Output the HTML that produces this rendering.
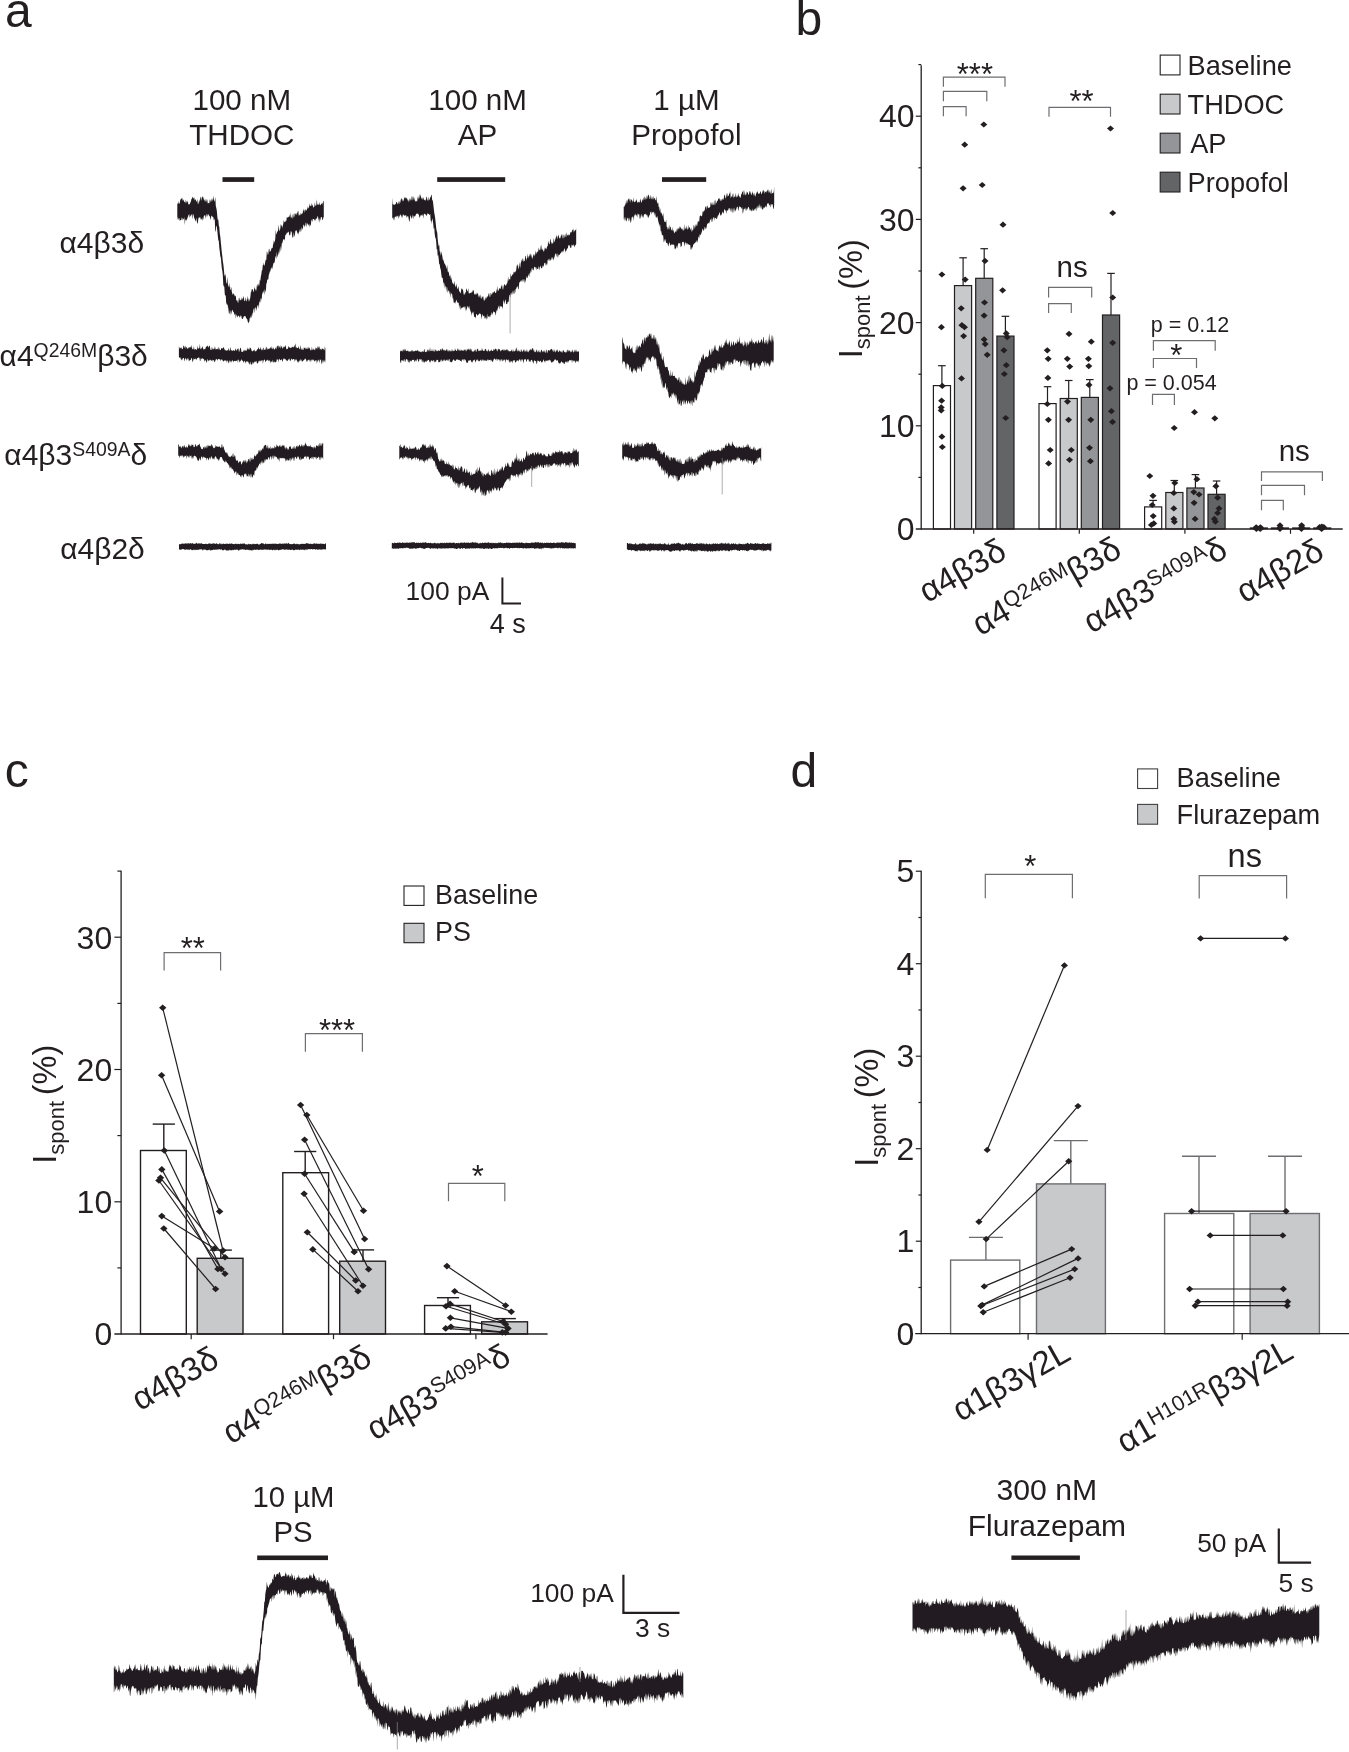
<!DOCTYPE html>
<html lang="en"><head><meta charset="utf-8"><title>Figure</title>
<style>html,body{margin:0;padding:0;background:#fff}svg{display:block;will-change:transform}text{font-family:"Liberation Sans",sans-serif;fill:#231f20}</style>
</head><body>
<svg width="1349" height="1752" viewBox="0 0 1349 1752">
<defs><filter id="soft" x="-2%" y="-10%" width="104%" height="120%"><feGaussianBlur stdDeviation="0.42"/></filter></defs>
<rect width="1349" height="1752" fill="#fff"/>
<g id="panel-a">
<text x="5" y="27.2" font-size="48.0" text-anchor="start">a</text>
<text x="241.8" y="109.6" font-size="29.6" text-anchor="middle">100 nM</text>
<text x="241.8" y="144.7" font-size="29.6" text-anchor="middle">THDOC</text>
<text x="477.6" y="109.6" font-size="29.6" text-anchor="middle">100 nM</text>
<text x="477.6" y="144.7" font-size="29.6" text-anchor="middle">AP</text>
<text x="686.4" y="109.6" font-size="29.6" text-anchor="middle">1 µM</text>
<text x="686.4" y="144.7" font-size="29.6" text-anchor="middle">Propofol</text>
<rect x="222.5" y="177.2" width="31.7" height="4.7" fill="#231f20"/>
<rect x="437.2" y="177.2" width="68" height="4.7" fill="#231f20"/>
<rect x="662" y="177.2" width="44.2" height="4.7" fill="#231f20"/>
<text x="144.2" y="252.9" font-size="30.0" text-anchor="end">α4β3δ</text>
<text x="147.8" y="365.5" font-size="30.0" text-anchor="end">α4<tspan font-size="19.4" dy="-9">Q246M</tspan><tspan dy="9">β3δ</tspan></text>
<text x="147.2" y="464.5" font-size="30.0" text-anchor="end">α4β3<tspan font-size="19.4" dy="-9">S409A</tspan><tspan dy="9">δ</tspan></text>
<text x="144.8" y="559" font-size="30.0" text-anchor="end">α4β2δ</text>
<path d="M177.3 204.1L177.8 203.4L178.3 201.1L178.8 204L179.3 203.8L179.8 202.8L180.3 199.8L180.8 199.3L181.3 198.2L181.8 198.6L182.3 201.1L182.8 197.4L183.3 200.1L183.8 200.6L184.3 202.3L184.8 201.5L185.3 203.4L185.8 199.2L186.3 203.6L186.8 200.5L187.3 202.4L187.8 200.4L188.3 204.3L188.8 204.5L189.3 204.1L189.8 204.6L190.3 200.9L190.8 203.6L191.3 198.5L191.8 199.6L192.3 197.6L192.8 196.7L193.3 198L193.8 198.3L194.3 200.8L194.8 197.1L195.3 200.5L195.8 198.9L196.3 201.4L196.8 201.8L197.3 198.7L197.8 203.7L198.3 204.1L198.8 202.1L199.3 199.2L199.8 202.6L200.3 197.8L200.8 196.4L201.3 201.1L201.8 197.2L202.3 197.2L202.8 196L203.3 200L203.8 196.4L204.3 200.2L204.8 200.5L205.3 202L205.8 198.4L206.3 202.4L206.8 199.1L207.3 200.1L207.8 203.4L208.3 203.2L208.8 202.8L209.3 203.6L209.8 199.3L210.3 200.1L210.8 202.6L211.3 198L211.8 201.9L212.3 198L212.8 201.7L213.3 195.5L213.8 199.3L214.3 201.8L214.8 200.2L215.3 196.9L215.8 206.1L216.3 208.1L216.8 210.6L217.3 216.5L217.8 220L218.3 219.4L218.8 225.6L219.3 226.9L219.8 233.4L220.3 236.4L220.8 242.1L221.3 246.9L221.8 252.3L222.3 256.1L222.8 261.1L223.3 264.1L223.8 268.6L224.3 274.2L224.8 276.5L225.3 273.4L225.8 276.9L226.3 282.9L226.8 283.4L227.3 276.6L227.8 283.6L228.3 285.5L228.8 286.9L229.3 287.3L229.8 282.7L230.3 289.6L230.8 290.1L231.3 286.8L231.8 291.8L232.3 293.6L232.8 294.9L233.3 293.1L233.8 294.3L234.3 294.6L234.8 296.2L235.3 296.3L235.8 295.3L236.3 301L236.8 299.9L237.3 300.2L237.8 302.4L238.3 302.7L238.8 298.3L239.3 297.4L239.8 300.5L240.3 299.5L240.8 300.7L241.3 297.3L241.8 300.5L242.3 297.3L242.8 300.1L243.3 297.7L243.8 295.8L244.3 300.8L244.8 301.2L245.3 300.3L245.8 296.8L246.3 301.1L246.8 301.5L247.3 295.4L247.8 299.7L248.3 298L248.8 301.6L249.3 300.8L249.8 299.2L250.3 297.5L250.8 292.4L251.3 291.8L251.8 289.1L252.3 289.5L252.8 289L253.3 292L253.8 291.8L254.3 286.8L254.8 288.5L255.3 291L255.8 288.5L256.3 291L256.8 285.8L257.3 283.8L257.8 287.2L258.3 283L258.8 286L259.3 285.3L259.8 279.4L260.3 281.1L260.8 276.8L261.3 274.2L261.8 270.6L262.3 270.2L262.8 265L263.3 265.2L263.8 262.6L264.3 266.3L264.8 264.6L265.3 261.6L265.8 259.4L266.3 260.2L266.8 251.5L267.3 252L267.8 255.1L268.3 253.9L268.8 249.6L269.3 248.6L269.8 252L270.3 251.2L270.8 251L271.3 249.1L271.8 247.8L272.3 248.2L272.8 247.2L273.3 239.7L273.8 244.9L274.3 241.6L274.8 241.5L275.3 238.2L275.8 229.2L276.3 234.6L276.8 233.4L277.3 231.2L277.8 231.4L278.3 228.7L278.8 224.7L279.3 231L279.8 230.5L280.3 228.5L280.8 223.7L281.3 226.6L281.8 224.6L282.3 228.2L282.8 225.5L283.3 223.7L283.8 219.7L284.3 222.1L284.8 222.3L285.3 222.1L285.8 220.6L286.3 221L286.8 217.3L287.3 217.6L287.8 217.5L288.3 216.5L288.8 217.5L289.3 214.5L289.8 217.1L290.3 217.6L290.8 212.2L291.3 217.5L291.8 217.5L292.3 219L292.8 213.5L293.3 218.2L293.8 214L294.3 213.1L294.8 217.4L295.3 213.8L295.8 213.6L296.3 215.3L296.8 213.1L297.3 213.3L297.8 211.2L298.3 210.7L298.8 216.1L299.3 214.3L299.8 215.7L300.3 212.4L300.8 215.6L301.3 214L301.8 213.4L302.3 213.8L302.8 212.6L303.3 208.5L303.8 211.3L304.3 209.5L304.8 212.7L305.3 210.3L305.8 208.9L306.3 210.2L306.8 210.7L307.3 205.9L307.8 209.2L308.3 208L308.8 207.8L309.3 203.3L309.8 206.6L310.3 205.8L310.8 206.1L311.3 202.7L311.8 206.5L312.3 204.2L312.8 205.9L313.3 207L313.8 207.8L314.3 206.7L314.8 202.2L315.3 205.5L315.8 205.8L316.3 205.3L316.8 199.3L317.3 204.3L317.8 204.8L318.3 204.4L318.8 204.7L319.3 202L319.8 205.1L320.3 205.2L320.8 204.8L321.3 203.5L321.8 203.7L322.3 202.2L322.8 204.9L323.3 200.6L323.8 201.7L323.8 217.1L323.3 217.4L322.8 220.2L322.3 219.8L321.8 217L321.3 216.9L320.8 217.4L320.3 220.8L319.8 218L319.3 223.3L318.8 216.8L318.3 221.8L317.8 216.3L317.3 216.3L316.8 219.4L316.3 218L315.8 218.8L315.3 221L314.8 218.9L314.3 220.9L313.8 219.1L313.3 218.9L312.8 218.7L312.3 222.3L311.8 219.6L311.3 220.7L310.8 225.1L310.3 226.1L309.8 223.4L309.3 227.4L308.8 224L308.3 225.7L307.8 223.7L307.3 223L306.8 227.5L306.3 223.5L305.8 222.3L305.3 225.8L304.8 225.2L304.3 227.5L303.8 224.5L303.3 224.9L302.8 229.8L302.3 228.8L301.8 226.7L301.3 230.6L300.8 232.4L300.3 228.3L299.8 232.5L299.3 228.8L298.8 235.3L298.3 232.6L297.8 232.3L297.3 234.2L296.8 230.6L296.3 230.4L295.8 230.6L295.3 231.3L294.8 235.6L294.3 237L293.8 232.1L293.3 236.9L292.8 237.7L292.3 236.9L291.8 232.6L291.3 231.4L290.8 231.1L290.3 235.1L289.8 234.7L289.3 236L288.8 231.4L288.3 232L287.8 233L287.3 232L286.8 234.7L286.3 232.5L285.8 234.9L285.3 234.9L284.8 241L284.3 239.1L283.8 239.8L283.3 238.8L282.8 241.1L282.3 243.2L281.8 243.3L281.3 248.5L280.8 251.7L280.3 246L279.8 249.2L279.3 252.4L278.8 255.2L278.3 251.1L277.8 256.4L277.3 256.8L276.8 251.6L276.3 259.4L275.8 255.9L275.3 257.1L274.8 261.2L274.3 262.9L273.8 262.8L273.3 263.8L272.8 266.2L272.3 268.7L271.8 268.9L271.3 266.9L270.8 269L270.3 271.5L269.8 271.4L269.3 273.7L268.8 275L268.3 279.4L267.8 279.8L267.3 279.3L266.8 282.8L266.3 284.1L265.8 292.6L265.3 290.7L264.8 288.8L264.3 295.2L263.8 290.3L263.3 292.2L262.8 294.2L262.3 291.6L261.8 298.4L261.3 298.8L260.8 303.3L260.3 297.6L259.8 301.7L259.3 302.1L258.8 309.1L258.3 304.5L257.8 304.9L257.3 306.3L256.8 307.9L256.3 310.9L255.8 307.2L255.3 307.4L254.8 313.4L254.3 307.8L253.8 308.8L253.3 310.1L252.8 316.5L252.3 312L251.8 315L251.3 318.2L250.8 316.1L250.3 318.2L249.8 317.8L249.3 321.8L248.8 322L248.3 323.5L247.8 321.7L247.3 319.7L246.8 317.8L246.3 319.2L245.8 317L245.3 316L244.8 316.1L244.3 316.3L243.8 316.6L243.3 317.6L242.8 319.1L242.3 318.9L241.8 318.6L241.3 316.1L240.8 315.3L240.3 316.4L239.8 317.7L239.3 316.6L238.8 316L238.3 315.6L237.8 316.2L237.3 317.8L236.8 314.5L236.3 315.4L235.8 318.8L235.3 313.3L234.8 314.8L234.3 314.7L233.8 311.6L233.3 312.6L232.8 310.6L232.3 309.8L231.8 310.9L231.3 313.7L230.8 314.8L230.3 309.8L229.8 314.1L229.3 313.2L228.8 306.3L228.3 314.3L227.8 305.5L227.3 304.8L226.8 303L226.3 305.1L225.8 296.3L225.3 295.3L224.8 294.6L224.3 286.7L223.8 286.2L223.3 285.1L222.8 275.3L222.3 270.7L221.8 268.2L221.3 262.8L220.8 257.5L220.3 256.3L219.8 251.4L219.3 247.7L218.8 241.1L218.3 240.2L217.8 236L217.3 231L216.8 226.2L216.3 225.7L215.8 230.7L215.3 232L214.8 220.5L214.3 218.5L213.8 220.5L213.3 217.1L212.8 217.1L212.3 216.6L211.8 216.1L211.3 215.5L210.8 220L210.3 218.3L209.8 216.2L209.3 216.2L208.8 214.7L208.3 213.9L207.8 217L207.3 214.4L206.8 213.7L206.3 216.3L205.8 218.8L205.3 215.4L204.8 215.1L204.3 215.8L203.8 216.3L203.3 219.8L202.8 217.4L202.3 221L201.8 218.4L201.3 220L200.8 216.7L200.3 220L199.8 217.3L199.3 217.6L198.8 217.5L198.3 219.1L197.8 223L197.3 223.8L196.8 221.2L196.3 217.7L195.8 220.8L195.3 221.2L194.8 218.7L194.3 218.6L193.8 216L193.3 214.2L192.8 214.1L192.3 219.4L191.8 215.1L191.3 214.1L190.8 216.8L190.3 215.8L189.8 213.7L189.3 218.2L188.8 215.2L188.3 214.6L187.8 219.4L187.3 216.3L186.8 221.3L186.3 219.5L185.8 219.7L185.3 219.8L184.8 225L184.3 216.9L183.8 219.8L183.3 218.2L182.8 220.5L182.3 217.9L181.8 217.5L181.3 219.9L180.8 220.3L180.3 220.1L179.8 221.2L179.3 217.8L178.8 220.3L178.3 217.4L177.8 220.1L177.3 216.2Z" fill="#231f20" filter="url(#soft)"/>
<path d="M392.2 197.8L392.7 204L393.2 204.8L393.7 204.2L394.2 204.7L394.7 204.7L395.2 204.3L395.7 204.3L396.2 202L396.7 201.9L397.2 203.2L397.7 204.4L398.2 201L398.7 203.6L399.2 204.3L399.7 200.7L400.2 203L400.7 200.1L401.2 198.2L401.7 198.6L402.2 201.7L402.7 198.7L403.2 201.3L403.7 200.3L404.2 196.5L404.7 198.8L405.2 197L405.7 198.5L406.2 198.3L406.7 197.5L407.2 200.9L407.7 198.5L408.2 199.9L408.7 202.6L409.2 197.5L409.7 201.8L410.2 198.4L410.7 200.9L411.2 195.6L411.7 199.9L412.2 200.4L412.7 196.6L413.2 196.6L413.7 198.9L414.2 200.7L414.7 197.1L415.2 202.3L415.7 200.6L416.2 201.7L416.7 200.5L417.2 201.4L417.7 196.3L418.2 199.4L418.7 197.2L419.2 194L419.7 198.4L420.2 196.4L420.7 193.9L421.2 197.7L421.7 199L422.2 197.3L422.7 199.6L423.2 199.6L423.7 196.9L424.2 199.8L424.7 200.3L425.2 200L425.7 201L426.2 196.6L426.7 196.9L427.2 201.1L427.7 199.4L428.2 196.6L428.7 200.8L429.2 199.7L429.7 199.2L430.2 196.2L430.7 197.9L431.2 194.7L431.7 194.9L432.2 201L432.7 199.5L433.2 203.6L433.7 208L434.2 212.6L434.7 215L435.2 218.6L435.7 223.1L436.2 227.9L436.7 231.1L437.2 232.3L437.7 239.3L438.2 243.2L438.7 246.6L439.2 244.4L439.7 251.4L440.2 251.4L440.7 255.9L441.2 251.2L441.7 253.7L442.2 255.6L442.7 258.8L443.2 261.4L443.7 259L444.2 264.2L444.7 262.4L445.2 266L445.7 263.9L446.2 269L446.7 267.5L447.2 265L447.7 271.3L448.2 272.8L448.7 271L449.2 275.3L449.7 276.5L450.2 274.4L450.7 278L451.2 280.6L451.7 276.4L452.2 282.6L452.7 283.1L453.2 284.4L453.7 284L454.2 280.9L454.7 283.7L455.2 285.9L455.7 287.6L456.2 283.4L456.7 286L457.2 288.3L457.7 289.6L458.2 286.2L458.7 288.3L459.2 292L459.7 291.1L460.2 292.9L460.7 293.2L461.2 289.4L461.7 287.9L462.2 290.1L462.7 288.6L463.2 291L463.7 294.6L464.2 294.9L464.7 293.7L465.2 291.9L465.7 293.7L466.2 288.6L466.7 289.1L467.2 291L467.7 291.5L468.2 288L468.7 293.2L469.2 293.6L469.7 293.3L470.2 293L470.7 293.1L471.2 291.7L471.7 293.6L472.2 289.7L472.7 292.5L473.2 290.8L473.7 289.4L474.2 294.2L474.7 294.6L475.2 293.4L475.7 295L476.2 292.4L476.7 295L477.2 294.1L477.7 292.4L478.2 294.6L478.7 297.4L479.2 294.9L479.7 296.7L480.2 298.5L480.7 294.2L481.2 297L481.7 299.3L482.2 297.2L482.7 296.4L483.2 295.9L483.7 299.9L484.2 300.9L484.7 299.7L485.2 296.7L485.7 300L486.2 296.3L486.7 299L487.2 296.7L487.7 296.5L488.2 295.6L488.7 293.3L489.2 293.4L489.7 297L490.2 296.8L490.7 292.7L491.2 293.6L491.7 295.5L492.2 291.6L492.7 294.4L493.2 291.4L493.7 293L494.2 291.5L494.7 290.9L495.2 293.3L495.7 292.8L496.2 292.6L496.7 288.7L497.2 291.6L497.7 285.7L498.2 290.4L498.7 290.7L499.2 288.4L499.7 288.2L500.2 288.5L500.7 289.1L501.2 284.2L501.7 286.9L502.2 285.3L502.7 289.4L503.2 289.3L503.7 286L504.2 284.3L504.7 284.2L505.2 286.3L505.7 285L506.2 285.2L506.7 283.7L507.2 283.3L507.7 280.7L508.2 276.2L508.7 281.3L509.2 279.2L509.7 278.9L510.2 279.5L510.7 273L511.2 276.4L511.7 276.3L512.2 274.7L512.7 274.6L513.2 274.3L513.7 271.8L514.2 271.8L514.7 272.7L515.2 272.2L515.7 271.3L516.2 270.3L516.7 265.6L517.2 265.8L517.7 263.5L518.2 269.5L518.7 267.8L519.2 262L519.7 266L520.2 268L520.7 263.2L521.2 261.7L521.7 259.4L522.2 261.3L522.7 258.1L523.2 259.2L523.7 261.9L524.2 260.9L524.7 261.1L525.2 255.8L525.7 256.1L526.2 260.4L526.7 258.6L527.2 258L527.7 253.2L528.2 258.7L528.7 255.9L529.2 256.6L529.7 254.5L530.2 253.5L530.7 254.9L531.2 258.1L531.7 253.8L532.2 258.8L532.7 258.2L533.2 253.4L533.7 255.4L534.2 256.6L534.7 254.2L535.2 254.7L535.7 250.2L536.2 254.2L536.7 252.6L537.2 251L537.7 252.6L538.2 251.3L538.7 247.6L539.2 249.5L539.7 250.2L540.2 250.2L540.7 246.4L541.2 244.6L541.7 249.3L542.2 250.2L542.7 248.4L543.2 251L543.7 251.9L544.2 247L544.7 251.6L545.2 247.6L545.7 248.5L546.2 249.4L546.7 248L547.2 246.3L547.7 246.3L548.2 240.5L548.7 243.1L549.2 244.3L549.7 244L550.2 238.8L550.7 239.6L551.2 244.6L551.7 241.4L552.2 244.3L552.7 242.7L553.2 243.1L553.7 237.8L554.2 242L554.7 241.4L555.2 237L555.7 240.3L556.2 236.4L556.7 235L557.2 239.4L557.7 236.5L558.2 235.9L558.7 234.5L559.2 239.1L559.7 237.5L560.2 238.6L560.7 236.7L561.2 233.8L561.7 236.2L562.2 234.1L562.7 238.3L563.2 238.4L563.7 234.7L564.2 234.5L564.7 238.6L565.2 233.2L565.7 237L566.2 236.7L566.7 232L567.2 235.9L567.7 234.6L568.2 236L568.7 234L569.2 235.2L569.7 235L570.2 233L570.7 231.9L571.2 231.8L571.7 232.8L572.2 229.8L572.7 229.4L573.2 232.7L573.7 228.2L574.2 231.8L574.7 230.4L575.2 230.3L575.7 230L576.2 228.6L576.2 243.7L575.7 245.5L575.2 244.5L574.7 247.5L574.2 245.9L573.7 244L573.2 246L572.7 244.8L572.2 245.9L571.7 244.3L571.2 248.1L570.7 247.4L570.2 247.9L569.7 245.5L569.2 245.2L568.7 244.9L568.2 246.1L567.7 249L567.2 248L566.7 249.7L566.2 251L565.7 250.4L565.2 252.7L564.7 248.5L564.2 248.4L563.7 252.8L563.2 249.4L562.7 252.7L562.2 250.8L561.7 251.8L561.2 252.6L560.7 253.2L560.2 253.5L559.7 254.9L559.2 254.8L558.7 254.5L558.2 256.7L557.7 257.4L557.2 253.3L556.7 253.9L556.2 256.9L555.7 253.2L555.2 253.8L554.7 256.2L554.2 257.7L553.7 260.8L553.2 258.4L552.7 256.8L552.2 259.2L551.7 259.8L551.2 256.8L550.7 261L550.2 260.1L549.7 258.6L549.2 261.6L548.7 258.5L548.2 261.1L547.7 259.5L547.2 264.9L546.7 263.3L546.2 265.6L545.7 265.2L545.2 262.4L544.7 263.1L544.2 263.2L543.7 265.9L543.2 266.7L542.7 265.4L542.2 268.1L541.7 268.1L541.2 268.6L540.7 266.4L540.2 265.5L539.7 270.8L539.2 267.1L538.7 266.2L538.2 269.3L537.7 269.1L537.2 268.9L536.7 266.9L536.2 270.4L535.7 267.8L535.2 267.1L534.7 266.8L534.2 266.9L533.7 269.6L533.2 270.5L532.7 269.9L532.2 267.9L531.7 268.6L531.2 272.5L530.7 270.6L530.2 273.4L529.7 272.7L529.2 276.9L528.7 275.5L528.2 274.1L527.7 277.7L527.2 278.1L526.7 276L526.2 278.4L525.7 280.3L525.2 282.2L524.7 283L524.2 279.1L523.7 279.4L523.2 282L522.7 278.7L522.2 281.9L521.7 281.4L521.2 279.8L520.7 281L520.2 281.8L519.7 281.9L519.2 282.9L518.7 288.4L518.2 289.8L517.7 286.2L517.2 286.4L516.7 287.3L516.2 288.7L515.7 288.9L515.2 292.4L514.7 294.2L514.2 289.5L513.7 291.7L513.2 294.6L512.7 290.3L512.2 295.1L511.7 291.9L511.2 295.3L510.7 292.9L510.2 298L509.7 295L509.2 295.2L508.7 301.4L508.2 302.1L507.7 301.7L507.2 304L506.7 303.7L506.2 304.4L505.7 299L505.2 300.8L504.7 302L504.2 304.6L503.7 299.6L503.2 302.1L502.7 309.6L502.2 307L501.7 306.4L501.2 306.5L500.7 305.7L500.2 306.8L499.7 309.7L499.2 305.4L498.7 306.1L498.2 307.6L497.7 308.4L497.2 310.9L496.7 309.9L496.2 312L495.7 316.1L495.2 313.1L494.7 311.8L494.2 312.4L493.7 311.2L493.2 311.7L492.7 315L492.2 313.1L491.7 312.3L491.2 314.9L490.7 315L490.2 317L489.7 317.4L489.2 315.4L488.7 316.7L488.2 316.2L487.7 319.3L487.2 313.6L486.7 317.7L486.2 319.7L485.7 318.2L485.2 316.9L484.7 319.2L484.2 315.4L483.7 316.1L483.2 316.4L482.7 314L482.2 315.3L481.7 319.4L481.2 316.3L480.7 313.5L480.2 313.9L479.7 313.5L479.2 313.4L478.7 314.5L478.2 314.8L477.7 316.1L477.2 314.9L476.7 313.9L476.2 313.9L475.7 318.8L475.2 317L474.7 316.7L474.2 317.2L473.7 313.7L473.2 311.3L472.7 313.7L472.2 311.3L471.7 315.9L471.2 312.8L470.7 311.8L470.2 310.1L469.7 308.8L469.2 305.9L468.7 306.8L468.2 308.8L467.7 306L467.2 306.6L466.7 311.1L466.2 308.7L465.7 305.9L465.2 311.7L464.7 306.1L464.2 307.4L463.7 307.4L463.2 306.4L462.7 307.9L462.2 307.2L461.7 308.1L461.2 308.4L460.7 310L460.2 305.7L459.7 304.9L459.2 309L458.7 303L458.2 302.7L457.7 301.8L457.2 303.4L456.7 299.8L456.2 300.3L455.7 304L455.2 301.2L454.7 302.5L454.2 303.2L453.7 302.5L453.2 298.3L452.7 298.6L452.2 294.4L451.7 293.6L451.2 293.2L450.7 297.9L450.2 292L449.7 294.6L449.2 291.1L448.7 291.4L448.2 289.7L447.7 293.4L447.2 287.5L446.7 286.7L446.2 291.9L445.7 286.4L445.2 286.3L444.7 282.6L444.2 288.7L443.7 282.8L443.2 282.5L442.7 277.5L442.2 278.3L441.7 277.2L441.2 273.2L440.7 269.2L440.2 268.3L439.7 263.9L439.2 264.4L438.7 259.1L438.2 255L437.7 256L437.2 248.9L436.7 249.7L436.2 241.9L435.7 238.3L435.2 237.5L434.7 233.9L434.2 227.6L433.7 229.1L433.2 223.5L432.7 220L432.2 218.3L431.7 224.1L431.2 220.4L430.7 221L430.2 213.7L429.7 214.9L429.2 214.7L428.7 213.8L428.2 213.9L427.7 213L427.2 214.6L426.7 216.3L426.2 214.9L425.7 213.7L425.2 215L424.7 213.8L424.2 213.7L423.7 214.8L423.2 218.8L422.7 213.7L422.2 216L421.7 215.6L421.2 214.8L420.7 215.3L420.2 216.4L419.7 217.9L419.2 216.4L418.7 213.6L418.2 214.9L417.7 213.5L417.2 213.5L416.7 214L416.2 213.6L415.7 215.1L415.2 216.3L414.7 216.7L414.2 215.9L413.7 215.6L413.2 219.3L412.7 217.3L412.2 214.5L411.7 219L411.2 217.9L410.7 215L410.2 216.5L409.7 220.5L409.2 222.1L408.7 219L408.2 216.2L407.7 216.1L407.2 216.7L406.7 217.9L406.2 215.2L405.7 215.3L405.2 215.6L404.7 215.2L404.2 216.2L403.7 214.4L403.2 214.4L402.7 218.4L402.2 214.2L401.7 217.8L401.2 215.7L400.7 214.3L400.2 215.2L399.7 215.5L399.2 217L398.7 219L398.2 215.4L397.7 216.7L397.2 215.7L396.7 215.7L396.2 217.4L395.7 216.7L395.2 216.6L394.7 217L394.2 220.8L393.7 217.1L393.2 220.4L392.7 217.5L392.2 218.3Z" fill="#231f20" filter="url(#soft)"/>
<line x1="510.1" y1="296" x2="510.1" y2="333.5" stroke="#8a8a8a" stroke-width="0.7"/>
<path d="M623.7 206.7L624.2 207L624.7 205.6L625.2 204.7L625.7 203.4L626.2 199.8L626.7 203.6L627.2 202.7L627.7 200.2L628.2 198.4L628.7 199.1L629.2 201.4L629.7 197.7L630.2 203.1L630.7 198.4L631.2 200.4L631.7 199.1L632.2 201.1L632.7 202.6L633.2 197.3L633.7 201.3L634.2 202L634.7 202.2L635.2 200.3L635.7 202.2L636.2 200.5L636.7 198.8L637.2 202.4L637.7 202.5L638.2 202.5L638.7 201.4L639.2 202.6L639.7 202.2L640.2 198.4L640.7 200.3L641.2 202.4L641.7 202.6L642.2 198.7L642.7 200.4L643.2 200.6L643.7 196.9L644.2 200.2L644.7 195.9L645.2 197.7L645.7 199.9L646.2 195L646.7 199.6L647.2 198.3L647.7 196.1L648.2 194.5L648.7 195.3L649.2 196.8L649.7 199.1L650.2 199L650.7 194.7L651.2 196.9L651.7 199.1L652.2 199.4L652.7 197.3L653.2 195.9L653.7 199.5L654.2 198.2L654.7 197.8L655.2 200L655.7 200.5L656.2 196.1L656.7 200.6L657.2 202.4L657.7 203.7L658.2 202.5L658.7 207.3L659.2 206.7L659.7 211.5L660.2 207.9L660.7 212.7L661.2 213.8L661.7 211.7L662.2 216.6L662.7 214.9L663.2 212.8L663.7 218.3L664.2 220.9L664.7 222.1L665.2 222.2L665.7 221.7L666.2 219.6L666.7 226.9L667.2 226.9L667.7 229.2L668.2 229.4L668.7 227.5L669.2 224.4L669.7 230L670.2 226.6L670.7 227.1L671.2 229.9L671.7 230.5L672.2 226.9L672.7 231L673.2 229.5L673.7 231.2L674.2 232.4L674.7 233.4L675.2 231.3L675.7 231.6L676.2 232L676.7 229.6L677.2 227.8L677.7 231.1L678.2 227.5L678.7 229.3L679.2 229.1L679.7 225.9L680.2 228.6L680.7 226.2L681.2 228.8L681.7 228.7L682.2 230.4L682.7 227.9L683.2 230.6L683.7 230.6L684.2 223.7L684.7 230.4L685.2 227.2L685.7 229L686.2 228.9L686.7 225.2L687.2 229.6L687.7 229.4L688.2 224.4L688.7 229.2L689.2 227.6L689.7 226.8L690.2 229L690.7 230.1L691.2 227.3L691.7 232L692.2 230.9L692.7 229.5L693.2 230.1L693.7 225.1L694.2 225.4L694.7 229.2L695.2 223.5L695.7 227.9L696.2 223.4L696.7 226.2L697.2 225.8L697.7 221.4L698.2 222.2L698.7 220.7L699.2 221.5L699.7 216.2L700.2 215.6L700.7 215.4L701.2 216.1L701.7 216.6L702.2 215.3L702.7 211L703.2 212.5L703.7 210.8L704.2 211L704.7 210.1L705.2 207.3L705.7 206.5L706.2 205.8L706.7 209.8L707.2 207.3L707.7 205.1L708.2 207.7L708.7 208.1L709.2 207.8L709.7 207.3L710.2 206.7L710.7 201.5L711.2 205.4L711.7 202.8L712.2 202.3L712.7 205.2L713.2 204.9L713.7 204L714.2 199.6L714.7 204.9L715.2 204.8L715.7 199.6L716.2 202.2L716.7 203.5L717.2 200.6L717.7 201L718.2 198.8L718.7 198.7L719.2 197.7L719.7 199.2L720.2 201.4L720.7 199.4L721.2 199L721.7 201.4L722.2 198L722.7 199.8L723.2 200L723.7 198.5L724.2 195.1L724.7 194.5L725.2 197.9L725.7 198.6L726.2 192.5L726.7 197.4L727.2 192.5L727.7 196.8L728.2 195.4L728.7 195.9L729.2 193.6L729.7 193.6L730.2 191.1L730.7 198.4L731.2 196.4L731.7 196.6L732.2 197.1L732.7 193.7L733.2 193.6L733.7 198.4L734.2 196.7L734.7 196.4L735.2 197.1L735.7 192.9L736.2 196.3L736.7 197.7L737.2 194.8L737.7 197.2L738.2 195.7L738.7 192.6L739.2 197.8L739.7 195.7L740.2 197.8L740.7 197.4L741.2 193.2L741.7 194.7L742.2 191.8L742.7 191.7L743.2 190L743.7 195.3L744.2 195.1L744.7 190.2L745.2 195L745.7 195.3L746.2 191L746.7 195.1L747.2 192.2L747.7 192L748.2 194.3L748.7 195L749.2 192.8L749.7 190.8L750.2 191.4L750.7 193.2L751.2 195.3L751.7 194.3L752.2 191L752.7 193.2L753.2 193.3L753.7 194.9L754.2 196.3L754.7 192.2L755.2 197.1L755.7 195L756.2 193.6L756.7 192.3L757.2 192.4L757.7 190.7L758.2 194.3L758.7 193.6L759.2 193.7L759.7 193.3L760.2 192.1L760.7 191L761.2 193.8L761.7 194.2L762.2 192.6L762.7 190.9L763.2 189.4L763.7 191.5L764.2 190.8L764.7 194L765.2 191.5L765.7 192.3L766.2 190.7L766.7 192.9L767.2 189L767.7 191.5L768.2 189.1L768.7 192.4L769.2 192.8L769.7 190.2L770.2 194L770.7 191.9L771.2 188.6L771.7 194.2L772.2 193.3L772.7 192.9L773.2 193L773.7 192.1L774.2 186.4L774.2 204.5L773.7 209.3L773.2 208.6L772.7 204.7L772.2 204.1L771.7 204L771.2 205.3L770.7 207.7L770.2 203.8L769.7 205.6L769.2 205.2L768.7 203.6L768.2 203.2L767.7 203.5L767.2 203.5L766.7 206.6L766.2 207.4L765.7 205.3L765.2 207.3L764.7 207.2L764.2 208L763.7 207.3L763.2 209.1L762.7 209.3L762.2 209.9L761.7 205.4L761.2 209.6L760.7 205.1L760.2 209.1L759.7 203.6L759.2 207.4L758.7 208.1L758.2 204.9L757.7 206.2L757.2 209L756.7 206.8L756.2 211.6L755.7 209.2L755.2 207.7L754.7 210.8L754.2 208.5L753.7 210.2L753.2 211.1L752.7 211L752.2 208.6L751.7 210.7L751.2 211.5L750.7 208.9L750.2 210.7L749.7 210.2L749.2 208.2L748.7 207L748.2 206.8L747.7 208.2L747.2 209.8L746.7 208.3L746.2 211.1L745.7 210.3L745.2 207.2L744.7 208.8L744.2 209.2L743.7 209L743.2 212.6L742.7 213.7L742.2 207.1L741.7 207.9L741.2 208.9L740.7 206.7L740.2 207L739.7 207.3L739.2 205.8L738.7 209.3L738.2 211.3L737.7 206.5L737.2 207.1L736.7 207.5L736.2 209.4L735.7 209.9L735.2 211.8L734.7 207.6L734.2 212.6L733.7 207.6L733.2 212.5L732.7 212.9L732.2 208.6L731.7 208.5L731.2 212.6L730.7 207.7L730.2 212.3L729.7 207.9L729.2 208.5L728.7 208.3L728.2 210.3L727.7 210.5L727.2 210.4L726.7 210.8L726.2 213.9L725.7 210.6L725.2 210.2L724.7 209.4L724.2 209.3L723.7 214L723.2 212.8L722.7 212.7L722.2 211.2L721.7 215.4L721.2 213.9L720.7 215.9L720.2 214.7L719.7 212.6L719.2 212.5L718.7 215.8L718.2 214.6L717.7 218.8L717.2 215.3L716.7 219.3L716.2 218.9L715.7 217.7L715.2 218.3L714.7 217.2L714.2 220.7L713.7 217L713.2 217.7L712.7 219L712.2 222L711.7 222L711.2 217.7L710.7 220.6L710.2 219L709.7 221.9L709.2 223.3L708.7 223.4L708.2 222.4L707.7 224.3L707.2 223.2L706.7 226.7L706.2 228.5L705.7 229.3L705.2 227.5L704.7 226.7L704.2 229.8L703.7 231L703.2 229.7L702.7 228.5L702.2 230L701.7 234.5L701.2 231.3L700.7 235.2L700.2 235.1L699.7 234.3L699.2 238.6L698.7 236.2L698.2 237.7L697.7 243.2L697.2 240.2L696.7 240.5L696.2 242.2L695.7 241.8L695.2 242.9L694.7 243.1L694.2 243.8L693.7 244.6L693.2 244.3L692.7 248.7L692.2 246.2L691.7 247.9L691.2 249.7L690.7 249.7L690.2 245.1L689.7 244.7L689.2 245L688.7 244.3L688.2 244.4L687.7 244.6L687.2 242.9L686.7 242.8L686.2 245L685.7 242.7L685.2 242.1L684.7 246.7L684.2 243.8L683.7 242.2L683.2 241.5L682.7 242L682.2 241.9L681.7 246.8L681.2 245.9L680.7 247.4L680.2 242.4L679.7 243.6L679.2 243.2L678.7 243.1L678.2 243.8L677.7 245.8L677.2 248.6L676.7 245.3L676.2 247.9L675.7 249.5L675.2 247.7L674.7 249.5L674.2 244.8L673.7 244.9L673.2 244.3L672.7 244.7L672.2 244.4L671.7 244.9L671.2 244.1L670.7 244.9L670.2 246.1L669.7 242.8L669.2 242.4L668.7 245L668.2 246.4L667.7 244.2L667.2 242.8L666.7 243.1L666.2 243L665.7 241L665.2 238.9L664.7 239.6L664.2 241.7L663.7 242.2L663.2 235.5L662.7 235.1L662.2 235.5L661.7 234L661.2 230.8L660.7 231.4L660.2 224.9L659.7 223.8L659.2 227.1L658.7 222.5L658.2 221.3L657.7 217.9L657.2 216L656.7 217.1L656.2 218.1L655.7 216.8L655.2 213.5L654.7 212.5L654.2 215.9L653.7 211.6L653.2 212.2L652.7 212.2L652.2 212.2L651.7 214.8L651.2 211.3L650.7 212.1L650.2 212.6L649.7 215.8L649.2 215.1L648.7 218.2L648.2 217.1L647.7 214.6L647.2 217.8L646.7 214.5L646.2 214.8L645.7 214.5L645.2 213.5L644.7 214.5L644.2 214.1L643.7 215.7L643.2 218.2L642.7 215.1L642.2 217.7L641.7 215.9L641.2 213.6L640.7 216.8L640.2 218.8L639.7 218.7L639.2 214.2L638.7 213.7L638.2 215.1L637.7 213.3L637.2 217.6L636.7 215.7L636.2 214.8L635.7 215.4L635.2 213.4L634.7 214.9L634.2 216L633.7 221L633.2 216.4L632.7 216.5L632.2 217.5L631.7 217.3L631.2 221.6L630.7 223.2L630.2 220.4L629.7 217.5L629.2 220.7L628.7 221.3L628.2 217.6L627.7 219.1L627.2 217.2L626.7 221L626.2 221.5L625.7 216.7L625.2 221.4L624.7 216.8L624.2 221.1L623.7 218.3Z" fill="#231f20" filter="url(#soft)"/>
<path d="M178.9 345.5L179.4 349L179.9 347.1L180.4 347.9L180.9 348.4L181.4 346.9L181.9 349.2L182.4 349.1L182.9 348.8L183.4 345.8L183.9 345.5L184.4 346.9L184.9 348L185.4 345.3L185.9 349.3L186.4 346.8L186.9 347.4L187.4 348.5L187.9 348.9L188.4 348.1L188.9 347.2L189.4 347.7L189.9 347L190.4 346.6L190.9 348.1L191.4 344.8L191.9 348.3L192.4 348.8L192.9 349.4L193.4 349.1L193.9 346L194.4 349.8L194.9 349.6L195.4 349.1L195.9 349.2L196.4 349.8L196.9 349.7L197.4 345.2L197.9 349.3L198.4 348.6L198.9 347.9L199.4 347.7L199.9 343.4L200.4 349.2L200.9 349.1L201.4 347.6L201.9 349L202.4 346.1L202.9 347.5L203.4 349.6L203.9 349.4L204.4 348.7L204.9 349.4L205.4 348.7L205.9 347L206.4 346.4L206.9 346.5L207.4 345.3L207.9 346.5L208.4 347.7L208.9 345.9L209.4 345.5L209.9 346.5L210.4 349.8L210.9 349.9L211.4 350L211.9 346.4L212.4 350.1L212.9 347.6L213.4 349.4L213.9 349L214.4 348.7L214.9 346.2L215.4 348.3L215.9 350L216.4 349L216.9 348.9L217.4 348.4L217.9 349.4L218.4 346.5L218.9 350.3L219.4 347.4L219.9 350.2L220.4 350.1L220.9 349.5L221.4 347.9L221.9 347.9L222.4 348.8L222.9 347.9L223.4 347.3L223.9 347.5L224.4 349.1L224.9 350.3L225.4 350.1L225.9 350.6L226.4 350.7L226.9 350.3L227.4 349.7L227.9 351L228.4 347.6L228.9 350.4L229.4 350.9L229.9 349.2L230.4 346.8L230.9 350.6L231.4 350L231.9 350.8L232.4 350.9L232.9 350.2L233.4 350.4L233.9 350L234.4 351L234.9 350.7L235.4 348.3L235.9 349.7L236.4 350.9L236.9 349.5L237.4 348.6L237.9 349.7L238.4 347.7L238.9 351.7L239.4 351.5L239.9 349.1L240.4 347.8L240.9 347.9L241.4 351.5L241.9 352L242.4 352L242.9 351.6L243.4 351.3L243.9 349.8L244.4 350.1L244.9 351.6L245.4 349.6L245.9 351.2L246.4 350.8L246.9 349.4L247.4 349.2L247.9 347.2L248.4 350.1L248.9 348.6L249.4 350.1L249.9 347.1L250.4 348.4L250.9 347.8L251.4 350.1L251.9 351.3L252.4 351L252.9 351.6L253.4 350.1L253.9 350.8L254.4 349.1L254.9 351.5L255.4 350.9L255.9 351.4L256.4 350.7L256.9 350.1L257.4 349.3L257.9 349.1L258.4 346.9L258.9 348.6L259.4 349.5L259.9 348.9L260.4 346.8L260.9 349.5L261.4 350.4L261.9 348.6L262.4 350.6L262.9 348.5L263.4 347.3L263.9 350.4L264.4 349.4L264.9 349.8L265.4 349.7L265.9 347.5L266.4 346.6L266.9 349.5L267.4 349.6L267.9 347.7L268.4 348.9L268.9 349.3L269.4 348.7L269.9 348.3L270.4 346.8L270.9 348.6L271.4 348.5L271.9 346L272.4 349.5L272.9 348.6L273.4 347.2L273.9 349.5L274.4 349.5L274.9 349.3L275.4 348.2L275.9 347.3L276.4 349.5L276.9 346L277.4 345.5L277.9 346.7L278.4 345L278.9 348.6L279.4 346.4L279.9 346.3L280.4 348.7L280.9 345.1L281.4 347.6L281.9 345.6L282.4 348.7L282.9 348.3L283.4 347.3L283.9 346.5L284.4 347.4L284.9 346.1L285.4 345.3L285.9 346.7L286.4 349.2L286.9 349.3L287.4 348.5L287.9 349.3L288.4 345.7L288.9 347.2L289.4 347L289.9 348.1L290.4 347.6L290.9 348.2L291.4 347.8L291.9 347.1L292.4 346.7L292.9 347L293.4 346.8L293.9 347.7L294.4 345.8L294.9 345.3L295.4 343.2L295.9 348L296.4 346.8L296.9 348.3L297.4 348L297.9 348.2L298.4 346.1L298.9 348.1L299.4 349.5L299.9 348.3L300.4 344.7L300.9 349.8L301.4 349.7L301.9 347.8L302.4 349.3L302.9 350.1L303.4 350L303.9 347.3L304.4 347.9L304.9 347.8L305.4 349.4L305.9 346.9L306.4 348.6L306.9 349L307.4 349.1L307.9 347L308.4 349L308.9 346.6L309.4 348.5L309.9 348.2L310.4 350.3L310.9 350.3L311.4 350.3L311.9 346.4L312.4 349.8L312.9 349.9L313.4 349.5L313.9 348.2L314.4 350.5L314.9 349.6L315.4 346.9L315.9 350.2L316.4 347.8L316.9 348.3L317.4 345.9L317.9 349.8L318.4 346L318.9 348L319.4 345.9L319.9 349.7L320.4 348.5L320.9 349.7L321.4 349.7L321.9 348.4L322.4 348.5L322.9 349L323.4 348.8L323.9 350L324.4 350.3L324.9 346.3L325.4 349.1L325.4 363.3L324.9 359.6L324.4 362.4L323.9 359.7L323.4 362.9L322.9 359.6L322.4 362L321.9 364.2L321.4 362.9L320.9 359.3L320.4 360.3L319.9 359.3L319.4 363.2L318.9 360.3L318.4 359.4L317.9 362.3L317.4 360L316.9 363.9L316.4 360.1L315.9 360.7L315.4 360.1L314.9 361.7L314.4 361.1L313.9 360.4L313.4 359.3L312.9 360.8L312.4 359.4L311.9 359.6L311.4 359.9L310.9 362.5L310.4 359.5L309.9 361.7L309.4 359.8L308.9 359.5L308.4 360L307.9 360.2L307.4 360.8L306.9 362.3L306.4 360.7L305.9 359L305.4 358.6L304.9 360.1L304.4 358.6L303.9 360.9L303.4 359.8L302.9 361L302.4 361.5L301.9 361.4L301.4 360.2L300.9 358.7L300.4 360.2L299.9 361.5L299.4 359.7L298.9 363.1L298.4 361.8L297.9 360.5L297.4 362.7L296.9 360.7L296.4 359L295.9 360.4L295.4 358.7L294.9 362.3L294.4 359.5L293.9 359.1L293.4 358.9L292.9 359.2L292.4 360L291.9 359L291.4 358.5L290.9 360L290.4 361.1L289.9 360.7L289.4 358L288.9 360.2L288.4 358.7L287.9 360.2L287.4 361L286.9 361.2L286.4 360.3L285.9 359.6L285.4 359.2L284.9 359.4L284.4 358.6L283.9 358.8L283.4 358.6L282.9 360.4L282.4 362.1L281.9 360.1L281.4 359L280.9 360.5L280.4 360L279.9 360.1L279.4 358.7L278.9 359.1L278.4 362.7L277.9 358.9L277.4 360.1L276.9 359L276.4 361.4L275.9 362.6L275.4 362.1L274.9 362.5L274.4 361.3L273.9 362.5L273.4 362.5L272.9 359.5L272.4 362.1L271.9 362.3L271.4 361.6L270.9 360.9L270.4 363.7L269.9 359.7L269.4 361.6L268.9 359.6L268.4 361.6L267.9 360.4L267.4 359.6L266.9 360.3L266.4 360.6L265.9 361.6L265.4 362.2L264.9 359.7L264.4 359.6L263.9 360.2L263.4 360.7L262.9 363.8L262.4 360.1L261.9 360.1L261.4 360.8L260.9 361.4L260.4 360.3L259.9 362L259.4 360.6L258.9 360.7L258.4 361.7L257.9 364.1L257.4 362.9L256.9 363.2L256.4 361.1L255.9 360.8L255.4 362.3L254.9 361.8L254.4 361.4L253.9 363.7L253.4 361.9L252.9 365.1L252.4 361.4L251.9 364.1L251.4 364.7L250.9 364.7L250.4 361.3L249.9 364.6L249.4 364.3L248.9 361.3L248.4 363.8L247.9 361.5L247.4 361.2L246.9 362.5L246.4 361.1L245.9 361.6L245.4 363.7L244.9 361.1L244.4 360.7L243.9 362.9L243.4 362L242.9 360.5L242.4 361.3L241.9 359.4L241.4 359.4L240.9 361.2L240.4 360.3L239.9 362.4L239.4 361.8L238.9 359.8L238.4 359.6L237.9 363.2L237.4 359.6L236.9 360.9L236.4 360.5L235.9 361.3L235.4 361L234.9 360.7L234.4 361L233.9 361.1L233.4 362.4L232.9 360.5L232.4 360.6L231.9 360.5L231.4 362.7L230.9 360.4L230.4 362.5L229.9 360.1L229.4 361.3L228.9 363.8L228.4 362.4L227.9 360.7L227.4 360.6L226.9 363.1L226.4 360.5L225.9 360.4L225.4 360.5L224.9 360.9L224.4 359.7L223.9 361.9L223.4 360.9L222.9 360.8L222.4 360.2L221.9 359L221.4 359.9L220.9 359.3L220.4 361.2L219.9 359.3L219.4 359.3L218.9 359.3L218.4 358.9L217.9 359L217.4 360.8L216.9 359.8L216.4 358.8L215.9 359.2L215.4 360.6L214.9 361.9L214.4 361.9L213.9 360.1L213.4 359.9L212.9 361.7L212.4 359.5L211.9 360.5L211.4 361.2L210.9 359.2L210.4 360.5L209.9 359.8L209.4 360.6L208.9 360.5L208.4 361.6L207.9 359.1L207.4 359.8L206.9 362.6L206.4 362.6L205.9 360.1L205.4 360.2L204.9 361.7L204.4 360.7L203.9 358.4L203.4 359.4L202.9 358.4L202.4 358.2L201.9 358.7L201.4 358.9L200.9 357.7L200.4 361L199.9 360.8L199.4 357.7L198.9 357.4L198.4 357.6L197.9 358L197.4 357.9L196.9 358.8L196.4 360.5L195.9 358.1L195.4 359.5L194.9 358.4L194.4 359.8L193.9 358.3L193.4 359.7L192.9 361.8L192.4 361.7L191.9 358.1L191.4 358L190.9 359.8L190.4 360.1L189.9 360.5L189.4 360.2L188.9 361.8L188.4 358.1L187.9 360.1L187.4 358.1L186.9 358.8L186.4 361L185.9 357.9L185.4 358.5L184.9 359.3L184.4 361.7L183.9 357.8L183.4 358.2L182.9 357.7L182.4 359.9L181.9 358.6L181.4 360.7L180.9 359.6L180.4 357.4L179.9 357.2L179.4 358L178.9 357.1Z" fill="#231f20" filter="url(#soft)"/>
<path d="M400 351.9L400.5 350.3L401 351.4L401.5 350.3L402 351.3L402.5 351.6L403 348.7L403.5 349.7L404 351.5L404.5 348.4L405 351L405.5 348.5L406 351.2L406.5 351.1L407 350.7L407.5 350.8L408 350.4L408.5 351.5L409 351.5L409.5 351.7L410 350.9L410.5 351.5L411 351.2L411.5 349.8L412 352.3L412.5 349.9L413 350.6L413.5 351.6L414 351.4L414.5 351L415 351.2L415.5 350.3L416 351.1L416.5 350.8L417 350.7L417.5 350.2L418 350.1L418.5 351.5L419 351.4L419.5 351.4L420 351.6L420.5 352.2L421 351.2L421.5 352.5L422 351.3L422.5 351.6L423 351.6L423.5 352.2L424 349.4L424.5 349.1L425 352.3L425.5 351.9L426 351.8L426.5 351.6L427 351.9L427.5 349.4L428 349.7L428.5 351.5L429 348.7L429.5 351.7L430 347L430.5 351.2L431 351.1L431.5 350.9L432 348.6L432.5 351L433 351.2L433.5 351.2L434 348.5L434.5 351.4L435 351.8L435.5 349.3L436 350.1L436.5 350.8L437 351.4L437.5 350.6L438 351.5L438.5 349.7L439 351.1L439.5 350.7L440 350.4L440.5 349.2L441 348.8L441.5 351L442 348.2L442.5 348.4L443 349.7L443.5 349.6L444 351.3L444.5 349.6L445 350.8L445.5 350.6L446 350.4L446.5 349.6L447 348.4L447.5 351.7L448 349.5L448.5 351L449 351.7L449.5 350.6L450 349.7L450.5 351.7L451 350.8L451.5 351.4L452 348.5L452.5 350.8L453 351.5L453.5 350.5L454 350.9L454.5 351.1L455 348.2L455.5 350.1L456 350.3L456.5 351L457 351.1L457.5 349.1L458 348.3L458.5 349.9L459 350.8L459.5 350.6L460 348.9L460.5 350.7L461 351.1L461.5 349.4L462 350.4L462.5 350.6L463 350.4L463.5 351.1L464 349.2L464.5 350.6L465 348.9L465.5 350.1L466 351.5L466.5 350.8L467 348.8L467.5 350.3L468 348.4L468.5 349L469 350.3L469.5 348.6L470 351.1L470.5 348.8L471 348.6L471.5 349.9L472 351.6L472.5 351.7L473 350.8L473.5 351.8L474 351.4L474.5 350.5L475 349.4L475.5 349.6L476 351.9L476.5 351.6L477 349L477.5 349.2L478 348.5L478.5 351.2L479 351L479.5 350.9L480 350L480.5 350.7L481 350.6L481.5 350.8L482 347.8L482.5 350L483 350.5L483.5 350.9L484 350.7L484.5 350.9L485 348.6L485.5 349.2L486 349.3L486.5 350.9L487 351.2L487.5 351.5L488 350.1L488.5 349.1L489 351.6L489.5 351.6L490 350.5L490.5 350.5L491 351.2L491.5 348.9L492 351.1L492.5 350.7L493 351.2L493.5 349.8L494 348.4L494.5 350.6L495 348.9L495.5 348.4L496 349.3L496.5 349L497 351.5L497.5 351L498 348.5L498.5 349L499 349.7L499.5 349L500 349.6L500.5 351.4L501 350.9L501.5 350.2L502 350L502.5 350L503 348.7L503.5 350.2L504 351.1L504.5 348.9L505 350.9L505.5 349.7L506 350L506.5 348.7L507 350.9L507.5 349L508 350.6L508.5 350.4L509 351.8L509.5 350.9L510 351.3L510.5 351.3L511 351.1L511.5 349.2L512 351.5L512.5 351.7L513 349.1L513.5 351L514 351.6L514.5 351.2L515 351.3L515.5 350.2L516 348.2L516.5 347.6L517 351.4L517.5 351.3L518 348.9L518.5 351.6L519 350.3L519.5 350.9L520 351.9L520.5 351.9L521 349L521.5 350L522 351.8L522.5 351.8L523 350.7L523.5 350.2L524 348.9L524.5 351.1L525 352L525.5 350.3L526 352.2L526.5 350.8L527 349.2L527.5 352.1L528 351.4L528.5 352.6L529 350.2L529.5 351.1L530 349.2L530.5 349.9L531 348.5L531.5 350.6L532 349.3L532.5 347.9L533 347.9L533.5 351.3L534 348.9L534.5 352.1L535 352.2L535.5 352L536 351.1L536.5 349.1L537 351.8L537.5 352.4L538 349.4L538.5 352.4L539 349.8L539.5 352.3L540 351.9L540.5 352.8L541 350L541.5 349.6L542 350.7L542.5 351.5L543 352.6L543.5 351.2L544 349.9L544.5 351.2L545 352.4L545.5 353L546 350.1L546.5 349.4L547 352.9L547.5 352.6L548 350.3L548.5 350.2L549 350L549.5 351.1L550 350.3L550.5 349.7L551 348.8L551.5 348.9L552 349.3L552.5 351.4L553 348.8L553.5 351.4L554 351.9L554.5 349.1L555 352.4L555.5 351.9L556 350.6L556.5 349.7L557 352L557.5 349.1L558 351L558.5 352.3L559 351.8L559.5 350.1L560 351.1L560.5 351.4L561 351.7L561.5 351.3L562 353L562.5 352.1L563 350L563.5 350.2L564 351.4L564.5 352.1L565 352.3L565.5 352.8L566 351.4L566.5 352.7L567 350L567.5 349.6L568 352.4L568.5 349.5L569 351.6L569.5 349.9L570 351.5L570.5 352.5L571 350.4L571.5 351.8L572 352.5L572.5 349.3L573 351L573.5 352.5L574 352.2L574.5 350.7L575 349.6L575.5 352.3L576 348.9L576.5 351.2L577 352.1L577.5 351.8L578 350.7L578.5 351.8L579 351.4L579 363.2L578.5 359.9L578 361.8L577.5 360.7L577 361.9L576.5 360.2L576 362.2L575.5 363.3L575 360.4L574.5 361.6L574 360L573.5 361.9L573 360L572.5 360.4L572 363L571.5 360L571 359.8L570.5 360.4L570 360.2L569.5 359.9L569 360.9L568.5 361.3L568 363.1L567.5 360.6L567 363.6L566.5 361.2L566 362.6L565.5 361.3L565 362.4L564.5 363.9L564 364.1L563.5 363.2L563 362L562.5 363.1L562 362.2L561.5 361L561 362.2L560.5 362.8L560 364L559.5 363.2L559 363.2L558.5 363L558 361.3L557.5 360.1L557 360.2L556.5 361L556 360L555.5 359.3L555 359.8L554.5 359.4L554 361L553.5 361.1L553 362.7L552.5 361.6L552 362.4L551.5 362.5L551 361.9L550.5 360L550 360.8L549.5 359.8L549 359.8L548.5 360.4L548 360.7L547.5 360.2L547 361.4L546.5 360.6L546 360.6L545.5 360.7L545 362.7L544.5 361.2L544 360.9L543.5 359.3L543 360.7L542.5 361.9L542 362.6L541.5 362.4L541 361.6L540.5 360.5L540 361.3L539.5 362.2L539 360.8L538.5 361.2L538 360.6L537.5 360.6L537 363.9L536.5 363.7L536 360.8L535.5 361.2L535 361L534.5 360.3L534 360.6L533.5 363.8L533 362.6L532.5 361.4L532 359.7L531.5 360.2L531 359.8L530.5 362.6L530 360.4L529.5 361.8L529 361.7L528.5 359L528 359.7L527.5 358.8L527 360.6L526.5 362.3L526 360.2L525.5 359L525 359.1L524.5 359.2L524 360.2L523.5 363.5L523 360.7L522.5 359.5L522 359.2L521.5 359.5L521 362.2L520.5 360.4L520 359.2L519.5 359.5L519 359.7L518.5 361.2L518 361.3L517.5 360.6L517 359.7L516.5 361.5L516 361.7L515.5 362.7L515 361.8L514.5 359.9L514 359.9L513.5 361.1L513 360.1L512.5 363.6L512 361.3L511.5 361.3L511 361.5L510.5 362.8L510 360L509.5 362.7L509 361.9L508.5 359.4L508 359.4L507.5 360.4L507 359.7L506.5 359.2L506 360.1L505.5 363.2L505 358.7L504.5 359.9L504 360.3L503.5 360.7L503 359L502.5 361.1L502 361.6L501.5 359.3L501 359.2L500.5 360.2L500 362L499.5 359.5L499 359.4L498.5 359.7L498 358.8L497.5 359.4L497 361.4L496.5 358.5L496 359.1L495.5 360.5L495 358.4L494.5 358.8L494 358.8L493.5 360.1L493 361.5L492.5 361.9L492 361.3L491.5 359.4L491 361.8L490.5 359.6L490 360.1L489.5 360.1L489 359.9L488.5 360.7L488 358.7L487.5 359.9L487 360.7L486.5 360.4L486 361.2L485.5 359.9L485 361L484.5 359.4L484 361.6L483.5 359.6L483 361.1L482.5 360L482 359.1L481.5 361.7L481 359.8L480.5 359.7L480 360.9L479.5 360.8L479 361.8L478.5 360.6L478 360.8L477.5 358.7L477 361.2L476.5 359.2L476 360.8L475.5 362.7L475 360.9L474.5 359.3L474 359.9L473.5 360.8L473 359.9L472.5 362.8L472 361.7L471.5 362.6L471 360.8L470.5 359.8L470 360.5L469.5 360.3L469 361L468.5 359.9L468 362.2L467.5 362.9L467 362.5L466.5 363.1L466 361.2L465.5 359.8L465 359.8L464.5 358.7L464 361.5L463.5 359.4L463 358.9L462.5 360.3L462 359L461.5 362.2L461 361L460.5 361L460 360.5L459.5 360.2L459 359.5L458.5 360.1L458 359.9L457.5 359.1L457 360.1L456.5 358.9L456 360.5L455.5 361L455 360.7L454.5 360.8L454 359.5L453.5 359.8L453 359.4L452.5 361.3L452 361.8L451.5 362.6L451 361.9L450.5 361.4L450 362.4L449.5 358.9L449 359L448.5 361.6L448 358.9L447.5 360.6L447 360.8L446.5 359.5L446 360.4L445.5 360.8L445 360.8L444.5 359L444 361.5L443.5 359.3L443 361.3L442.5 361.6L442 359.7L441.5 359.5L441 362.2L440.5 359.5L440 362.3L439.5 362.1L439 362L438.5 362.5L438 359.8L437.5 360L437 359.8L436.5 359.9L436 362.1L435.5 362L435 360.7L434.5 363.1L434 360L433.5 360L433 362.1L432.5 360.4L432 361.2L431.5 360.3L431 360.3L430.5 362.9L430 360.9L429.5 362.8L429 360.1L428.5 359.8L428 360.2L427.5 361.2L427 359.8L426.5 362.3L426 361.4L425.5 361.3L425 361.4L424.5 362.9L424 361.6L423.5 362.7L423 359.6L422.5 361.5L422 362.4L421.5 359.2L421 359.3L420.5 359.7L420 359L419.5 358.9L419 361.2L418.5 362.1L418 360.5L417.5 358.9L417 358.6L416.5 361.9L416 359.7L415.5 360.4L415 361.5L414.5 362.1L414 359.9L413.5 359.8L413 359.7L412.5 360.1L412 359.9L411.5 361.6L411 361.3L410.5 360.3L410 361.9L409.5 362.9L409 359.5L408.5 362.4L408 362L407.5 359.7L407 359.6L406.5 359.1L406 359.2L405.5 361.3L405 362.2L404.5 359.5L404 358.9L403.5 361.3L403 361.3L402.5 360.6L402 359.9L401.5 360.1L401 363L400.5 362.8L400 360.5Z" fill="#231f20" filter="url(#soft)"/>
<path d="M622.2 336.4L622.7 339L623.2 342.5L623.7 343.6L624.2 343.9L624.7 347.4L625.2 349L625.7 348.4L626.2 349.9L626.7 345.6L627.2 345.2L627.7 346.7L628.2 346.7L628.7 349.5L629.2 345.6L629.7 345.2L630.2 348.9L630.7 349.8L631.2 348.5L631.7 348.1L632.2 346.3L632.7 351.6L633.2 352L633.7 353.3L634.2 352.4L634.7 353.3L635.2 353L635.7 350L636.2 345.1L636.7 350.2L637.2 349.4L637.7 344.6L638.2 348.2L638.7 346.2L639.2 346.4L639.7 345.1L640.2 347.6L640.7 347L641.2 343L641.7 344.4L642.2 339.9L642.7 339L643.2 345.1L643.7 341.3L644.2 336.6L644.7 338.9L645.2 342L645.7 338L646.2 337L646.7 337.8L647.2 337.9L647.7 335L648.2 337.2L648.7 335.2L649.2 333L649.7 334.8L650.2 333.2L650.7 336.6L651.2 333.3L651.7 338.8L652.2 339L652.7 337.3L653.2 339.1L653.7 335.1L654.2 335L654.7 339.2L655.2 339.7L655.7 337L656.2 338.6L656.7 343.9L657.2 345.5L657.7 340.3L658.2 348.6L658.7 343.5L659.2 345.1L659.7 351.7L660.2 353.5L660.7 354.7L661.2 351.7L661.7 358L662.2 359.3L662.7 360.5L663.2 355.6L663.7 359.7L664.2 362.5L664.7 365.6L665.2 367.3L665.7 367.3L666.2 366.7L666.7 367.1L667.2 366.8L667.7 367.4L668.2 370.7L668.7 370.1L669.2 374.7L669.7 376L670.2 369.7L670.7 376.5L671.2 375.6L671.7 375.7L672.2 371.1L672.7 375.8L673.2 376L673.7 376L674.2 376.2L674.7 375.2L675.2 377.4L675.7 378.1L676.2 378.6L676.7 377.7L677.2 380.9L677.7 379.3L678.2 380.3L678.7 377.4L679.2 376.7L679.7 382.6L680.2 382.1L680.7 378.4L681.2 383.9L681.7 380L682.2 381.9L682.7 384.3L683.2 382.9L683.7 384.5L684.2 384.5L684.7 384.4L685.2 384.7L685.7 377L686.2 384.7L686.7 383.7L687.2 381.8L687.7 379.1L688.2 383.7L688.7 376.3L689.2 374.9L689.7 382.3L690.2 378.7L690.7 377.3L691.2 379.5L691.7 381.5L692.2 379.9L692.7 382.3L693.2 382.9L693.7 381L694.2 381.5L694.7 370.5L695.2 377.4L695.7 375.3L696.2 370.3L696.7 373.2L697.2 369.6L697.7 370.2L698.2 365.5L698.7 364.7L699.2 359.5L699.7 366.2L700.2 361.3L700.7 362.9L701.2 356.5L701.7 357.7L702.2 359L702.7 354.5L703.2 355.7L703.7 353L704.2 359.4L704.7 359.1L705.2 357.5L705.7 356.2L706.2 357.4L706.7 355.7L707.2 357L707.7 357.6L708.2 356.3L708.7 355.5L709.2 348.8L709.7 350.5L710.2 352.3L710.7 354.9L711.2 354.6L711.7 348.9L712.2 348.6L712.7 352.4L713.2 350.6L713.7 350.6L714.2 344.6L714.7 348L715.2 350.1L715.7 344.2L716.2 350.4L716.7 349.9L717.2 350.8L717.7 350.6L718.2 351.9L718.7 348.6L719.2 346.6L719.7 345L720.2 346.3L720.7 348.2L721.2 343.2L721.7 347.7L722.2 347.2L722.7 348L723.2 346.4L723.7 344.7L724.2 345.8L724.7 342.3L725.2 343.6L725.7 339.9L726.2 343.6L726.7 338L727.2 344.9L727.7 343.7L728.2 342.3L728.7 345.4L729.2 341.9L729.7 340L730.2 345.5L730.7 346.9L731.2 344L731.7 340.5L732.2 345.5L732.7 345.5L733.2 341.7L733.7 341.3L734.2 345.1L734.7 345.4L735.2 342.1L735.7 343.3L736.2 344.1L736.7 343.6L737.2 338.4L737.7 342.9L738.2 341.1L738.7 342.4L739.2 342L739.7 336L740.2 343.9L740.7 342.9L741.2 344.3L741.7 341.7L742.2 345.7L742.7 341.4L743.2 346L743.7 346.3L744.2 339.8L744.7 345.4L745.2 344.3L745.7 341.5L746.2 342.9L746.7 347.1L747.2 344.7L747.7 341.3L748.2 344.6L748.7 345L749.2 340L749.7 343.7L750.2 340.6L750.7 342.6L751.2 342.1L751.7 337.4L752.2 344.6L752.7 339.6L753.2 342.5L753.7 341.9L754.2 344.5L754.7 343L755.2 342.3L755.7 340.9L756.2 343.5L756.7 340.3L757.2 343.5L757.7 343.4L758.2 341.1L758.7 339.6L759.2 343.2L759.7 342.5L760.2 342.6L760.7 341.5L761.2 339.1L761.7 339.5L762.2 341.3L762.7 343.5L763.2 336.7L763.7 337.5L764.2 344.4L764.7 341.3L765.2 344.1L765.7 340.2L766.2 339.2L766.7 343.6L767.2 340L767.7 344.7L768.2 342.7L768.7 339L769.2 333.1L769.7 339.5L770.2 342L770.7 339L771.2 343.1L771.7 335.6L772.2 335.3L772.7 339.7L773.2 342L773.7 335.8L773.7 359.3L773.2 362.7L772.7 362.4L772.2 360.9L771.7 359.8L771.2 362.3L770.7 365.7L770.2 361.1L769.7 366.7L769.2 366.3L768.7 362.4L768.2 365.3L767.7 363.3L767.2 362.7L766.7 362.6L766.2 366.3L765.7 360.7L765.2 363.6L764.7 367.5L764.2 360.6L763.7 364L763.2 362L762.7 360.8L762.2 361.8L761.7 363.6L761.2 362.3L760.7 365.9L760.2 365.6L759.7 363.7L759.2 369.4L758.7 364.8L758.2 366.5L757.7 364.9L757.2 363L756.7 362.4L756.2 364.2L755.7 363.2L755.2 368L754.7 367.8L754.2 366.3L753.7 362.1L753.2 363.2L752.7 363.4L752.2 363.1L751.7 365.8L751.2 371.1L750.7 370.5L750.2 370L749.7 365.1L749.2 364.1L748.7 367.1L748.2 361.3L747.7 360.6L747.2 365.6L746.7 365.7L746.2 361.3L745.7 359.7L745.2 364.7L744.7 364.5L744.2 359.7L743.7 360.4L743.2 364.1L742.7 360.7L742.2 361.3L741.7 362.7L741.2 363.8L740.7 367.3L740.2 363.2L739.7 360.5L739.2 361.5L738.7 362.2L738.2 362.3L737.7 360.8L737.2 360.5L736.7 361.2L736.2 360.3L735.7 359L735.2 363.6L734.7 358.3L734.2 360.4L733.7 359.3L733.2 363.7L732.7 364.2L732.2 363.8L731.7 361.4L731.2 363.3L730.7 361.7L730.2 365.3L729.7 364.4L729.2 361.7L728.7 366.5L728.2 360.8L727.7 362L727.2 360.7L726.7 361.9L726.2 364L725.7 366.2L725.2 361.1L724.7 366L724.2 369.1L723.7 365.6L723.2 371.4L722.7 365.3L722.2 371L721.7 368.9L721.2 370.6L720.7 368.9L720.2 364.5L719.7 363.8L719.2 363.6L718.7 367L718.2 363.4L717.7 363.1L717.2 367.8L716.7 369.6L716.2 370.2L715.7 370.2L715.2 368.3L714.7 367.7L714.2 374.1L713.7 369.9L713.2 367.6L712.7 368.3L712.2 367.6L711.7 369.5L711.2 373.4L710.7 371.8L710.2 372.6L709.7 371L709.2 368.2L708.7 369.1L708.2 370.2L707.7 368.7L707.2 372.4L706.7 372.6L706.2 372L705.7 372.6L705.2 372.2L704.7 377.8L704.2 377.7L703.7 380.3L703.2 381.4L702.7 384.2L702.2 387.1L701.7 383.4L701.2 385.3L700.7 385L700.2 388.6L699.7 391.5L699.2 392.7L698.7 392.7L698.2 394.9L697.7 392.9L697.2 398.3L696.7 400.3L696.2 400.6L695.7 400.2L695.2 397.3L694.7 398L694.2 403.2L693.7 401.6L693.2 403.1L692.7 399.8L692.2 406.4L691.7 403.6L691.2 400L690.7 405.1L690.2 400.3L689.7 402.9L689.2 403.9L688.7 400.6L688.2 401.2L687.7 404.6L687.2 403L686.7 400.2L686.2 400.8L685.7 402.6L685.2 405.2L684.7 399.6L684.2 403.6L683.7 404.7L683.2 399.5L682.7 402.6L682.2 400.1L681.7 406.1L681.2 405.4L680.7 399.4L680.2 406.2L679.7 403.6L679.2 403.9L678.7 405L678.2 398.5L677.7 404.3L677.2 400.4L676.7 397.9L676.2 395.1L675.7 394.1L675.2 398.9L674.7 393.4L674.2 396.8L673.7 394.1L673.2 392.2L672.7 395.6L672.2 393.3L671.7 393.5L671.2 398.6L670.7 396.1L670.2 396.3L669.7 398.4L669.2 397.4L668.7 396.3L668.2 392L667.7 391.4L667.2 386.8L666.7 390.2L666.2 388.1L665.7 383.4L665.2 383.1L664.7 387.4L664.2 387.7L663.7 386.1L663.2 388.6L662.7 387.4L662.2 380.3L661.7 385.6L661.2 377.1L660.7 380.5L660.2 373L659.7 374.9L659.2 369.5L658.7 369.6L658.2 365.8L657.7 370.3L657.2 365.9L656.7 365.6L656.2 359.3L655.7 359.4L655.2 357.2L654.7 360.4L654.2 357.5L653.7 355.9L653.2 358.5L652.7 356.1L652.2 356.6L651.7 358.4L651.2 356.8L650.7 361.8L650.2 361.7L649.7 359.2L649.2 359.9L648.7 357L648.2 361.7L647.7 356.5L647.2 358.5L646.7 356.7L646.2 359.4L645.7 364.2L645.2 358.6L644.7 363.4L644.2 363.8L643.7 363.9L643.2 367.7L642.7 364L642.2 368.1L641.7 371.1L641.2 372.2L640.7 367.7L640.2 366.8L639.7 370L639.2 365.9L638.7 368.1L638.2 368.7L637.7 369.8L637.2 366L636.7 371.4L636.2 373.2L635.7 369.4L635.2 371.6L634.7 367.5L634.2 371.6L633.7 367.9L633.2 370.5L632.7 371.2L632.2 373.7L631.7 371L631.2 372.2L630.7 368.1L630.2 366.5L629.7 371.1L629.2 367.4L628.7 364.9L628.2 364.6L627.7 364.5L627.2 363.2L626.7 363.5L626.2 369.6L625.7 367.8L625.2 363.7L624.7 362.1L624.2 361.5L623.7 361.9L623.2 360.7L622.7 362.5L622.2 364.9Z" fill="#231f20" filter="url(#soft)"/>
<path d="M178.2 445.3L178.7 443.8L179.2 446.6L179.7 446.5L180.2 447.5L180.7 445.5L181.2 447.4L181.7 448.5L182.2 445.7L182.7 446.3L183.2 447.9L183.7 445.5L184.2 446.9L184.7 444.5L185.2 447.6L185.7 447.7L186.2 445.7L186.7 447.4L187.2 447.4L187.7 447.4L188.2 445.8L188.7 444L189.2 444.5L189.7 445.8L190.2 446.4L190.7 445.8L191.2 443.8L191.7 446.2L192.2 444.9L192.7 444.8L193.2 444.4L193.7 447.3L194.2 447.1L194.7 446.9L195.2 443.9L195.7 444.4L196.2 446.9L196.7 445.6L197.2 446.5L197.7 445L198.2 444.7L198.7 444.9L199.2 444.2L199.7 443.4L200.2 447.8L200.7 445.7L201.2 448.9L201.7 448.8L202.2 449.1L202.7 449.5L203.2 447.2L203.7 446.8L204.2 448.9L204.7 446.1L205.2 448.2L205.7 446L206.2 448.7L206.7 444.9L207.2 448.1L207.7 444.9L208.2 445L208.7 446.6L209.2 445.7L209.7 445.7L210.2 446.5L210.7 445.6L211.2 445.4L211.7 443.8L212.2 445.2L212.7 446.6L213.2 447.4L213.7 448.2L214.2 448.1L214.7 448.3L215.2 444.4L215.7 447.6L216.2 445.9L216.7 446.4L217.2 446.2L217.7 447L218.2 446.4L218.7 447.1L219.2 446.2L219.7 446.6L220.2 447.4L220.7 447.8L221.2 447.7L221.7 444.3L222.2 444.6L222.7 448.1L223.2 446.8L223.7 446.3L224.2 451.3L224.7 448.6L225.2 452.9L225.7 451.7L226.2 453.6L226.7 451.8L227.2 455.3L227.7 452.2L228.2 455.6L228.7 456.6L229.2 456.2L229.7 457.3L230.2 456.2L230.7 457.5L231.2 455.2L231.7 456.1L232.2 457.3L232.7 454L233.2 452.9L233.7 457.2L234.2 456.5L234.7 455.1L235.2 455.7L235.7 459.3L236.2 459.9L236.7 461.1L237.2 460.9L237.7 459.6L238.2 462.5L238.7 462.9L239.2 461.7L239.7 461.2L240.2 461.7L240.7 460.8L241.2 464.2L241.7 464.4L242.2 463.3L242.7 461.5L243.2 461.8L243.7 460.2L244.2 459.9L244.7 462.8L245.2 459.3L245.7 462.1L246.2 460.4L246.7 463.6L247.2 462.1L247.7 461.2L248.2 459.1L248.7 458.9L249.2 462.1L249.7 457.8L250.2 462.2L250.7 457.6L251.2 457.8L251.7 460.2L252.2 457.3L252.7 460L253.2 458.9L253.7 459.3L254.2 454.2L254.7 456.2L255.2 456L255.7 456.8L256.2 453.4L256.7 455.8L257.2 454.2L257.7 453.6L258.2 452.8L258.7 449.7L259.2 452.1L259.7 449.6L260.2 452.2L260.7 449.8L261.2 449.6L261.7 450.9L262.2 449.1L262.7 448.1L263.2 449.5L263.7 446.4L264.2 445.6L264.7 445.8L265.2 444.9L265.7 444.7L266.2 445.4L266.7 448L267.2 448.6L267.7 444.7L268.2 447L268.7 449.1L269.2 447.6L269.7 448.7L270.2 445.8L270.7 449.2L271.2 448.8L271.7 448L272.2 447.3L272.7 448.7L273.2 447.6L273.7 448.6L274.2 448.5L274.7 445.2L275.2 448L275.7 446.8L276.2 447.3L276.7 444L277.2 446.3L277.7 445.2L278.2 447.3L278.7 446.5L279.2 444.7L279.7 446.4L280.2 444.8L280.7 447.2L281.2 446.6L281.7 446.4L282.2 444.6L282.7 446.2L283.2 445L283.7 445.9L284.2 445L284.7 447.2L285.2 449.4L285.7 447.4L286.2 446.4L286.7 448.6L287.2 447.8L287.7 449.7L288.2 449.7L288.7 448.9L289.2 446.5L289.7 447.1L290.2 445.8L290.7 446.7L291.2 448.4L291.7 449.1L292.2 449.2L292.7 447L293.2 448.9L293.7 446.4L294.2 445.9L294.7 448.5L295.2 449L295.7 447.5L296.2 445.6L296.7 446.4L297.2 447.4L297.7 445.3L298.2 446.2L298.7 446.8L299.2 444.6L299.7 444.9L300.2 446.1L300.7 446.8L301.2 446L301.7 444.1L302.2 444.9L302.7 446.4L303.2 446.7L303.7 444.9L304.2 444.7L304.7 446.2L305.2 442.1L305.7 444L306.2 444.2L306.7 445.8L307.2 446.2L307.7 445.9L308.2 446.7L308.7 445.6L309.2 446.5L309.7 446L310.2 447L310.7 444.6L311.2 447.3L311.7 446.7L312.2 447.3L312.7 446.9L313.2 448.9L313.7 446.4L314.2 448L314.7 446.3L315.2 446.9L315.7 448.8L316.2 445.1L316.7 445.7L317.2 445.7L317.7 445.9L318.2 446.8L318.7 444L319.2 446.6L319.7 443L320.2 443.1L320.7 446.1L321.2 445.9L321.7 444L322.2 442.4L322.7 444.5L323.2 442.9L323.2 459.9L322.7 456.9L322.2 458.2L321.7 456.4L321.2 459.2L320.7 456.5L320.2 460.2L319.7 460L319.2 457.2L318.7 457.3L318.2 456.5L317.7 458L317.2 457.9L316.7 459.8L316.2 456.9L315.7 456.7L315.2 458.4L314.7 457.2L314.2 456.9L313.7 456.5L313.2 459.4L312.7 458.4L312.2 456.8L311.7 456.9L311.2 459.3L310.7 458.1L310.2 457.9L309.7 459.2L309.2 460.3L308.7 457L308.2 456.5L307.7 457.1L307.2 456.3L306.7 456.4L306.2 459.2L305.7 455.6L305.2 457.1L304.7 456.7L304.2 456.6L303.7 459.3L303.2 458.2L302.7 458.6L302.2 459L301.7 459.7L301.2 458.7L300.7 461L300.2 456.5L299.7 460.1L299.2 459.6L298.7 456.2L298.2 457.1L297.7 458.1L297.2 455.8L296.7 459.1L296.2 458.7L295.7 456.7L295.2 457L294.7 457.6L294.2 461.1L293.7 460.5L293.2 457.4L292.7 457.5L292.2 458.8L291.7 460.6L291.2 458.5L290.7 457.8L290.2 461.9L289.7 457.8L289.2 460.8L288.7 460.5L288.2 460.4L287.7 459L287.2 460.7L286.7 461.1L286.2 458.9L285.7 462.1L285.2 458.7L284.7 458.4L284.2 458.2L283.7 458.2L283.2 458L282.7 458.4L282.2 457.8L281.7 457.9L281.2 458.4L280.7 458.2L280.2 457.8L279.7 457.7L279.2 462.2L278.7 457.9L278.2 460.6L277.7 457.7L277.2 459.5L276.7 456.8L276.2 457L275.7 456.9L275.2 456.2L274.7 455.4L274.2 457.6L273.7 459.6L273.2 455.6L272.7 455.8L272.2 458.2L271.7 460L271.2 456.6L270.7 456.6L270.2 456.5L269.7 460.5L269.2 457.7L268.7 457.2L268.2 457.6L267.7 459.8L267.2 459.5L266.7 459.5L266.2 459L265.7 461.4L265.2 458.8L264.7 459.7L264.2 462.5L263.7 463.6L263.2 461.6L262.7 464.1L262.2 460.8L261.7 461.2L261.2 463.6L260.7 462.1L260.2 465.2L259.7 463.4L259.2 463.8L258.7 465.7L258.2 465.9L257.7 469.3L257.2 466.8L256.7 467.6L256.2 470.2L255.7 470L255.2 471.2L254.7 470.8L254.2 476L253.7 474.4L253.2 474.9L252.7 477.2L252.2 477.6L251.7 476.9L251.2 473.8L250.7 474L250.2 477.7L249.7 476.3L249.2 474.7L248.7 473.6L248.2 477.1L247.7 475.9L247.2 476.5L246.7 473.2L246.2 477L245.7 473.6L245.2 473.7L244.7 473.8L244.2 474.5L243.7 477.4L243.2 477.1L242.7 475.6L242.2 475.1L241.7 474.9L241.2 477.4L240.7 476.8L240.2 475.8L239.7 475.1L239.2 475.1L238.7 475.1L238.2 473.5L237.7 472.5L237.2 474.4L236.7 475.4L236.2 471.3L235.7 472.6L235.2 470.9L234.7 473.7L234.2 472.5L233.7 469.6L233.2 471.6L232.7 469L232.2 468.8L231.7 469.2L231.2 467L230.7 466.8L230.2 468.2L229.7 468.3L229.2 465.4L228.7 464.9L228.2 464.3L227.7 463.1L227.2 463.2L226.7 462.2L226.2 461.3L225.7 462.4L225.2 460.3L224.7 461.7L224.2 462.8L223.7 460.3L223.2 461L222.7 459.6L222.2 458.5L221.7 456.9L221.2 456.9L220.7 456.9L220.2 457.1L219.7 460.5L219.2 457.9L218.7 459.8L218.2 461.2L217.7 458.4L217.2 459.6L216.7 458.6L216.2 456.9L215.7 456.4L215.2 456.2L214.7 457.6L214.2 459.8L213.7 458L213.2 459.4L212.7 457.6L212.2 459.8L211.7 456.1L211.2 456.8L210.7 460L210.2 456.9L209.7 457.5L209.2 458.4L208.7 460.4L208.2 459.3L207.7 458L207.2 457.9L206.7 460.8L206.2 457.8L205.7 457.7L205.2 457.9L204.7 457.8L204.2 456.9L203.7 456.4L203.2 457.6L202.7 458.9L202.2 456.8L201.7 456.5L201.2 457L200.7 459.5L200.2 460.7L199.7 457.6L199.2 459.3L198.7 460.5L198.2 461.1L197.7 460.5L197.2 459.3L196.7 457.8L196.2 456.7L195.7 456.5L195.2 455.9L194.7 455.7L194.2 455.8L193.7 456.1L193.2 458.7L192.7 456.5L192.2 458.9L191.7 458.2L191.2 455.2L190.7 455.9L190.2 456.4L189.7 455L189.2 458.3L188.7 455.8L188.2 457.9L187.7 455.5L187.2 456.2L186.7 459.1L186.2 455.1L185.7 455.9L185.2 455.9L184.7 457.2L184.2 455.4L183.7 456.6L183.2 457.9L182.7 455.7L182.2 455.3L181.7 455.3L181.2 456.5L180.7 455.4L180.2 456L179.7 458.3L179.2 455.8L178.7 455.6L178.2 455.9Z" fill="#231f20" filter="url(#soft)"/>
<path d="M399.3 445.7L399.8 446L400.3 443.8L400.8 447.6L401.3 447L401.8 446.4L402.3 447.7L402.8 448.3L403.3 445.1L403.8 447.7L404.3 445.7L404.8 444.5L405.3 448.4L405.8 448.7L406.3 446.1L406.8 448.9L407.3 447.8L407.8 447.4L408.3 449.4L408.8 449.4L409.3 449.2L409.8 445.6L410.3 448.9L410.8 448.6L411.3 448.5L411.8 448.9L412.3 448.2L412.8 449.1L413.3 447.4L413.8 449.3L414.3 448.6L414.8 447.7L415.3 446.2L415.8 447.4L416.3 447.7L416.8 449.9L417.3 449.7L417.8 449.8L418.3 447.8L418.8 449.5L419.3 449.6L419.8 449.8L420.3 447.3L420.8 448.1L421.3 446.3L421.8 448L422.3 443.7L422.8 444.7L423.3 445.6L423.8 443.5L424.3 444.9L424.8 446.1L425.3 446.5L425.8 443.7L426.3 448.2L426.8 447.9L427.3 447.7L427.8 447.2L428.3 445.7L428.8 448L429.3 447.9L429.8 444.4L430.3 444.3L430.8 447.1L431.3 445.9L431.8 447.4L432.3 444.1L432.8 447.3L433.3 445.5L433.8 447.4L434.3 448.9L434.8 450.8L435.3 447.9L435.8 448.2L436.3 452.1L436.8 453.4L437.3 452.1L437.8 456L438.3 459L438.8 459.5L439.3 460.9L439.8 461.6L440.3 461.3L440.8 458.5L441.3 461.6L441.8 458.1L442.3 460L442.8 461.2L443.3 459.9L443.8 460.7L444.3 461.2L444.8 463.8L445.3 463.7L445.8 464.2L446.3 463.9L446.8 461.3L447.3 464.4L447.8 463.7L448.3 465L448.8 461.2L449.3 465.6L449.8 463.5L450.3 466.2L450.8 464.7L451.3 465.8L451.8 465.9L452.3 464.2L452.8 468L453.3 464.3L453.8 469.1L454.3 469.6L454.8 469.3L455.3 465.5L455.8 468.2L456.3 467.7L456.8 468.2L457.3 468.7L457.8 470L458.3 465.5L458.8 470.4L459.3 470.4L459.8 467.9L460.3 468.7L460.8 466.6L461.3 466.3L461.8 466.7L462.3 467.5L462.8 472.3L463.3 472.1L463.8 470.2L464.3 468.4L464.8 468.5L465.3 472.5L465.8 473L466.3 471.6L466.8 468.5L467.3 470.4L467.8 473.1L468.3 473.2L468.8 472L469.3 472.6L469.8 470.8L470.3 475L470.8 475.4L471.3 475.3L471.8 471.4L472.3 475.2L472.8 474.5L473.3 473.4L473.8 474.3L474.3 473.8L474.8 473.7L475.3 473.2L475.8 470.2L476.3 468.7L476.8 472L477.3 472.8L477.8 466.8L478.3 470.7L478.8 471L479.3 466.2L479.8 468.3L480.3 472.5L480.8 470.5L481.3 471.7L481.8 474.8L482.3 472L482.8 476.3L483.3 476.6L483.8 473.1L484.3 474.8L484.8 473.6L485.3 475.3L485.8 475.2L486.3 474.4L486.8 473.3L487.3 472.4L487.8 474.5L488.3 471.1L488.8 474.7L489.3 474.3L489.8 475.2L490.3 475.8L490.8 475.7L491.3 470.4L491.8 469.7L492.3 472.2L492.8 473.9L493.3 475.2L493.8 470L494.3 475.1L494.8 467.6L495.3 472.2L495.8 475.1L496.3 470.4L496.8 473.4L497.3 468L497.8 472.3L498.3 471.6L498.8 471.8L499.3 470.4L499.8 469.2L500.3 468.3L500.8 471.3L501.3 466.2L501.8 470.5L502.3 466.1L502.8 467.2L503.3 469.9L503.8 470.9L504.3 466.7L504.8 468.3L505.3 463L505.8 466.2L506.3 466.6L506.8 466.3L507.3 463.3L507.8 462.3L508.3 466.2L508.8 462.4L509.3 466.2L509.8 467.1L510.3 466.8L510.8 467.3L511.3 466.7L511.8 462.2L512.3 461.5L512.8 459.9L513.3 463.2L513.8 462.1L514.3 461.1L514.8 458.2L515.3 460.1L515.8 457.2L516.3 459.4L516.8 452.8L517.3 459.7L517.8 460.9L518.3 460.5L518.8 458.3L519.3 458.7L519.8 462L520.3 460.7L520.8 461.2L521.3 458.1L521.8 460.6L522.3 461.9L522.8 461.5L523.3 457.4L523.8 458.1L524.3 459.5L524.8 460.3L525.3 455.5L525.8 458.4L526.3 451.7L526.8 450.6L527.3 454.3L527.8 456.7L528.3 452.7L528.8 456.5L529.3 454.4L529.8 456L530.3 453.8L530.8 453.5L531.3 454.4L531.8 454.5L532.3 452.6L532.8 453.2L533.3 452.4L533.8 454.1L534.3 455.9L534.8 453.9L535.3 451.9L535.8 452.5L536.3 454.5L536.8 454.3L537.3 453.2L537.8 451.6L538.3 455L538.8 451.2L539.3 454.8L539.8 454.3L540.3 452.4L540.8 453.7L541.3 453L541.8 454.6L542.3 455.6L542.8 455.5L543.3 453.3L543.8 455.7L544.3 454.1L544.8 454.5L545.3 455.4L545.8 456.3L546.3 456.6L546.8 456.3L547.3 455.9L547.8 456.9L548.3 453.3L548.8 454L549.3 454.2L549.8 456.3L550.3 455.5L550.8 455.9L551.3 456L551.8 453.5L552.3 451.9L552.8 455L553.3 451.7L553.8 453L554.3 453.7L554.8 453.2L555.3 450.4L555.8 452.6L556.3 451.8L556.8 452.2L557.3 453L557.8 451.6L558.3 452.1L558.8 452.4L559.3 449.6L559.8 452.5L560.3 452.3L560.8 451.3L561.3 451.5L561.8 451.1L562.3 451.2L562.8 453.3L563.3 452.9L563.8 454.9L564.3 453.3L564.8 451.8L565.3 452.5L565.8 451.9L566.3 453L566.8 452.6L567.3 453.8L567.8 451.2L568.3 451.2L568.8 452.3L569.3 452.1L569.8 450.8L570.3 453.7L570.8 452.8L571.3 453.1L571.8 453.2L572.3 452.8L572.8 450.3L573.3 452.2L573.8 447.6L574.3 449.8L574.8 451.4L575.3 448.9L575.8 451.5L576.3 450.4L576.8 448.5L577.3 452.8L577.8 452.1L578.3 451.6L578.8 450.7L578.8 465.9L578.3 466.6L577.8 464.6L577.3 463.8L576.8 465.3L576.3 466.7L575.8 465.2L575.3 463.9L574.8 466.7L574.3 467.9L573.8 466.1L573.3 464.7L572.8 463.7L572.3 462.3L571.8 462.1L571.3 465L570.8 466L570.3 463.1L569.8 462.7L569.3 468.5L568.8 465.6L568.3 464.9L567.8 464.5L567.3 464.9L566.8 466L566.3 464.4L565.8 467.2L565.3 463.5L564.8 463.2L564.3 462.8L563.8 463.7L563.3 465.6L562.8 462.8L562.3 463.7L561.8 463.3L561.3 465L560.8 464.5L560.3 467.5L559.8 466L559.3 463.5L558.8 465.8L558.3 464.6L557.8 467.6L557.3 463.6L556.8 465.2L556.3 464.1L555.8 466.1L555.3 464.1L554.8 463.2L554.3 463.5L553.8 463.2L553.3 464.1L552.8 464.6L552.3 465.4L551.8 466.2L551.3 465.5L550.8 465.2L550.3 465.7L549.8 467.6L549.3 463.7L548.8 464.4L548.3 467.3L547.8 467.6L547.3 464.4L546.8 463.7L546.3 465.3L545.8 467.6L545.3 464.7L544.8 464.8L544.3 464.9L543.8 468L543.3 467.9L542.8 467.8L542.3 464.6L541.8 466L541.3 467.8L540.8 464.8L540.3 464.5L539.8 468.2L539.3 466.3L538.8 466.4L538.3 464.8L537.8 465.4L537.3 467.8L536.8 469.3L536.3 466.5L535.8 466.8L535.3 469.3L534.8 467.7L534.3 469.8L533.8 467.3L533.3 469.3L532.8 469.4L532.3 471.4L531.8 468.1L531.3 469.5L530.8 468.2L530.3 468.2L529.8 470.5L529.3 468.4L528.8 471.7L528.3 468.6L527.8 470.7L527.3 470.8L526.8 473.2L526.3 469.3L525.8 469.2L525.3 469.7L524.8 470.3L524.3 474.4L523.8 469.9L523.3 472.5L522.8 473.6L522.3 475.4L521.8 475.5L521.3 473.1L520.8 472.6L520.3 475L519.8 474.8L519.3 473.7L518.8 478.7L518.3 474L517.8 477.2L517.3 474.5L516.8 474.1L516.3 474.3L515.8 475.1L515.3 477.7L514.8 475L514.3 475.9L513.8 474.9L513.3 476.7L512.8 476L512.3 474.9L511.8 474.6L511.3 475L510.8 475.6L510.3 480.2L509.8 481.4L509.3 477.6L508.8 480.1L508.3 478.4L507.8 478.6L507.3 479.4L506.8 479.5L506.3 480.6L505.8 481.6L505.3 481.8L504.8 482.7L504.3 483.5L503.8 485.9L503.3 485.1L502.8 489.3L502.3 486.9L501.8 487.9L501.3 487.1L500.8 488.1L500.3 488L499.8 491.4L499.3 490.4L498.8 488.9L498.3 487.2L497.8 487.8L497.3 490.5L496.8 489.5L496.3 491.3L495.8 487.7L495.3 488.2L494.8 489.8L494.3 486.5L493.8 489.7L493.3 491.1L492.8 488.4L492.3 488.3L491.8 493.5L491.3 489.8L490.8 491.8L490.3 490.7L489.8 489.6L489.3 494.2L488.8 493.1L488.3 491L487.8 490.2L487.3 490.3L486.8 490.9L486.3 495.3L485.8 494.2L485.3 496.2L484.8 495.9L484.3 490.9L483.8 496.3L483.3 493.9L482.8 491L482.3 494.9L481.8 495.6L481.3 489.6L480.8 492.7L480.3 492L479.8 486.5L479.3 486.2L478.8 489.8L478.3 487.4L477.8 488.3L477.3 489.5L476.8 490.5L476.3 489.1L475.8 491.6L475.3 493.2L474.8 492.7L474.3 487.5L473.8 489.2L473.3 489.2L472.8 491.6L472.3 489.4L471.8 490.1L471.3 490L470.8 490.6L470.3 487.2L469.8 488.3L469.3 488.2L468.8 485.5L468.3 484.7L467.8 485.2L467.3 486.1L466.8 487.7L466.3 486.2L465.8 489.5L465.3 486.7L464.8 485.6L464.3 485.6L463.8 486.1L463.3 482.1L462.8 482.4L462.3 487L461.8 482.5L461.3 482.9L460.8 483.6L460.3 484.2L459.8 488.2L459.3 484.5L458.8 483.6L458.3 488.4L457.8 486.4L457.3 482.9L456.8 482.7L456.3 483.5L455.8 485.5L455.3 482.1L454.8 484.2L454.3 480.8L453.8 481.4L453.3 483L452.8 481L452.3 479.4L451.8 477.7L451.3 476.7L450.8 479.6L450.3 477.6L449.8 476.3L449.3 475.8L448.8 477.6L448.3 475.9L447.8 476.7L447.3 475L446.8 475.1L446.3 476.3L445.8 476.5L445.3 475.1L444.8 475.5L444.3 476.1L443.8 476.9L443.3 476.1L442.8 475.3L442.3 477L441.8 477.3L441.3 475.7L440.8 475L440.3 474.4L439.8 473.3L439.3 472.3L438.8 472.1L438.3 470.9L437.8 469L437.3 469.4L436.8 468.7L436.3 464.9L435.8 467.2L435.3 463.8L434.8 461.8L434.3 460.7L433.8 460.5L433.3 460.9L432.8 459.3L432.3 458.2L431.8 459.7L431.3 456.4L430.8 456.4L430.3 459.8L429.8 459.3L429.3 457.6L428.8 458.2L428.3 458.9L427.8 461.9L427.3 459.3L426.8 459.6L426.3 459.5L425.8 461.4L425.3 459.9L424.8 460.2L424.3 463.5L423.8 461.1L423.3 461.8L422.8 458.7L422.3 461.3L421.8 458.7L421.3 460.9L420.8 459.4L420.3 459.5L419.8 461.7L419.3 460.3L418.8 458.5L418.3 458.3L417.8 460L417.3 458.4L416.8 457.7L416.3 457.5L415.8 457.5L415.3 460.6L414.8 457.9L414.3 457.1L413.8 458.1L413.3 458.5L412.8 459.2L412.3 458.3L411.8 460.7L411.3 459.1L410.8 458.3L410.3 458L409.8 457.5L409.3 458.7L408.8 457.3L408.3 460L407.8 456.4L407.3 459.2L406.8 456.4L406.3 457.7L405.8 457.6L405.3 455.7L404.8 457.4L404.3 458.3L403.8 456.2L403.3 459.3L402.8 459.6L402.3 457.7L401.8 458L401.3 456.8L400.8 457.9L400.3 457.5L399.8 459.7L399.3 458.3Z" fill="#231f20" filter="url(#soft)"/>
<line x1="531.7" y1="466" x2="531.7" y2="487" stroke="#8a8a8a" stroke-width="0.7"/>
<path d="M622.2 443.1L622.7 445.3L623.2 441.5L623.7 445.7L624.2 445.3L624.7 444L625.2 444.8L625.7 441.7L626.2 444.5L626.7 444.2L627.2 445.2L627.7 443L628.2 441.6L628.7 444.4L629.2 446.9L629.7 444L630.2 445.1L630.7 446.2L631.2 443.3L631.7 443.2L632.2 447.6L632.7 447.9L633.2 447.8L633.7 448L634.2 446.4L634.7 444.1L635.2 444.7L635.7 446.9L636.2 446L636.7 446.3L637.2 442.5L637.7 445.5L638.2 442.9L638.7 446.7L639.2 443.4L639.7 446.2L640.2 446.8L640.7 444.4L641.2 443.1L641.7 446.7L642.2 445.4L642.7 442.3L643.2 446.4L643.7 446.1L644.2 445.3L644.7 443.5L645.2 444.3L645.7 443.7L646.2 444.2L646.7 441.5L647.2 444L647.7 442.2L648.2 443.3L648.7 442L649.2 444.4L649.7 444L650.2 444.2L650.7 443.5L651.2 444.2L651.7 442.3L652.2 441.6L652.7 443.5L653.2 444.8L653.7 443.5L654.2 443.5L654.7 443.2L655.2 444L655.7 443.8L656.2 447.3L656.7 445.5L657.2 450.4L657.7 451.6L658.2 447.8L658.7 451.6L659.2 450.2L659.7 451.1L660.2 450.1L660.7 454.3L661.2 454.3L661.7 451.4L662.2 455.1L662.7 453.7L663.2 451.9L663.7 452.6L664.2 453.5L664.7 450.4L665.2 456.7L665.7 458.3L666.2 455.3L666.7 454.7L667.2 457.4L667.7 454.3L668.2 459.5L668.7 455.1L669.2 457.4L669.7 459.9L670.2 460.9L670.7 457L671.2 457.6L671.7 456.7L672.2 459.9L672.7 457.7L673.2 457.8L673.7 457.6L674.2 457.5L674.7 458.1L675.2 460.9L675.7 457L676.2 460.6L676.7 461.5L677.2 461.7L677.7 459.1L678.2 459.8L678.7 462.2L679.2 462.7L679.7 459.6L680.2 458.3L680.7 463.1L681.2 463.7L681.7 460.2L682.2 464L682.7 463.9L683.2 464.3L683.7 463.7L684.2 463.7L684.7 462.9L685.2 459.1L685.7 460.5L686.2 462.5L686.7 458.9L687.2 458L687.7 462L688.2 461.8L688.7 457.6L689.2 456L689.7 458.3L690.2 461L690.7 457.7L691.2 456.3L691.7 460L692.2 458.3L692.7 459L693.2 459.1L693.7 462.1L694.2 462.4L694.7 459.3L695.2 458L695.7 461.8L696.2 460L696.7 459.7L697.2 461L697.7 455.8L698.2 458.1L698.7 456.4L699.2 454.7L699.7 457.9L700.2 453.4L700.7 456.9L701.2 455L701.7 454L702.2 455L702.7 455.3L703.2 452.7L703.7 451.7L704.2 454.4L704.7 452.7L705.2 454.1L705.7 452L706.2 453.3L706.7 451.5L707.2 452.7L707.7 449.5L708.2 451.1L708.7 452.6L709.2 449.1L709.7 450.3L710.2 452L710.7 450.7L711.2 450.9L711.7 448.8L712.2 450.9L712.7 450.4L713.2 451.1L713.7 449.5L714.2 450.9L714.7 451.2L715.2 451L715.7 450.6L716.2 450.9L716.7 450.6L717.2 450.2L717.7 449.8L718.2 450.3L718.7 449.1L719.2 450.4L719.7 450.6L720.2 450.7L720.7 450.7L721.2 450.6L721.7 447L722.2 450.6L722.7 447.8L723.2 447.6L723.7 448.1L724.2 448.4L724.7 447.7L725.2 444L725.7 446.6L726.2 443.1L726.7 446.6L727.2 445.7L727.7 446.3L728.2 443.7L728.7 441.9L729.2 446L729.7 442.9L730.2 444.8L730.7 446L731.2 446.2L731.7 445.6L732.2 440.8L732.7 443.5L733.2 444.5L733.7 445.1L734.2 446L734.7 445.9L735.2 447.5L735.7 447.7L736.2 445.6L736.7 448.2L737.2 446.7L737.7 448.5L738.2 447.9L738.7 446.4L739.2 446.5L739.7 446.6L740.2 447.8L740.7 447.8L741.2 446.7L741.7 447.7L742.2 448.2L742.7 447.8L743.2 444.7L743.7 447.7L744.2 447.8L744.7 447.1L745.2 446.9L745.7 447.1L746.2 444.5L746.7 447.1L747.2 447L747.7 443.3L748.2 446.4L748.7 443.8L749.2 448.3L749.7 447.3L750.2 445.9L750.7 449.6L751.2 449L751.7 448.8L752.2 448.6L752.7 449.9L753.2 448.5L753.7 446.9L754.2 446.6L754.7 450.4L755.2 447.8L755.7 449.9L756.2 450.5L756.7 450.4L757.2 449.7L757.7 449.5L758.2 450L758.7 448.7L759.2 447.8L759.7 448.9L760.2 448.6L760.7 448.4L761.2 446.9L761.2 461.3L760.7 460.7L760.2 457.4L759.7 457.5L759.2 457.4L758.7 459.6L758.2 457.7L757.7 457.7L757.2 462.7L756.7 459.3L756.2 463.3L755.7 460.3L755.2 463L754.7 462.9L754.2 463.7L753.7 465.2L753.2 464.3L752.7 461L752.2 460.8L751.7 464.6L751.2 460.7L750.7 460.5L750.2 461.5L749.7 460.4L749.2 460.4L748.7 460L748.2 464L747.7 461.8L747.2 459L746.7 460.9L746.2 462L745.7 459.4L745.2 459.1L744.7 458.9L744.2 461.5L743.7 460.4L743.2 459.7L742.7 462.5L742.2 460.3L741.7 459.4L741.2 460.1L740.7 461.3L740.2 459.8L739.7 457.7L739.2 458.3L738.7 459L738.2 456.4L737.7 460.1L737.2 456.5L736.7 461L736.2 457.5L735.7 461L735.2 460.3L734.7 459.2L734.2 460.6L733.7 458.7L733.2 460.7L732.7 459L732.2 460.3L731.7 462.3L731.2 459.5L730.7 463.8L730.2 460.4L729.7 461.7L729.2 459.6L728.7 461.7L728.2 463.3L727.7 460L727.2 458.9L726.7 462.6L726.2 460L725.7 462.2L725.2 459.5L724.7 463.5L724.2 460L723.7 465.2L723.2 460.7L722.7 462.6L722.2 464.9L721.7 463.5L721.2 462.8L720.7 462.7L720.2 462.3L719.7 463.8L719.2 462.9L718.7 464.7L718.2 462.9L717.7 462.9L717.2 463.2L716.7 466.4L716.2 463L715.7 461.8L715.2 461.3L714.7 460.6L714.2 462.8L713.7 461.4L713.2 460.7L712.7 461.4L712.2 464.2L711.7 465.1L711.2 466.4L710.7 472L710.2 466.6L709.7 469.3L709.2 467.2L708.7 467.9L708.2 464.7L707.7 465.6L707.2 468L706.7 465.7L706.2 467.6L705.7 465.6L705.2 464.6L704.7 465.1L704.2 467.8L703.7 469.2L703.2 471L702.7 467.7L702.2 468.8L701.7 466.7L701.2 469.4L700.7 470.1L700.2 471.3L699.7 469.1L699.2 471.7L698.7 471.3L698.2 475.1L697.7 474.2L697.2 474.8L696.7 471.9L696.2 475.5L695.7 476.4L695.2 472.1L694.7 476.2L694.2 475.7L693.7 473.2L693.2 473.1L692.7 477.3L692.2 472.2L691.7 472.3L691.2 475.9L690.7 474.4L690.2 475.1L689.7 476.7L689.2 473.1L688.7 473.1L688.2 473.8L687.7 476.8L687.2 472.5L686.7 473.9L686.2 472.6L685.7 474.6L685.2 476L684.7 477.4L684.2 479.1L683.7 474.1L683.2 474.6L682.7 475.5L682.2 475.1L681.7 474.9L681.2 478.1L680.7 476.2L680.2 476.7L679.7 479.6L679.2 480.1L678.7 480L678.2 481.1L677.7 482.1L677.2 476.2L676.7 476.1L676.2 481.1L675.7 476.6L675.2 475.4L674.7 475.1L674.2 475.9L673.7 479.4L673.2 474.7L672.7 475.5L672.2 478.1L671.7 474.8L671.2 476.2L670.7 474.3L670.2 475.3L669.7 477.2L669.2 474.9L668.7 479.2L668.2 476.8L667.7 471.1L667.2 475.5L666.7 472.7L666.2 474.5L665.7 469.5L665.2 473.3L664.7 475.4L664.2 469.2L663.7 471.5L663.2 469.4L662.7 470.7L662.2 466.9L661.7 470.9L661.2 468.1L660.7 465.8L660.2 465.4L659.7 467.6L659.2 466.2L658.7 462.7L658.2 466.8L657.7 462.9L657.2 460.7L656.7 460.6L656.2 460.8L655.7 461.2L655.2 460L654.7 458.9L654.2 458.2L653.7 460.3L653.2 457.8L652.7 460.7L652.2 457.4L651.7 457.9L651.2 458.5L650.7 460.8L650.2 457.8L649.7 461.1L649.2 459L648.7 459.7L648.2 456.8L647.7 457.4L647.2 459.3L646.7 456.6L646.2 458.2L645.7 457L645.2 460.5L644.7 456.7L644.2 457.2L643.7 459.7L643.2 460.7L642.7 456.2L642.2 458.9L641.7 459L641.2 457.6L640.7 456.8L640.2 460.2L639.7 459.6L639.2 459.9L638.7 458.4L638.2 462L637.7 461.1L637.2 461.4L636.7 461.3L636.2 461.8L635.7 459.5L635.2 462.7L634.7 459.6L634.2 458.2L633.7 459.6L633.2 459.1L632.7 458.2L632.2 460.8L631.7 460.8L631.2 459.6L630.7 460.7L630.2 457.6L629.7 458.2L629.2 457.6L628.7 461.5L628.2 457.7L627.7 457.1L627.2 457.7L626.7 456.9L626.2 456.4L625.7 457.9L625.2 456.3L624.7 456.3L624.2 456.5L623.7 459.3L623.2 460.7L622.7 458.6L622.2 458.5Z" fill="#231f20" filter="url(#soft)"/>
<line x1="722.2" y1="458" x2="722.2" y2="494.5" stroke="#8a8a8a" stroke-width="0.7"/>
<path d="M179 543.9L179.5 544.3L180 544.2L180.5 544.2L181 543.9L181.5 543.9L182 542.9L182.5 543.8L183 543.7L183.5 543.4L184 543.9L184.5 543.3L185 544.1L185.5 543.1L186 543.5L186.5 543.4L187 543.5L187.5 543.5L188 543.3L188.5 543.1L189 543.8L189.5 543.6L190 543.3L190.5 542.9L191 543.4L191.5 543.7L192 543L192.5 543L193 543.8L193.5 543.7L194 543.8L194.5 544L195 543.5L195.5 543.7L196 543.2L196.5 542.4L197 543.6L197.5 543.9L198 543L198.5 543.7L199 543L199.5 543.4L200 543.8L200.5 543.6L201 543.3L201.5 543L202 543.9L202.5 543.7L203 544.1L203.5 544.1L204 544.1L204.5 544.1L205 544.1L205.5 543.6L206 544.2L206.5 543.5L207 544.3L207.5 544.1L208 543.9L208.5 543.2L209 544.1L209.5 543.1L210 543.8L210.5 543.4L211 543.7L211.5 543.9L212 543.8L212.5 543.7L213 543L213.5 543.3L214 543.9L214.5 543.2L215 543.7L215.5 543.7L216 544L216.5 542.9L217 543.5L217.5 544L218 544.3L218.5 544.3L219 543.7L219.5 542.8L220 544.4L220.5 543.5L221 543.4L221.5 544.4L222 543.3L222.5 544.3L223 543.7L223.5 543.5L224 544L224.5 544L225 543.7L225.5 544.1L226 543.7L226.5 543.7L227 543.5L227.5 543.8L228 543.8L228.5 544.1L229 544L229.5 543.5L230 543.5L230.5 544L231 543.3L231.5 543.5L232 543.7L232.5 543.7L233 544.1L233.5 543.9L234 544.3L234.5 544.1L235 544.3L235.5 543.4L236 543.8L236.5 544.3L237 543.4L237.5 544.3L238 543.7L238.5 544.1L239 543.8L239.5 544.3L240 544L240.5 543.4L241 543.6L241.5 543.9L242 544L242.5 543.7L243 543.1L243.5 543.9L244 543.3L244.5 543.6L245 544.1L245.5 544.3L246 544.4L246.5 544.3L247 544.2L247.5 544.5L248 544.5L248.5 543.8L249 543.8L249.5 544.5L250 543.9L250.5 544L251 544.3L251.5 544.2L252 544.4L252.5 543.9L253 543.6L253.5 543.9L254 544.3L254.5 544.1L255 543.8L255.5 544.2L256 544.1L256.5 544L257 543.4L257.5 543.8L258 544.3L258.5 544.4L259 544.4L259.5 544.4L260 544.1L260.5 544.1L261 543.2L261.5 543.1L262 543.3L262.5 543.2L263 543.8L263.5 543.2L264 543.9L264.5 544.2L265 544.2L265.5 543.3L266 543.6L266.5 543.9L267 544.3L267.5 543.4L268 544.3L268.5 543.8L269 543.9L269.5 543.8L270 544L270.5 543.7L271 543.7L271.5 543.7L272 543.9L272.5 543.4L273 543.7L273.5 543.9L274 543.2L274.5 543.8L275 544.1L275.5 543.3L276 544.2L276.5 543.4L277 544.1L277.5 544L278 544L278.5 543.7L279 543.5L279.5 543.4L280 543.7L280.5 543.2L281 544L281.5 544L282 543.6L282.5 543.6L283 543.9L283.5 543.4L284 543.5L284.5 543.3L285 543.9L285.5 543.6L286 543.3L286.5 543.2L287 543.7L287.5 544L288 542.7L288.5 543.1L289 543.6L289.5 544.1L290 544.2L290.5 544.1L291 544L291.5 544.2L292 544.3L292.5 544.1L293 544L293.5 543.5L294 543.8L294.5 543.4L295 543.7L295.5 544.3L296 544.3L296.5 543.9L297 543.5L297.5 544.3L298 544.1L298.5 544.3L299 544.3L299.5 544.4L300 543.9L300.5 543.9L301 544.2L301.5 543.4L302 544.1L302.5 543.7L303 543.9L303.5 544.1L304 543.4L304.5 543.9L305 543.9L305.5 544L306 542.9L306.5 543L307 543.8L307.5 542.8L308 543.9L308.5 543.2L309 543.9L309.5 543.7L310 543.7L310.5 543.5L311 544.2L311.5 543.8L312 544.2L312.5 544.1L313 543.7L313.5 543.6L314 543.7L314.5 543.3L315 543.2L315.5 543.9L316 543.6L316.5 543.6L317 543.8L317.5 543.8L318 543.8L318.5 543.8L319 543.7L319.5 543.9L320 543.6L320.5 543.4L321 543.7L321.5 543.6L322 544.1L322.5 543.6L323 544.2L323.5 543.7L324 544.1L324.5 544.2L325 543.7L325.5 543.1L326 544L326 549.8L325.5 549.2L325 549.4L324.5 549.2L324 549.3L323.5 549.2L323 549.2L322.5 549.2L322 550.1L321.5 549.3L321 550.1L320.5 549.6L320 549.3L319.5 549.5L319 549.4L318.5 549.8L318 549.2L317.5 549.9L317 549.4L316.5 549L316 549.7L315.5 549.5L315 549.4L314.5 549.1L314 549.3L313.5 549.1L313 549.5L312.5 549.6L312 549.1L311.5 549.1L311 549.2L310.5 549.2L310 549.2L309.5 549.2L309 549.1L308.5 549.3L308 549.3L307.5 549.8L307 549.2L306.5 549.6L306 550.4L305.5 549.3L305 549.4L304.5 550.4L304 549.5L303.5 549.8L303 550L302.5 549.4L302 549.4L301.5 550L301 549.5L300.5 549.5L300 550L299.5 550.3L299 549.4L298.5 549.7L298 549.5L297.5 549.9L297 549.5L296.5 550L296 549.6L295.5 549.5L295 550.2L294.5 550.3L294 550.1L293.5 550.4L293 549.7L292.5 549.5L292 549.8L291.5 549.8L291 550L290.5 550L290 550.1L289.5 549.4L289 549.4L288.5 550.2L288 549.3L287.5 549.7L287 550L286.5 549.3L286 549.3L285.5 549.9L285 549.4L284.5 549.9L284 549.3L283.5 549.6L283 549.6L282.5 549.2L282 549.3L281.5 549.5L281 550.3L280.5 549.4L280 550.3L279.5 549.9L279 549.7L278.5 550.6L278 550.2L277.5 549.6L277 549.7L276.5 550.1L276 549.8L275.5 549.8L275 551L274.5 549.7L274 549.6L273.5 550L273 549.7L272.5 550.5L272 549.9L271.5 549.8L271 549.6L270.5 549.8L270 550L269.5 549.7L269 550.2L268.5 549.4L268 549.3L267.5 549.9L267 549.8L266.5 549.5L266 549.7L265.5 549.4L265 549.4L264.5 549.5L264 549.5L263.5 549.7L263 549.7L262.5 550.1L262 549.5L261.5 550.1L261 549.6L260.5 549.5L260 549.9L259.5 549.7L259 549.8L258.5 550.3L258 549.6L257.5 549.5L257 550.3L256.5 549.5L256 549.5L255.5 549.9L255 550L254.5 549.3L254 550.2L253.5 550.1L253 549.5L252.5 550.6L252 550.4L251.5 550.6L251 550.1L250.5 550.4L250 549.7L249.5 550L249 550.5L248.5 549.7L248 549.8L247.5 549.7L247 549.8L246.5 549.6L246 549.9L245.5 550L245 549.7L244.5 549.3L244 550L243.5 549.3L243 549.4L242.5 549.3L242 549.3L241.5 549.4L241 549.6L240.5 549.5L240 549.9L239.5 549.5L239 551.1L238.5 550.5L238 549.9L237.5 549.5L237 549.8L236.5 549.5L236 549.7L235.5 549.9L235 549.4L234.5 549.8L234 549.8L233.5 550L233 550.4L232.5 549.5L232 550.4L231.5 550.2L231 550.2L230.5 550.2L230 549.7L229.5 549.7L229 550.7L228.5 550.2L228 550.5L227.5 550.2L227 550.7L226.5 550.4L226 550.3L225.5 550L225 549.6L224.5 549.5L224 550L223.5 550.4L223 550L222.5 550.4L222 549.7L221.5 549.3L221 549.5L220.5 549.4L220 550.1L219.5 549.1L219 549.1L218.5 549.6L218 549.6L217.5 549.5L217 549.7L216.5 549.6L216 549.7L215.5 549.6L215 549.8L214.5 550.1L214 549.6L213.5 549.6L213 550.1L212.5 549.9L212 550.3L211.5 550.1L211 550.3L210.5 550.4L210 550.4L209.5 549.6L209 549.8L208.5 550.1L208 550.3L207.5 550.6L207 549.8L206.5 550.6L206 549.9L205.5 549.6L205 549.8L204.5 549.4L204 549.6L203.5 549.5L203 550.4L202.5 550.3L202 549.3L201.5 549.3L201 549.4L200.5 549.3L200 549.3L199.5 549.3L199 550.1L198.5 549.5L198 550.2L197.5 549.7L197 549.6L196.5 550L196 549.9L195.5 549.4L195 550.4L194.5 549.7L194 549.5L193.5 549.8L193 550.3L192.5 549.9L192 550.3L191.5 550.1L191 549.3L190.5 549.3L190 549.6L189.5 550.1L189 549.4L188.5 549.5L188 550L187.5 549.5L187 549.6L186.5 549.5L186 549.4L185.5 549.8L185 549.4L184.5 549.9L184 549L183.5 549.2L183 548.9L182.5 548.9L182 549.3L181.5 549.8L181 549.2L180.5 549.8L180 550L179.5 549.6L179 549.3Z" fill="#231f20" filter="url(#soft)"/>
<path d="M391.8 543.2L392.3 542.7L392.8 543.1L393.3 543.2L393.8 543.2L394.3 542.9L394.8 542.3L395.3 543L395.8 543.1L396.3 543L396.8 542.9L397.3 542.2L397.8 543.1L398.3 543L398.8 542.6L399.3 542.2L399.8 542.8L400.3 542.9L400.8 542.5L401.3 543L401.8 543.1L402.3 542.3L402.8 542.4L403.3 542.7L403.8 542.7L404.3 543.2L404.8 542.6L405.3 542.9L405.8 542.4L406.3 542.6L406.8 542.8L407.3 542.2L407.8 543L408.3 542.4L408.8 543L409.3 542.8L409.8 542.2L410.3 542.9L410.8 542.2L411.3 542.2L411.8 542.8L412.3 541.7L412.8 542.8L413.3 542.5L413.8 542.1L414.3 542.1L414.8 542.6L415.3 543L415.8 543.2L416.3 542.6L416.8 542.7L417.3 542.7L417.8 543.1L418.3 542.4L418.8 542.7L419.3 543.1L419.8 543.1L420.3 542.6L420.8 542.8L421.3 542.7L421.8 543L422.3 542.8L422.8 542.6L423.3 542.3L423.8 542.8L424.3 542.8L424.8 542.5L425.3 542.2L425.8 542.3L426.3 542.9L426.8 542.6L427.3 543.2L427.8 542.9L428.3 542.7L428.8 543L429.3 542.9L429.8 543.2L430.3 542.6L430.8 543.1L431.3 543.2L431.8 543.3L432.3 543L432.8 543.5L433.3 543.5L433.8 542.9L434.3 542.9L434.8 542.5L435.3 543L435.8 543.5L436.3 543.2L436.8 543.5L437.3 542.8L437.8 543.4L438.3 542.9L438.8 543.5L439.3 543.5L439.8 543.3L440.3 542.7L440.8 543L441.3 542.8L441.8 543L442.3 543.2L442.8 542.4L443.3 543L443.8 543.2L444.3 542.2L444.8 543.2L445.3 542.7L445.8 543.2L446.3 542.8L446.8 542.5L447.3 543L447.8 542.8L448.3 542.8L448.8 543L449.3 543.1L449.8 542.2L450.3 542.4L450.8 543L451.3 542.4L451.8 543.3L452.3 542.9L452.8 542.6L453.3 543L453.8 542.3L454.3 542.8L454.8 542.9L455.3 543.4L455.8 543.3L456.3 542.9L456.8 542.9L457.3 542.9L457.8 543.3L458.3 543.2L458.8 542.4L459.3 543.3L459.8 543.3L460.3 542.3L460.8 543.2L461.3 542.3L461.8 542.8L462.3 542.5L462.8 542.9L463.3 542.7L463.8 542.7L464.3 542.6L464.8 542.3L465.3 542.7L465.8 543L466.3 543.1L466.8 542.2L467.3 542.5L467.8 543.1L468.3 542.8L468.8 542.3L469.3 542.9L469.8 542.9L470.3 542.7L470.8 542.6L471.3 542.9L471.8 542.3L472.3 542.2L472.8 541.9L473.3 542.5L473.8 542.6L474.3 542.5L474.8 542.8L475.3 542.2L475.8 542.4L476.3 543L476.8 542.5L477.3 542.4L477.8 543.3L478.3 543.4L478.8 543.4L479.3 543.5L479.8 543L480.3 542.7L480.8 543.3L481.3 543.3L481.8 543.1L482.3 542.2L482.8 543.1L483.3 543.1L483.8 543L484.3 542.7L484.8 542.6L485.3 542.7L485.8 542.5L486.3 543.1L486.8 542.8L487.3 542.4L487.8 543L488.3 542.2L488.8 542.2L489.3 543.2L489.8 542.7L490.3 542.7L490.8 542.9L491.3 542.5L491.8 543.2L492.3 543.2L492.8 542.7L493.3 542.7L493.8 543L494.3 543.1L494.8 543.3L495.3 543.2L495.8 542.6L496.3 543L496.8 543.3L497.3 543.2L497.8 542.7L498.3 543.2L498.8 542.1L499.3 543L499.8 542.5L500.3 542.5L500.8 542.2L501.3 542.9L501.8 543L502.3 542.5L502.8 543.4L503.3 543.3L503.8 543L504.3 542.9L504.8 543.1L505.3 543.1L505.8 543.1L506.3 542.5L506.8 542.5L507.3 543.1L507.8 542.6L508.3 542.8L508.8 542.7L509.3 543L509.8 542.5L510.3 542.8L510.8 543.1L511.3 543.1L511.8 543L512.3 542.6L512.8 543L513.3 543.1L513.8 542.5L514.3 542.8L514.8 542.7L515.3 542.4L515.8 542.9L516.3 542.3L516.8 542.9L517.3 542.2L517.8 542.9L518.3 542.6L518.8 542.9L519.3 542.5L519.8 542.2L520.3 542.8L520.8 543L521.3 542.3L521.8 542.5L522.3 542.8L522.8 542.7L523.3 543.1L523.8 542.9L524.3 543.3L524.8 543.3L525.3 543.3L525.8 542.5L526.3 542.9L526.8 542.5L527.3 543.1L527.8 543L528.3 543.1L528.8 543.1L529.3 543.1L529.8 543.2L530.3 542.7L530.8 543.2L531.3 542.4L531.8 542.4L532.3 542.6L532.8 542.7L533.3 543L533.8 542.2L534.3 543L534.8 542.2L535.3 542.2L535.8 542.1L536.3 542.6L536.8 542.6L537.3 542.5L537.8 542.1L538.3 542.6L538.8 541.9L539.3 542.8L539.8 542.9L540.3 542.3L540.8 542.7L541.3 542.8L541.8 543L542.3 542.2L542.8 543.1L543.3 543.2L543.8 543.2L544.3 542.6L544.8 543.1L545.3 542.9L545.8 543.1L546.3 542.8L546.8 542.5L547.3 542.7L547.8 542.8L548.3 542.9L548.8 542.4L549.3 542.9L549.8 543L550.3 542.6L550.8 542.8L551.3 543L551.8 542.7L552.3 542.9L552.8 543.1L553.3 542.3L553.8 542.9L554.3 542.6L554.8 542.9L555.3 543.2L555.8 543.1L556.3 542.2L556.8 543.2L557.3 542.6L557.8 542.4L558.3 542.8L558.8 542.4L559.3 542.5L559.8 542.8L560.3 542.7L560.8 542.6L561.3 542.6L561.8 542.1L562.3 542.2L562.8 542.6L563.3 542.1L563.8 542.9L564.3 543L564.8 542.6L565.3 541.9L565.8 542.2L566.3 542.6L566.8 542.2L567.3 542.6L567.8 542.8L568.3 542.7L568.8 542.8L569.3 542.8L569.8 542.1L570.3 542.6L570.8 543L571.3 542.6L571.8 542.8L572.3 542.8L572.8 543.1L573.3 543.1L573.8 542.6L574.3 543.1L574.8 543.2L575.3 543.2L575.8 543.3L575.8 548.2L575.3 548.4L574.8 548.1L574.3 548.3L573.8 548.7L573.3 548.3L572.8 547.9L572.3 548.5L571.8 548.3L571.3 548.5L570.8 547.9L570.3 548.6L569.8 547.9L569.3 548.2L568.8 548.3L568.3 548.8L567.8 547.9L567.3 548.7L566.8 548.3L566.3 548.4L565.8 547.9L565.3 548.5L564.8 548.4L564.3 548.4L563.8 548.1L563.3 548.5L562.8 548.8L562.3 548L561.8 548.1L561.3 547.8L560.8 548.7L560.3 548L559.8 547.6L559.3 548L558.8 548.6L558.3 547.8L557.8 547.7L557.3 548.6L556.8 548.1L556.3 547.8L555.8 547.7L555.3 548.1L554.8 547.9L554.3 547.8L553.8 548.7L553.3 548.1L552.8 548.1L552.3 548.6L551.8 548.1L551.3 548.9L550.8 548.1L550.3 548.6L549.8 548.5L549.3 547.8L548.8 548.2L548.3 547.7L547.8 548L547.3 548L546.8 547.7L546.3 548.1L545.8 548L545.3 547.7L544.8 547.6L544.3 548L543.8 547.7L543.3 548.7L542.8 547.8L542.3 548.5L541.8 549.4L541.3 548L540.8 549L540.3 548.2L539.8 548.9L539.3 548.6L538.8 548.8L538.3 548.2L537.8 548.3L537.3 548.3L536.8 548.3L536.3 548.4L535.8 548.8L535.3 548.2L534.8 548.9L534.3 548.8L533.8 548.2L533.3 548L532.8 548.1L532.3 548.3L531.8 547.9L531.3 548.3L530.8 548.2L530.3 548.3L529.8 547.9L529.3 548.4L528.8 548.2L528.3 548.3L527.8 548.6L527.3 548L526.8 548.5L526.3 548.6L525.8 548.3L525.3 548.6L524.8 548.1L524.3 548L523.8 548.5L523.3 548.6L522.8 548L522.3 548.4L521.8 547.9L521.3 548L520.8 548.1L520.3 548L519.8 547.9L519.3 548.6L518.8 547.8L518.3 548.2L517.8 547.8L517.3 548.5L516.8 548L516.3 548L515.8 547.9L515.3 547.8L514.8 547.9L514.3 548L513.8 548L513.3 548L512.8 548.6L512.3 548.1L511.8 548.1L511.3 548L510.8 548.1L510.3 548L509.8 548.9L509.3 548.5L508.8 548L508.3 548L507.8 548.6L507.3 547.9L506.8 548.2L506.3 547.8L505.8 547.9L505.3 547.8L504.8 547.9L504.3 548.4L503.8 547.8L503.3 548.8L502.8 547.9L502.3 547.8L501.8 548L501.3 548L500.8 547.8L500.3 548.1L499.8 548.1L499.3 547.9L498.8 547.8L498.3 547.9L497.8 548.7L497.3 548L496.8 548.4L496.3 548L495.8 548.3L495.3 548.2L494.8 548.5L494.3 548.3L493.8 548.2L493.3 548L492.8 548.6L492.3 548.8L491.8 548.9L491.3 548.9L490.8 548.9L490.3 548.1L489.8 548.5L489.3 548.4L488.8 548.8L488.3 548.9L487.8 548.2L487.3 548.4L486.8 549L486.3 548.2L485.8 548.3L485.3 548.4L484.8 549.1L484.3 548.8L483.8 549L483.3 548.7L482.8 548.6L482.3 548.3L481.8 548.2L481.3 548.8L480.8 548.4L480.3 548.5L479.8 548L479.3 548.8L478.8 547.9L478.3 548.2L477.8 548.6L477.3 548.1L476.8 548.1L476.3 548.3L475.8 548.5L475.3 548.6L474.8 548.4L474.3 548L473.8 548.2L473.3 548.8L472.8 548.4L472.3 548.3L471.8 548.1L471.3 548.7L470.8 548.5L470.3 548.1L469.8 548.2L469.3 549L468.8 548.8L468.3 548.2L467.8 548.8L467.3 548.3L466.8 548.9L466.3 548.3L465.8 548.9L465.3 548.8L464.8 548.3L464.3 548.1L463.8 548.2L463.3 548L462.8 548.8L462.3 548.7L461.8 547.9L461.3 548L460.8 548.6L460.3 549L459.8 548.9L459.3 548.2L458.8 548.3L458.3 548L457.8 548.2L457.3 549L456.8 549.1L456.3 549.1L455.8 548.7L455.3 548.4L454.8 548.2L454.3 549L453.8 548.1L453.3 548.2L452.8 548.3L452.3 548L451.8 548.3L451.3 548.2L450.8 548.2L450.3 548.2L449.8 548.3L449.3 548L448.8 548.1L448.3 548.7L447.8 548.7L447.3 548.1L446.8 548.2L446.3 548.4L445.8 548.2L445.3 548.6L444.8 548.7L444.3 548.2L443.8 548.8L443.3 548.1L442.8 548.1L442.3 548.8L441.8 548.2L441.3 548.9L440.8 548.6L440.3 548.6L439.8 548L439.3 548.8L438.8 548.5L438.3 548L437.8 548.5L437.3 549.6L436.8 548.6L436.3 548.3L435.8 548.2L435.3 548.8L434.8 548.3L434.3 548.2L433.8 548.4L433.3 548.4L432.8 548.6L432.3 548.2L431.8 548.2L431.3 548.2L430.8 548.5L430.3 549L429.8 548L429.3 548.4L428.8 547.9L428.3 547.8L427.8 547.8L427.3 547.9L426.8 548.1L426.3 547.9L425.8 548.2L425.3 548.4L424.8 549L424.3 548.7L423.8 548.9L423.3 548.6L422.8 548.5L422.3 548.3L421.8 548.1L421.3 548.4L420.8 547.9L420.3 547.7L419.8 547.8L419.3 548.1L418.8 548.1L418.3 548.4L417.8 548.1L417.3 548.2L416.8 548.3L416.3 548.7L415.8 549.1L415.3 548.6L414.8 548.3L414.3 548.3L413.8 548.2L413.3 548.4L412.8 548.9L412.3 548.2L411.8 548.9L411.3 548.2L410.8 548.9L410.3 548.6L409.8 548.9L409.3 548.3L408.8 547.8L408.3 548.4L407.8 547.7L407.3 548L406.8 547.6L406.3 547.7L405.8 547.8L405.3 548.5L404.8 547.8L404.3 548.1L403.8 548.6L403.3 547.7L402.8 548.3L402.3 548.6L401.8 547.9L401.3 548.2L400.8 548.1L400.3 548.6L399.8 548.4L399.3 548.1L398.8 548.6L398.3 549L397.8 548.5L397.3 548.5L396.8 548.7L396.3 548.4L395.8 549.1L395.3 548.2L394.8 549.1L394.3 548.2L393.8 549.1L393.3 548.4L392.8 548.3L392.3 548.7L391.8 548.4Z" fill="#231f20" filter="url(#soft)"/>
<path d="M626.9 543.1L627.4 543.1L627.9 543.1L628.4 543.7L628.9 544L629.4 543.3L629.9 543.5L630.4 543L630.9 544.5L631.4 543.2L631.9 543.9L632.4 544.1L632.9 544.2L633.4 544.3L633.9 544.2L634.4 544.2L634.9 544L635.4 543.3L635.9 543.1L636.4 544.5L636.9 544.5L637.4 544.6L637.9 544.5L638.4 544.4L638.9 543.9L639.4 543.5L639.9 543.7L640.4 542.9L640.9 544.4L641.4 543.5L641.9 544.1L642.4 542.6L642.9 544.1L643.4 542.8L643.9 544L644.4 543.5L644.9 543.6L645.4 543.7L645.9 544L646.4 544.5L646.9 544.2L647.4 544.4L647.9 543.5L648.4 543.5L648.9 544.3L649.4 544.1L649.9 542.9L650.4 543.8L650.9 543.1L651.4 543.7L651.9 543.8L652.4 544L652.9 543.2L653.4 543.8L653.9 543L654.4 544.5L654.9 543.9L655.4 543.5L655.9 544L656.4 543.4L656.9 544.5L657.4 544.1L657.9 543.8L658.4 543.6L658.9 544.3L659.4 543.4L659.9 543.4L660.4 543.3L660.9 544L661.4 543.9L661.9 544.2L662.4 544.3L662.9 543.5L663.4 544.4L663.9 543.7L664.4 543.1L664.9 543.8L665.4 543.4L665.9 544.5L666.4 544.4L666.9 544.6L667.4 544.4L667.9 544.4L668.4 542.4L668.9 544.9L669.4 544.5L669.9 544.9L670.4 544.7L670.9 543.8L671.4 543.6L671.9 544L672.4 543.2L672.9 544.3L673.4 543.2L673.9 544.1L674.4 543.2L674.9 543L675.4 544.1L675.9 544L676.4 542.9L676.9 543.5L677.4 542.7L677.9 543.5L678.4 542.8L678.9 542.5L679.4 543.6L679.9 543.5L680.4 543.6L680.9 544.1L681.4 544.5L681.9 544.6L682.4 543.6L682.9 544.4L683.4 544.8L683.9 543.9L684.4 544.5L684.9 544.6L685.4 542.9L685.9 543.4L686.4 542.7L686.9 543.4L687.4 544.2L687.9 544L688.4 543.1L688.9 543.2L689.4 544.1L689.9 542.3L690.4 543.2L690.9 543.2L691.4 543.9L691.9 543.4L692.4 543.1L692.9 543.9L693.4 543.9L693.9 544L694.4 543.9L694.9 544.1L695.4 543.7L695.9 544L696.4 543.1L696.9 543.6L697.4 543.1L697.9 544.1L698.4 543.5L698.9 543.9L699.4 544.1L699.9 542.6L700.4 543.2L700.9 544.1L701.4 543.3L701.9 543.1L702.4 543.4L702.9 544.5L703.4 543.2L703.9 543.5L704.4 544.6L704.9 543.3L705.4 544.3L705.9 544.4L706.4 543L706.9 543.8L707.4 544.2L707.9 543.7L708.4 544.4L708.9 544.3L709.4 543.2L709.9 543.9L710.4 544.3L710.9 544.3L711.4 544.4L711.9 543.4L712.4 544.3L712.9 543.4L713.4 542.9L713.9 544L714.4 543.7L714.9 544.1L715.4 543.1L715.9 543.7L716.4 543.9L716.9 543.8L717.4 543.2L717.9 543.8L718.4 544.3L718.9 544.1L719.4 543.3L719.9 544.2L720.4 543.1L720.9 543.7L721.4 542.9L721.9 542.6L722.4 543.8L722.9 543.2L723.4 543.9L723.9 543L724.4 543.5L724.9 544.1L725.4 542.6L725.9 543.4L726.4 544.2L726.9 543.2L727.4 544.1L727.9 542.7L728.4 542.7L728.9 544.2L729.4 543.1L729.9 544.5L730.4 544.1L730.9 544.5L731.4 543.6L731.9 543L732.4 544L732.9 543.9L733.4 543.2L733.9 543.3L734.4 544.2L734.9 544.1L735.4 543.2L735.9 543.7L736.4 544.3L736.9 544.2L737.4 544.1L737.9 544.7L738.4 544.2L738.9 543.3L739.4 543.7L739.9 543.4L740.4 544.1L740.9 543.9L741.4 544.1L741.9 544L742.4 544.6L742.9 543.8L743.4 543.8L743.9 544.5L744.4 544.2L744.9 543.7L745.4 543.6L745.9 544L746.4 543.7L746.9 543.3L747.4 542.9L747.9 542.6L748.4 543.8L748.9 543.4L749.4 544.3L749.9 544.1L750.4 542.8L750.9 543.3L751.4 544L751.9 542.8L752.4 544.1L752.9 543.4L753.4 543.9L753.9 544.1L754.4 543.4L754.9 543.7L755.4 543.1L755.9 543L756.4 543.7L756.9 543.9L757.4 543.5L757.9 542.8L758.4 543.8L758.9 543.9L759.4 543.4L759.9 543.9L760.4 544.1L760.9 544.1L761.4 543.7L761.9 544L762.4 543.3L762.9 543.5L763.4 542.9L763.9 543.8L764.4 544L764.9 543.6L765.4 544.1L765.9 544L766.4 543.9L766.9 544L767.4 543.6L767.9 543L768.4 543.7L768.9 543.7L769.4 543.2L769.9 544L770.4 543.7L770.9 542.5L771.4 542.8L771.4 550.4L770.9 550.1L770.4 551.4L769.9 551.3L769.4 550L768.9 550.3L768.4 549.8L767.9 549.9L767.4 549.9L766.9 549.8L766.4 550.9L765.9 550.2L765.4 551L764.9 550.3L764.4 550.8L763.9 550.5L763.4 550.9L762.9 551.4L762.4 549.8L761.9 549.8L761.4 550.7L760.9 550.4L760.4 549.8L759.9 550.6L759.4 549.4L758.9 550.1L758.4 549.6L757.9 549.9L757.4 550.1L756.9 550.2L756.4 550.1L755.9 551.3L755.4 550.1L754.9 550.6L754.4 550.6L753.9 550.7L753.4 550.1L752.9 549.9L752.4 549.7L751.9 549.7L751.4 549.9L750.9 549.8L750.4 549.8L749.9 549.8L749.4 549.9L748.9 551.3L748.4 550.5L747.9 550.5L747.4 551.5L746.9 551.1L746.4 551L745.9 550.4L745.4 550L744.9 550.4L744.4 550.4L743.9 549.9L743.4 549.9L742.9 550.6L742.4 550.4L741.9 550L741.4 550.1L740.9 550.1L740.4 550L739.9 550.9L739.4 550.9L738.9 550.7L738.4 550.5L737.9 550.1L737.4 551.2L736.9 550L736.4 550L735.9 549.8L735.4 549.7L734.9 549.6L734.4 550.6L733.9 549.6L733.4 549.9L732.9 550L732.4 550.1L731.9 551.4L731.4 549.9L730.9 550.2L730.4 550L729.9 550.8L729.4 551.6L728.9 551L728.4 551.5L727.9 550.4L727.4 550.6L726.9 550.5L726.4 550.4L725.9 551.3L725.4 550.8L724.9 550.1L724.4 550.7L723.9 549.9L723.4 550.3L722.9 550.6L722.4 551.1L721.9 550L721.4 551.2L720.9 550.5L720.4 550.1L719.9 551L719.4 550.7L718.9 551.7L718.4 550.7L717.9 550L717.4 551.3L716.9 550.2L716.4 551L715.9 551.4L715.4 551L714.9 551.4L714.4 550.7L713.9 551.3L713.4 550.4L712.9 551.7L712.4 551.6L711.9 551.6L711.4 550.6L710.9 552.2L710.4 551.5L709.9 550.8L709.4 551.1L708.9 550.8L708.4 551.7L707.9 551.4L707.4 552.1L706.9 550.8L706.4 551.1L705.9 551.7L705.4 550.6L704.9 550.5L704.4 551.8L703.9 550.9L703.4 550.8L702.9 550.8L702.4 551.1L701.9 551.2L701.4 551.1L700.9 550.8L700.4 550.2L699.9 551L699.4 550.2L698.9 550.1L698.4 550.2L697.9 550.3L697.4 550.7L696.9 552.2L696.4 550.4L695.9 550.5L695.4 551.7L694.9 550.3L694.4 551.9L693.9 550.7L693.4 551.7L692.9 550.9L692.4 550.2L691.9 551.8L691.4 551.3L690.9 550.4L690.4 551.3L689.9 550.2L689.4 550.2L688.9 551L688.4 550.6L687.9 549.9L687.4 549.8L686.9 550.1L686.4 549.8L685.9 550.2L685.4 549.8L684.9 551.1L684.4 550.1L683.9 549.9L683.4 550.9L682.9 550.2L682.4 550L681.9 549.9L681.4 550.5L680.9 550L680.4 551.4L679.9 551.6L679.4 551.2L678.9 550.3L678.4 550.3L677.9 550.7L677.4 550.1L676.9 550.7L676.4 550.3L675.9 550.5L675.4 550.1L674.9 550.9L674.4 550.9L673.9 550.4L673.4 550.8L672.9 550.6L672.4 550.8L671.9 551.8L671.4 551.6L670.9 551L670.4 552.2L669.9 551.3L669.4 551.6L668.9 550.9L668.4 550.2L667.9 550.3L667.4 550L666.9 550.2L666.4 550.1L665.9 550.7L665.4 550.2L664.9 549.9L664.4 551.5L663.9 551.5L663.4 550.2L662.9 549.9L662.4 549.9L661.9 551.5L661.4 550.7L660.9 549.8L660.4 549.9L659.9 550.7L659.4 549.7L658.9 551.3L658.4 550.3L657.9 551.1L657.4 550.4L656.9 550.7L656.4 550L655.9 550.1L655.4 550.4L654.9 549.7L654.4 550.5L653.9 551.1L653.4 550L652.9 550.1L652.4 550.3L651.9 550.4L651.4 550.4L650.9 550.3L650.4 551.3L649.9 551.9L649.4 551L648.9 550.2L648.4 550.1L647.9 551.1L647.4 550.9L646.9 550.4L646.4 550.6L645.9 550L645.4 550.2L644.9 551.4L644.4 550.4L643.9 550.4L643.4 551.1L642.9 550.3L642.4 551L641.9 551L641.4 550.3L640.9 551.5L640.4 550.4L639.9 551L639.4 550.3L638.9 550.1L638.4 550.5L637.9 550.2L637.4 551.4L636.9 551.5L636.4 550.7L635.9 550.9L635.4 551.3L634.9 550.7L634.4 550.5L633.9 550.3L633.4 550.3L632.9 550L632.4 550.1L631.9 550.6L631.4 550.9L630.9 549.5L630.4 550.2L629.9 550L629.4 550L628.9 549.9L628.4 550.2L627.9 549.4L627.4 549.5L626.9 549.5Z" fill="#231f20" filter="url(#soft)"/>
<text x="405.6" y="600.4" font-size="26.4" text-anchor="start">100 pA</text>
<path d="M502.4 577.6V603.6H521" fill="none" stroke="#231f20" stroke-width="2"/>
<text x="489.8" y="632.8" font-size="27.0" text-anchor="start">4 s</text>
</g>
<g id="panel-b">
<text x="795.6" y="35.2" font-size="48.0" text-anchor="start">b</text>
<line x1="941.9" y1="365.7" x2="941.9" y2="385.6" stroke="#231f20" stroke-width="1.2"/>
<line x1="938.1" y1="365.7" x2="945.7" y2="365.7" stroke="#231f20" stroke-width="1.2"/>
<rect x="933.4" y="385.6" width="17.1" height="143.4" fill="#fff" stroke="#231f20" stroke-width="1.2"/>
<line x1="963.1" y1="257.8" x2="963.1" y2="285.6" stroke="#231f20" stroke-width="1.2"/>
<line x1="959.3" y1="257.8" x2="966.9" y2="257.8" stroke="#231f20" stroke-width="1.2"/>
<rect x="954.5" y="285.6" width="17.1" height="243.4" fill="#c8c9cb" stroke="#231f20" stroke-width="1.2"/>
<line x1="984.2" y1="248.7" x2="984.2" y2="278.3" stroke="#231f20" stroke-width="1.2"/>
<line x1="980.4" y1="248.7" x2="988" y2="248.7" stroke="#231f20" stroke-width="1.2"/>
<rect x="975.7" y="278.3" width="17.1" height="250.7" fill="#939598" stroke="#231f20" stroke-width="1.2"/>
<line x1="1005.4" y1="316.3" x2="1005.4" y2="336.1" stroke="#231f20" stroke-width="1.2"/>
<line x1="1001.6" y1="316.3" x2="1009.2" y2="316.3" stroke="#231f20" stroke-width="1.2"/>
<rect x="996.9" y="336.1" width="17.1" height="192.9" fill="#636466" stroke="#231f20" stroke-width="1.2"/>
<line x1="1047.5" y1="386.7" x2="1047.5" y2="403.6" stroke="#231f20" stroke-width="1.2"/>
<line x1="1043.8" y1="386.7" x2="1051.3" y2="386.7" stroke="#231f20" stroke-width="1.2"/>
<rect x="1039" y="403.6" width="17.1" height="125.4" fill="#fff" stroke="#231f20" stroke-width="1.2"/>
<line x1="1068.7" y1="380.5" x2="1068.7" y2="398.5" stroke="#231f20" stroke-width="1.2"/>
<line x1="1064.9" y1="380.5" x2="1072.5" y2="380.5" stroke="#231f20" stroke-width="1.2"/>
<rect x="1060.2" y="398.5" width="17.1" height="130.5" fill="#c8c9cb" stroke="#231f20" stroke-width="1.2"/>
<line x1="1089.8" y1="379.6" x2="1089.8" y2="397.4" stroke="#231f20" stroke-width="1.2"/>
<line x1="1086" y1="379.6" x2="1093.6" y2="379.6" stroke="#231f20" stroke-width="1.2"/>
<rect x="1081.3" y="397.4" width="17.1" height="131.6" fill="#939598" stroke="#231f20" stroke-width="1.2"/>
<line x1="1111" y1="273.4" x2="1111" y2="315" stroke="#231f20" stroke-width="1.2"/>
<line x1="1107.2" y1="273.4" x2="1114.8" y2="273.4" stroke="#231f20" stroke-width="1.2"/>
<rect x="1102.5" y="315" width="17.1" height="214" fill="#636466" stroke="#231f20" stroke-width="1.2"/>
<line x1="1153.1" y1="500.4" x2="1153.1" y2="506.9" stroke="#231f20" stroke-width="1.2"/>
<line x1="1149.3" y1="500.4" x2="1156.9" y2="500.4" stroke="#231f20" stroke-width="1.2"/>
<rect x="1144.6" y="506.9" width="17.1" height="22.1" fill="#fff" stroke="#231f20" stroke-width="1.2"/>
<line x1="1174.3" y1="480.5" x2="1174.3" y2="492.5" stroke="#231f20" stroke-width="1.2"/>
<line x1="1170.5" y1="480.5" x2="1178.1" y2="480.5" stroke="#231f20" stroke-width="1.2"/>
<rect x="1165.8" y="492.5" width="17.1" height="36.5" fill="#c8c9cb" stroke="#231f20" stroke-width="1.2"/>
<line x1="1195.4" y1="474.6" x2="1195.4" y2="488" stroke="#231f20" stroke-width="1.2"/>
<line x1="1191.6" y1="474.6" x2="1199.2" y2="474.6" stroke="#231f20" stroke-width="1.2"/>
<rect x="1186.9" y="488" width="17.1" height="41" fill="#939598" stroke="#231f20" stroke-width="1.2"/>
<line x1="1216.6" y1="481" x2="1216.6" y2="494.3" stroke="#231f20" stroke-width="1.2"/>
<line x1="1212.8" y1="481" x2="1220.4" y2="481" stroke="#231f20" stroke-width="1.2"/>
<rect x="1208" y="494.3" width="17.1" height="34.7" fill="#636466" stroke="#231f20" stroke-width="1.2"/>
<line x1="1249.8" y1="528.3" x2="1267.9" y2="528.3" stroke="#231f20" stroke-width="1.9"/>
<line x1="1270.9" y1="528.3" x2="1289" y2="528.3" stroke="#231f20" stroke-width="1.9"/>
<line x1="1292.1" y1="528.3" x2="1310.2" y2="528.3" stroke="#231f20" stroke-width="1.9"/>
<line x1="1313.2" y1="528.3" x2="1331.3" y2="528.3" stroke="#231f20" stroke-width="1.9"/>
<line x1="921.2" y1="65.2" x2="921.2" y2="529.6" stroke="#231f20" stroke-width="1.3"/>
<line x1="915.8" y1="529" x2="1342.7" y2="529" stroke="#231f20" stroke-width="1.3"/>
<line x1="915.8" y1="116.2" x2="921.2" y2="116.2" stroke="#231f20" stroke-width="1.2"/>
<line x1="915.8" y1="219.4" x2="921.2" y2="219.4" stroke="#231f20" stroke-width="1.2"/>
<line x1="915.8" y1="322.6" x2="921.2" y2="322.6" stroke="#231f20" stroke-width="1.2"/>
<line x1="915.8" y1="425.8" x2="921.2" y2="425.8" stroke="#231f20" stroke-width="1.2"/>
<line x1="918.4" y1="64.6" x2="921.2" y2="64.6" stroke="#231f20" stroke-width="1.2"/>
<line x1="918.4" y1="167.8" x2="921.2" y2="167.8" stroke="#231f20" stroke-width="1.2"/>
<line x1="918.4" y1="271" x2="921.2" y2="271" stroke="#231f20" stroke-width="1.2"/>
<line x1="918.4" y1="374.2" x2="921.2" y2="374.2" stroke="#231f20" stroke-width="1.2"/>
<line x1="918.4" y1="477.4" x2="921.2" y2="477.4" stroke="#231f20" stroke-width="1.2"/>
<text x="914.6" y="127.4" font-size="32.0" text-anchor="end">40</text>
<text x="914.6" y="230.6" font-size="32.0" text-anchor="end">30</text>
<text x="914.6" y="333.8" font-size="32.0" text-anchor="end">20</text>
<text x="914.6" y="437" font-size="32.0" text-anchor="end">10</text>
<text x="914.6" y="540.2" font-size="32.0" text-anchor="end">0</text>
<line x1="973.7" y1="529" x2="973.7" y2="533.8" stroke="#231f20" stroke-width="1.2"/>
<line x1="1079.3" y1="529" x2="1079.3" y2="533.8" stroke="#231f20" stroke-width="1.2"/>
<line x1="1184.9" y1="529" x2="1184.9" y2="533.8" stroke="#231f20" stroke-width="1.2"/>
<line x1="1290.5" y1="529" x2="1290.5" y2="533.8" stroke="#231f20" stroke-width="1.2"/>
<text transform="translate(862.1 358.2) rotate(-90)" font-size="32.5">I<tspan font-size="22" dy="7.7">spont</tspan><tspan dy="-7.7" dx="-3.4"> (%)</tspan></text>
<path d="M938.4 274.5L941.9 271.4L945.4 274.5L941.9 277.6Z" fill="#231f20"/>
<path d="M937.9 327.2L941.4 324.1L944.9 327.2L941.4 330.3Z" fill="#231f20"/>
<path d="M938.8 385.9L942.3 382.8L945.8 385.9L942.3 389Z" fill="#231f20"/>
<path d="M938.1 400.7L941.6 397.6L945.1 400.7L941.6 403.8Z" fill="#231f20"/>
<path d="M937.7 407.4L941.2 404.3L944.7 407.4L941.2 410.5Z" fill="#231f20"/>
<path d="M937.7 410.4L941.2 407.3L944.7 410.4L941.2 413.5Z" fill="#231f20"/>
<path d="M938.4 436.7L941.9 433.6L945.4 436.7L941.9 439.8Z" fill="#231f20"/>
<path d="M938.8 447L942.3 443.9L945.8 447L942.3 450.1Z" fill="#231f20"/>
<path d="M961.2 144.7L964.7 141.6L968.2 144.7L964.7 147.8Z" fill="#231f20"/>
<path d="M959.6 188.3L963.1 185.2L966.6 188.3L963.1 191.4Z" fill="#231f20"/>
<path d="M961.7 279.6L965.2 276.5L968.7 279.6L965.2 282.7Z" fill="#231f20"/>
<path d="M957.7 308.3L961.2 305.2L964.7 308.3L961.2 311.4Z" fill="#231f20"/>
<path d="M958.4 325.2L961.9 322.1L965.4 325.2L961.9 328.3Z" fill="#231f20"/>
<path d="M961 327.2L964.5 324.1L968 327.2L964.5 330.3Z" fill="#231f20"/>
<path d="M960.1 336.1L963.6 333L967.1 336.1L963.6 339.2Z" fill="#231f20"/>
<path d="M958 378.4L961.5 375.3L965 378.4L961.5 381.5Z" fill="#231f20"/>
<path d="M980.3 124.5L983.8 121.4L987.3 124.5L983.8 127.6Z" fill="#231f20"/>
<path d="M978.7 185L982.2 181.9L985.7 185L982.2 188.1Z" fill="#231f20"/>
<path d="M981.5 260.9L985 257.8L988.5 260.9L985 264Z" fill="#231f20"/>
<path d="M981 302.5L984.5 299.4L988 302.5L984.5 305.6Z" fill="#231f20"/>
<path d="M980.6 315.6L984.1 312.5L987.6 315.6L984.1 318.7Z" fill="#231f20"/>
<path d="M980.6 339.4L984.1 336.3L987.6 339.4L984.1 342.5Z" fill="#231f20"/>
<path d="M981.7 344.1L985.2 341L988.7 344.1L985.2 347.2Z" fill="#231f20"/>
<path d="M983.7 354.8L987.2 351.7L990.7 354.8L987.2 357.9Z" fill="#231f20"/>
<path d="M999.5 224.7L1003 221.6L1006.5 224.7L1003 227.8Z" fill="#231f20"/>
<path d="M999.1 290.3L1002.6 287.2L1006.1 290.3L1002.6 293.4Z" fill="#231f20"/>
<path d="M1002.8 333.4L1006.3 330.3L1009.8 333.4L1006.3 336.5Z" fill="#231f20"/>
<path d="M1003.7 337.2L1007.2 334.1L1010.7 337.2L1007.2 340.3Z" fill="#231f20"/>
<path d="M1000.4 350.3L1003.9 347.2L1007.4 350.3L1003.9 353.4Z" fill="#231f20"/>
<path d="M1002.8 365.2L1006.3 362.1L1009.8 365.2L1006.3 368.3Z" fill="#231f20"/>
<path d="M1000.8 374L1004.3 370.9L1007.8 374L1004.3 377.1Z" fill="#231f20"/>
<path d="M1002.2 418L1005.7 414.9L1009.2 418L1005.7 421.1Z" fill="#231f20"/>
<path d="M1043.8 350.3L1047.3 347.2L1050.8 350.3L1047.3 353.4Z" fill="#231f20"/>
<path d="M1044.7 358.8L1048.2 355.7L1051.7 358.8L1048.2 361.9Z" fill="#231f20"/>
<path d="M1044.4 377.9L1047.9 374.8L1051.4 377.9L1047.9 381Z" fill="#231f20"/>
<path d="M1043.8 404L1047.3 400.9L1050.8 404L1047.3 407.1Z" fill="#231f20"/>
<path d="M1044.9 419.8L1048.4 416.7L1051.9 419.8L1048.4 422.9Z" fill="#231f20"/>
<path d="M1046.7 450L1050.2 446.9L1053.7 450L1050.2 453.1Z" fill="#231f20"/>
<path d="M1045.1 463.4L1048.6 460.3L1052.1 463.4L1048.6 466.5Z" fill="#231f20"/>
<path d="M1065.5 333.9L1069 330.8L1072.5 333.9L1069 337Z" fill="#231f20"/>
<path d="M1063.8 358.8L1067.3 355.7L1070.8 358.8L1067.3 361.9Z" fill="#231f20"/>
<path d="M1066.2 366.6L1069.7 363.5L1073.2 366.6L1069.7 369.7Z" fill="#231f20"/>
<path d="M1064 401.6L1067.5 398.5L1071 401.6L1067.5 404.7Z" fill="#231f20"/>
<path d="M1065.1 419.8L1068.6 416.7L1072.1 419.8L1068.6 422.9Z" fill="#231f20"/>
<path d="M1067.8 450L1071.3 446.9L1074.8 450L1071.3 453.1Z" fill="#231f20"/>
<path d="M1066 459.8L1069.5 456.7L1073 459.8L1069.5 462.9Z" fill="#231f20"/>
<path d="M1087.8 341.7L1091.3 338.6L1094.8 341.7L1091.3 344.8Z" fill="#231f20"/>
<path d="M1084.9 358.8L1088.4 355.7L1091.9 358.8L1088.4 361.9Z" fill="#231f20"/>
<path d="M1085.3 366.1L1088.8 363L1092.3 366.1L1088.8 369.2Z" fill="#231f20"/>
<path d="M1085.5 384.9L1089 381.8L1092.5 384.9L1089 388Z" fill="#231f20"/>
<path d="M1087.3 419.8L1090.8 416.7L1094.3 419.8L1090.8 422.9Z" fill="#231f20"/>
<path d="M1086 447.8L1089.5 444.7L1093 447.8L1089.5 450.9Z" fill="#231f20"/>
<path d="M1086.9 461.2L1090.4 458.1L1093.9 461.2L1090.4 464.3Z" fill="#231f20"/>
<path d="M1107 128.5L1110.5 125.4L1114 128.5L1110.5 131.6Z" fill="#231f20"/>
<path d="M1109.2 213L1112.7 209.9L1116.2 213L1112.7 216.1Z" fill="#231f20"/>
<path d="M1109.2 297.5L1112.7 294.4L1116.2 297.5L1112.7 300.6Z" fill="#231f20"/>
<path d="M1109.2 342.8L1112.7 339.7L1116.2 342.8L1112.7 345.9Z" fill="#231f20"/>
<path d="M1106.5 388.3L1110 385.2L1113.5 388.3L1110 391.4Z" fill="#231f20"/>
<path d="M1107.9 411.2L1111.4 408.1L1114.9 411.2L1111.4 414.3Z" fill="#231f20"/>
<path d="M1109 421.9L1112.5 418.8L1116 421.9L1112.5 425Z" fill="#231f20"/>
<path d="M1146.3 476L1149.8 472.9L1153.3 476L1149.8 479.1Z" fill="#231f20"/>
<path d="M1149.5 495.8L1153 492.7L1156.5 495.8L1153 498.9Z" fill="#231f20"/>
<path d="M1148.7 505L1152.2 501.9L1155.7 505L1152.2 508.1Z" fill="#231f20"/>
<path d="M1149.7 516.1L1153.2 513L1156.7 516.1L1153.2 519.2Z" fill="#231f20"/>
<path d="M1147.9 524.9L1151.4 521.8L1154.9 524.9L1151.4 528Z" fill="#231f20"/>
<path d="M1150.3 523.4L1153.8 520.3L1157.3 523.4L1153.8 526.5Z" fill="#231f20"/>
<path d="M1170.7 428L1174.2 424.9L1177.7 428L1174.2 431.1Z" fill="#231f20"/>
<path d="M1171.3 482.9L1174.8 479.8L1178.3 482.9L1174.8 486Z" fill="#231f20"/>
<path d="M1170.3 493L1173.8 489.9L1177.3 493L1173.8 496.1Z" fill="#231f20"/>
<path d="M1170.3 508.4L1173.8 505.3L1177.3 508.4L1173.8 511.5Z" fill="#231f20"/>
<path d="M1170.3 518.9L1173.8 515.8L1177.3 518.9L1173.8 522Z" fill="#231f20"/>
<path d="M1170.9 521.8L1174.4 518.7L1177.9 521.8L1174.4 524.9Z" fill="#231f20"/>
<path d="M1191 412.2L1194.5 409.1L1198 412.2L1194.5 415.3Z" fill="#231f20"/>
<path d="M1193.4 479.2L1196.9 476.1L1200.4 479.2L1196.9 482.3Z" fill="#231f20"/>
<path d="M1190.3 492.1L1193.8 489L1197.3 492.1L1193.8 495.2Z" fill="#231f20"/>
<path d="M1195.6 494.5L1199.1 491.4L1202.6 494.5L1199.1 497.6Z" fill="#231f20"/>
<path d="M1190.6 502.8L1194.1 499.7L1197.6 502.8L1194.1 505.9Z" fill="#231f20"/>
<path d="M1191.6 518.9L1195.1 515.8L1198.6 518.9L1195.1 522Z" fill="#231f20"/>
<path d="M1211.3 418.3L1214.8 415.2L1218.3 418.3L1214.8 421.4Z" fill="#231f20"/>
<path d="M1212.4 486.2L1215.9 483.1L1219.4 486.2L1215.9 489.3Z" fill="#231f20"/>
<path d="M1214.1 497.7L1217.6 494.6L1221.1 497.7L1217.6 500.8Z" fill="#231f20"/>
<path d="M1215.5 508.4L1219 505.3L1222.5 508.4L1219 511.5Z" fill="#231f20"/>
<path d="M1214.1 513L1217.6 509.9L1221.1 513L1217.6 516.1Z" fill="#231f20"/>
<path d="M1210.9 518.9L1214.4 515.8L1217.9 518.9L1214.4 522Z" fill="#231f20"/>
<path d="M1211.9 521.6L1215.4 518.5L1218.9 521.6L1215.4 524.7Z" fill="#231f20"/>
<path d="M1252.7 527.3L1256.2 524.2L1259.7 527.3L1256.2 530.4Z" fill="#231f20"/>
<path d="M1256.9 527.3L1260.4 524.2L1263.9 527.3L1260.4 530.4Z" fill="#231f20"/>
<path d="M1252.9 528.9L1256.4 525.8L1259.9 528.9L1256.4 532Z" fill="#231f20"/>
<path d="M1256.7 528.9L1260.2 525.8L1263.7 528.9L1260.2 532Z" fill="#231f20"/>
<path d="M1276.5 525.4L1280 522.3L1283.5 525.4L1280 528.5Z" fill="#231f20"/>
<path d="M1276.5 528.8L1280 525.7L1283.5 528.8L1280 531.9Z" fill="#231f20"/>
<path d="M1276.7 527.4L1280.2 524.3L1283.7 527.4L1280.2 530.5Z" fill="#231f20"/>
<path d="M1298.1 525.3L1301.6 522.2L1305.1 525.3L1301.6 528.4Z" fill="#231f20"/>
<path d="M1297.9 528.8L1301.4 525.7L1304.9 528.8L1301.4 531.9Z" fill="#231f20"/>
<path d="M1298.3 527.2L1301.8 524.1L1305.3 527.2L1301.8 530.3Z" fill="#231f20"/>
<path d="M1316.1 527.2L1319.6 524.1L1323.1 527.2L1319.6 530.3Z" fill="#231f20"/>
<path d="M1320.3 527.2L1323.8 524.1L1327.3 527.2L1323.8 530.3Z" fill="#231f20"/>
<path d="M1318.1 528.9L1321.6 525.8L1325.1 528.9L1321.6 532Z" fill="#231f20"/>
<path d="M1318.3 526.6L1321.8 523.5L1325.3 526.6L1321.8 529.7Z" fill="#231f20"/>
<path d="M943.4 86.7V77.2H1005V86.7" fill="none" stroke="#6d6e71" stroke-width="1.2"/>
<path d="M943.4 101.2V91.4H986.8V101.2" fill="none" stroke="#6d6e71" stroke-width="1.2"/>
<path d="M943.4 116.3V106.7H966.1V116.3" fill="none" stroke="#6d6e71" stroke-width="1.2"/>
<text x="974.9" y="84.9" font-size="31.0" text-anchor="middle">***</text>
<path d="M1049 116.7V107.4H1110.5V116.7" fill="none" stroke="#6d6e71" stroke-width="1.2"/>
<text x="1081.6" y="112.1" font-size="31.0" text-anchor="middle">**</text>
<path d="M1048.6 297.4V287.4H1091.7V297.4" fill="none" stroke="#6d6e71" stroke-width="1.2"/>
<path d="M1048.6 313V303.6H1071.3V313" fill="none" stroke="#6d6e71" stroke-width="1.2"/>
<text x="1072.2" y="277.2" font-size="29.5" text-anchor="middle">ns</text>
<path d="M1153.4 350.7V340.7H1215.2V350.7" fill="none" stroke="#6d6e71" stroke-width="1.2"/>
<path d="M1153.4 368V358.5H1196.5V368" fill="none" stroke="#6d6e71" stroke-width="1.2"/>
<path d="M1152.5 405V394.3H1174.4V405" fill="none" stroke="#6d6e71" stroke-width="1.2"/>
<text x="1150.8" y="332" font-size="21.5" text-anchor="start">p = 0.12</text>
<text x="1176.2" y="366" font-size="31.0" text-anchor="middle">*</text>
<text x="1126.4" y="390.3" font-size="21.5" text-anchor="start">p = 0.054</text>
<path d="M1261.5 481V471.8H1322.4V481" fill="none" stroke="#6d6e71" stroke-width="1.2"/>
<path d="M1261.5 495.3V485.3H1304.5V495.3" fill="none" stroke="#6d6e71" stroke-width="1.2"/>
<path d="M1261.5 510.2V500.4H1283.3V510.2" fill="none" stroke="#6d6e71" stroke-width="1.2"/>
<text x="1294.3" y="461.4" font-size="29.5" text-anchor="middle">ns</text>
<rect x="1160.2" y="55.1" width="19.8" height="19.8" fill="#fff" stroke="#231f20" stroke-width="1.1"/>
<text x="1187.6" y="74.9" font-size="27.2" text-anchor="start">Baseline</text>
<rect x="1160.2" y="94.2" width="19.8" height="19.8" fill="#c8c9cb" stroke="#231f20" stroke-width="1.1"/>
<text x="1187.6" y="114" font-size="27.2" text-anchor="start">THDOC</text>
<rect x="1160.2" y="133.2" width="19.8" height="19.8" fill="#939598" stroke="#231f20" stroke-width="1.1"/>
<text x="1190.2" y="153" font-size="27.2" text-anchor="start">AP</text>
<rect x="1160.2" y="172.2" width="19.8" height="19.8" fill="#636466" stroke="#231f20" stroke-width="1.1"/>
<text x="1187.6" y="192.1" font-size="27.2" text-anchor="start">Propofol</text>
<text transform="translate(1008.5 557.2) rotate(-29.5)" font-size="33.2" text-anchor="end">α4β3δ</text>
<text transform="translate(1123.5 555.3) rotate(-29.5)" font-size="33.2" text-anchor="end">α4<tspan font-size="21.6" dy="-10.4">Q246M</tspan><tspan dy="10.4">β3δ</tspan></text>
<text transform="translate(1229.5 555.6) rotate(-29.5)" font-size="33.2" text-anchor="end">α4β3<tspan font-size="21.6" dy="-10.4">S409A</tspan><tspan dy="10.4">δ</tspan></text>
<text transform="translate(1326.1 557.4) rotate(-29.5)" font-size="33.2" text-anchor="end">α4β2δ</text>
</g>
<g id="panel-c">
<text x="4.8" y="787" font-size="48.0" text-anchor="start">c</text>
<line x1="163.8" y1="1124.1" x2="163.8" y2="1150.5" stroke="#231f20" stroke-width="1.4"/>
<line x1="152.7" y1="1124.1" x2="174.9" y2="1124.1" stroke="#231f20" stroke-width="1.4"/>
<line x1="220.8" y1="1250.1" x2="220.8" y2="1258.3" stroke="#231f20" stroke-width="1.4"/>
<line x1="209.7" y1="1250.1" x2="231.9" y2="1250.1" stroke="#231f20" stroke-width="1.4"/>
<rect x="140.5" y="1150.5" width="45.8" height="183.5" fill="#fff" stroke="#231f20" stroke-width="1.4"/>
<rect x="197.2" y="1258.3" width="45.8" height="75.7" fill="#c8c9cb" stroke="#231f20" stroke-width="1.4"/>
<line x1="305.2" y1="1151.5" x2="305.2" y2="1172.7" stroke="#231f20" stroke-width="1.4"/>
<line x1="294.1" y1="1151.5" x2="316.3" y2="1151.5" stroke="#231f20" stroke-width="1.4"/>
<line x1="363" y1="1249.9" x2="363" y2="1261.2" stroke="#231f20" stroke-width="1.4"/>
<line x1="351.9" y1="1249.9" x2="374.1" y2="1249.9" stroke="#231f20" stroke-width="1.4"/>
<rect x="282.8" y="1172.7" width="45.8" height="161.3" fill="#fff" stroke="#231f20" stroke-width="1.4"/>
<rect x="339.7" y="1261.2" width="45.8" height="72.8" fill="#c8c9cb" stroke="#231f20" stroke-width="1.4"/>
<line x1="448" y1="1297.7" x2="448" y2="1305.5" stroke="#231f20" stroke-width="1.4"/>
<line x1="436.9" y1="1297.7" x2="459.1" y2="1297.7" stroke="#231f20" stroke-width="1.4"/>
<line x1="504.8" y1="1318.6" x2="504.8" y2="1321.8" stroke="#231f20" stroke-width="1.4"/>
<line x1="493.7" y1="1318.6" x2="515.9" y2="1318.6" stroke="#231f20" stroke-width="1.4"/>
<rect x="424.6" y="1305.5" width="45.8" height="28.5" fill="#fff" stroke="#231f20" stroke-width="1.4"/>
<rect x="481.7" y="1321.8" width="45.8" height="12.2" fill="#c8c9cb" stroke="#231f20" stroke-width="1.4"/>
<line x1="121.1" y1="870.8" x2="121.1" y2="1334.6" stroke="#231f20" stroke-width="1.3"/>
<line x1="114.4" y1="1334" x2="547.6" y2="1334" stroke="#231f20" stroke-width="1.3"/>
<line x1="114.4" y1="937.2" x2="121.1" y2="937.2" stroke="#231f20" stroke-width="1.2"/>
<line x1="114.4" y1="1069.5" x2="121.1" y2="1069.5" stroke="#231f20" stroke-width="1.2"/>
<line x1="114.4" y1="1201.8" x2="121.1" y2="1201.8" stroke="#231f20" stroke-width="1.2"/>
<line x1="117.4" y1="871.1" x2="121.1" y2="871.1" stroke="#231f20" stroke-width="1.2"/>
<line x1="117.4" y1="1003.4" x2="121.1" y2="1003.4" stroke="#231f20" stroke-width="1.2"/>
<line x1="117.4" y1="1135.6" x2="121.1" y2="1135.6" stroke="#231f20" stroke-width="1.2"/>
<line x1="117.4" y1="1267.9" x2="121.1" y2="1267.9" stroke="#231f20" stroke-width="1.2"/>
<text x="112.2" y="948.5" font-size="32.0" text-anchor="end">30</text>
<text x="112.2" y="1080.7" font-size="32.0" text-anchor="end">20</text>
<text x="112.2" y="1213" font-size="32.0" text-anchor="end">10</text>
<text x="112.2" y="1345.2" font-size="32.0" text-anchor="end">0</text>
<line x1="191.2" y1="1334" x2="191.2" y2="1339.2" stroke="#231f20" stroke-width="1.2"/>
<line x1="333.5" y1="1334" x2="333.5" y2="1339.2" stroke="#231f20" stroke-width="1.2"/>
<line x1="475.9" y1="1334" x2="475.9" y2="1339.2" stroke="#231f20" stroke-width="1.2"/>
<text transform="translate(55.6 1163.7) rotate(-90)" font-size="32.5">I<tspan font-size="22" dy="8.4">spont</tspan><tspan dy="-8.4" dx="-3.4"> (%)</tspan></text>
<line x1="162.7" y1="1007.8" x2="223" y2="1250.5" stroke="#231f20" stroke-width="1.2"/>
<line x1="161.6" y1="1075.2" x2="219.6" y2="1211.4" stroke="#231f20" stroke-width="1.2"/>
<line x1="164.3" y1="1150.5" x2="221.2" y2="1269" stroke="#231f20" stroke-width="1.2"/>
<line x1="161.8" y1="1169.4" x2="217.9" y2="1269" stroke="#231f20" stroke-width="1.2"/>
<line x1="160.5" y1="1177.8" x2="225" y2="1257.2" stroke="#231f20" stroke-width="1.2"/>
<line x1="158.9" y1="1180.5" x2="225" y2="1273.7" stroke="#231f20" stroke-width="1.2"/>
<line x1="161.8" y1="1216.1" x2="214.5" y2="1248.5" stroke="#231f20" stroke-width="1.2"/>
<line x1="163.8" y1="1228.5" x2="215.6" y2="1289" stroke="#231f20" stroke-width="1.2"/>
<line x1="300.6" y1="1105" x2="364.6" y2="1239" stroke="#231f20" stroke-width="1.2"/>
<line x1="306.8" y1="1115" x2="363.5" y2="1210.7" stroke="#231f20" stroke-width="1.2"/>
<line x1="304.6" y1="1139.7" x2="368.6" y2="1269.2" stroke="#231f20" stroke-width="1.2"/>
<line x1="304.6" y1="1173.8" x2="354.2" y2="1251.9" stroke="#231f20" stroke-width="1.2"/>
<line x1="304.1" y1="1193.8" x2="362.9" y2="1285.7" stroke="#231f20" stroke-width="1.2"/>
<line x1="307.3" y1="1232.3" x2="355.7" y2="1280.5" stroke="#231f20" stroke-width="1.2"/>
<line x1="312.8" y1="1249.4" x2="358" y2="1291.2" stroke="#231f20" stroke-width="1.2"/>
<line x1="446.9" y1="1266.1" x2="505.6" y2="1305.5" stroke="#231f20" stroke-width="1.2"/>
<line x1="454.7" y1="1291.3" x2="511.3" y2="1311.7" stroke="#231f20" stroke-width="1.2"/>
<line x1="450.1" y1="1303.9" x2="503.1" y2="1321.5" stroke="#231f20" stroke-width="1.2"/>
<line x1="446" y1="1306.3" x2="505.6" y2="1324.3" stroke="#231f20" stroke-width="1.2"/>
<line x1="450.4" y1="1317.8" x2="508" y2="1328.4" stroke="#231f20" stroke-width="1.2"/>
<line x1="450.9" y1="1326.7" x2="505.6" y2="1332.4" stroke="#231f20" stroke-width="1.2"/>
<line x1="445.7" y1="1328.4" x2="502.3" y2="1332.4" stroke="#231f20" stroke-width="1.2"/>
<path d="M159 1007.8L162.7 1004.5L166.4 1007.8L162.7 1011.1Z" fill="#231f20"/>
<path d="M219.3 1250.5L223 1247.2L226.7 1250.5L223 1253.8Z" fill="#231f20"/>
<path d="M157.9 1075.2L161.6 1071.9L165.3 1075.2L161.6 1078.5Z" fill="#231f20"/>
<path d="M215.9 1211.4L219.6 1208.1L223.3 1211.4L219.6 1214.7Z" fill="#231f20"/>
<path d="M160.6 1150.5L164.3 1147.2L168 1150.5L164.3 1153.8Z" fill="#231f20"/>
<path d="M217.5 1269L221.2 1265.7L224.9 1269L221.2 1272.3Z" fill="#231f20"/>
<path d="M158.1 1169.4L161.8 1166.1L165.5 1169.4L161.8 1172.7Z" fill="#231f20"/>
<path d="M214.2 1269L217.9 1265.7L221.6 1269L217.9 1272.3Z" fill="#231f20"/>
<path d="M156.8 1177.8L160.5 1174.5L164.2 1177.8L160.5 1181.1Z" fill="#231f20"/>
<path d="M221.3 1257.2L225 1253.9L228.7 1257.2L225 1260.5Z" fill="#231f20"/>
<path d="M155.2 1180.5L158.9 1177.2L162.6 1180.5L158.9 1183.8Z" fill="#231f20"/>
<path d="M221.3 1273.7L225 1270.4L228.7 1273.7L225 1277Z" fill="#231f20"/>
<path d="M158.1 1216.1L161.8 1212.8L165.5 1216.1L161.8 1219.4Z" fill="#231f20"/>
<path d="M210.8 1248.5L214.5 1245.2L218.2 1248.5L214.5 1251.8Z" fill="#231f20"/>
<path d="M160.1 1228.5L163.8 1225.2L167.5 1228.5L163.8 1231.8Z" fill="#231f20"/>
<path d="M211.9 1289L215.6 1285.7L219.3 1289L215.6 1292.3Z" fill="#231f20"/>
<path d="M296.9 1105L300.6 1101.7L304.3 1105L300.6 1108.3Z" fill="#231f20"/>
<path d="M360.9 1239L364.6 1235.7L368.3 1239L364.6 1242.3Z" fill="#231f20"/>
<path d="M303.1 1115L306.8 1111.7L310.5 1115L306.8 1118.3Z" fill="#231f20"/>
<path d="M359.8 1210.7L363.5 1207.4L367.2 1210.7L363.5 1214Z" fill="#231f20"/>
<path d="M300.9 1139.7L304.6 1136.4L308.3 1139.7L304.6 1143Z" fill="#231f20"/>
<path d="M364.9 1269.2L368.6 1265.9L372.3 1269.2L368.6 1272.5Z" fill="#231f20"/>
<path d="M300.9 1173.8L304.6 1170.5L308.3 1173.8L304.6 1177.1Z" fill="#231f20"/>
<path d="M350.5 1251.9L354.2 1248.6L357.9 1251.9L354.2 1255.2Z" fill="#231f20"/>
<path d="M300.4 1193.8L304.1 1190.5L307.8 1193.8L304.1 1197.1Z" fill="#231f20"/>
<path d="M359.2 1285.7L362.9 1282.4L366.6 1285.7L362.9 1289Z" fill="#231f20"/>
<path d="M303.6 1232.3L307.3 1229L311 1232.3L307.3 1235.6Z" fill="#231f20"/>
<path d="M352 1280.5L355.7 1277.2L359.4 1280.5L355.7 1283.8Z" fill="#231f20"/>
<path d="M309.1 1249.4L312.8 1246.1L316.5 1249.4L312.8 1252.7Z" fill="#231f20"/>
<path d="M354.3 1291.2L358 1287.9L361.7 1291.2L358 1294.5Z" fill="#231f20"/>
<path d="M443.2 1266.1L446.9 1262.8L450.6 1266.1L446.9 1269.4Z" fill="#231f20"/>
<path d="M501.9 1305.5L505.6 1302.2L509.3 1305.5L505.6 1308.8Z" fill="#231f20"/>
<path d="M451 1291.3L454.7 1288L458.4 1291.3L454.7 1294.6Z" fill="#231f20"/>
<path d="M507.6 1311.7L511.3 1308.4L515 1311.7L511.3 1315Z" fill="#231f20"/>
<path d="M446.4 1303.9L450.1 1300.6L453.8 1303.9L450.1 1307.2Z" fill="#231f20"/>
<path d="M499.4 1321.5L503.1 1318.2L506.8 1321.5L503.1 1324.8Z" fill="#231f20"/>
<path d="M442.3 1306.3L446 1303L449.7 1306.3L446 1309.6Z" fill="#231f20"/>
<path d="M501.9 1324.3L505.6 1321L509.3 1324.3L505.6 1327.6Z" fill="#231f20"/>
<path d="M446.7 1317.8L450.4 1314.5L454.1 1317.8L450.4 1321.1Z" fill="#231f20"/>
<path d="M504.3 1328.4L508 1325.1L511.7 1328.4L508 1331.7Z" fill="#231f20"/>
<path d="M447.2 1326.7L450.9 1323.4L454.6 1326.7L450.9 1330Z" fill="#231f20"/>
<path d="M501.9 1332.4L505.6 1329.1L509.3 1332.4L505.6 1335.7Z" fill="#231f20"/>
<path d="M442 1328.4L445.7 1325.1L449.4 1328.4L445.7 1331.7Z" fill="#231f20"/>
<path d="M498.6 1332.4L502.3 1329.1L506 1332.4L502.3 1335.7Z" fill="#231f20"/>
<path d="M164.1 970.5V952.7H220.6V970.5" fill="none" stroke="#6d6e71" stroke-width="1.2"/>
<text x="192.7" y="958.6" font-size="31.0" text-anchor="middle">**</text>
<path d="M305.4 1051.8V1033.6H362.4V1051.8" fill="none" stroke="#6d6e71" stroke-width="1.2"/>
<text x="337" y="1040.8" font-size="31.0" text-anchor="middle">***</text>
<path d="M448.5 1201.2V1183.4H504.8V1201.2" fill="none" stroke="#6d6e71" stroke-width="1.2"/>
<text x="477.9" y="1187" font-size="31.0" text-anchor="middle">*</text>
<rect x="404" y="886" width="20" height="19.4" fill="#fff" stroke="#231f20" stroke-width="1.1"/>
<rect x="404" y="923.3" width="20" height="19.4" fill="#c8c9cb" stroke="#231f20" stroke-width="1.1"/>
<text x="435" y="904" font-size="26.9" text-anchor="start">Baseline</text>
<text x="435" y="941.2" font-size="26.9" text-anchor="start">PS</text>
<text transform="translate(221.2 1365.2) rotate(-29.5)" font-size="33.2" text-anchor="end">α4β3δ</text>
<text transform="translate(373.8 1363.6) rotate(-29.5)" font-size="33.2" text-anchor="end">α4<tspan font-size="21.6" dy="-10.4">Q246M</tspan><tspan dy="10.4">β3δ</tspan></text>
<text transform="translate(512.8 1362.6) rotate(-29.5)" font-size="33.2" text-anchor="end">α4β3<tspan font-size="21.6" dy="-10.4">S409A</tspan><tspan dy="10.4">δ</tspan></text>
<text x="293.5" y="1507.4" font-size="29.3" text-anchor="middle">10 µM</text>
<text x="293" y="1542.3" font-size="29.3" text-anchor="middle">PS</text>
<rect x="257.2" y="1555.5" width="70.8" height="4.6" fill="#231f20"/>
<path d="M113.8 1668.3L114.3 1665.2L114.8 1668.6L115.3 1670.4L115.8 1665.4L116.3 1670.3L116.8 1669.2L117.3 1672.4L117.8 1671.8L118.3 1670.8L118.8 1664.6L119.3 1667.6L119.8 1670.7L120.3 1671L120.8 1673L121.3 1673.8L121.8 1672.1L122.3 1672.5L122.8 1672.3L123.3 1668.6L123.8 1673L124.3 1672.4L124.8 1671.9L125.3 1671.1L125.8 1670.7L126.3 1670.2L126.8 1668L127.3 1669.4L127.8 1669.4L128.3 1669.1L128.8 1669.1L129.3 1666.6L129.8 1663.7L130.3 1668.5L130.8 1668L131.3 1669.3L131.8 1670.4L132.3 1670.6L132.8 1671.1L133.3 1668.1L133.8 1669.4L134.3 1664.4L134.8 1668.7L135.3 1663.2L135.8 1670.6L136.3 1668.6L136.8 1669.6L137.3 1667.5L137.8 1670.1L138.3 1670.2L138.8 1669.9L139.3 1670.2L139.8 1670.5L140.3 1667.5L140.8 1663.6L141.3 1666.5L141.8 1671.1L142.3 1671L142.8 1668.9L143.3 1670.6L143.8 1668.9L144.3 1666.8L144.8 1663.1L145.3 1670.3L145.8 1668.5L146.3 1665.5L146.8 1665.3L147.3 1664.1L147.8 1672L148.3 1667.7L148.8 1667.9L149.3 1671.1L149.8 1673.5L150.3 1672.6L150.8 1669.6L151.3 1666.4L151.8 1665.5L152.3 1667.1L152.8 1669.7L153.3 1671.8L153.8 1666.2L154.3 1671L154.8 1670.3L155.3 1670.2L155.8 1669.3L156.3 1668.8L156.8 1671.3L157.3 1666L157.8 1666.1L158.3 1668.1L158.8 1672.2L159.3 1666.7L159.8 1672.1L160.3 1673.3L160.8 1672.9L161.3 1673.4L161.8 1668.6L162.3 1671.7L162.8 1671.8L163.3 1672.9L163.8 1667.5L164.3 1671L164.8 1664.7L165.3 1672L165.8 1669.6L166.3 1671.3L166.8 1671.3L167.3 1672.3L167.8 1670.6L168.3 1671.9L168.8 1669L169.3 1663.8L169.8 1667.2L170.3 1665.8L170.8 1664.9L171.3 1669.3L171.8 1666L172.3 1670.6L172.8 1664.1L173.3 1665.8L173.8 1666.6L174.3 1665.9L174.8 1668.9L175.3 1669.8L175.8 1669.2L176.3 1668.4L176.8 1670.1L177.3 1667.6L177.8 1669.8L178.3 1669.9L178.8 1669.5L179.3 1666.5L179.8 1664.5L180.3 1666.6L180.8 1666.7L181.3 1670.4L181.8 1670.5L182.3 1671.2L182.8 1670.9L183.3 1672.3L183.8 1669.9L184.3 1668L184.8 1668.2L185.3 1672.9L185.8 1671.1L186.3 1672.8L186.8 1668.9L187.3 1672.4L187.8 1667.5L188.3 1670.2L188.8 1669.4L189.3 1666.1L189.8 1669.8L190.3 1668.8L190.8 1668.8L191.3 1671.4L191.8 1666.2L192.3 1671.5L192.8 1670L193.3 1665.8L193.8 1671.6L194.3 1671.3L194.8 1671.4L195.3 1666.9L195.8 1669.4L196.3 1664.7L196.8 1670.4L197.3 1669.8L197.8 1670.4L198.3 1664.5L198.8 1666.4L199.3 1669.2L199.8 1669.7L200.3 1672.3L200.8 1673L201.3 1673.7L201.8 1667.4L202.3 1673.9L202.8 1669.6L203.3 1667.7L203.8 1669.4L204.3 1674L204.8 1669.4L205.3 1673.7L205.8 1666.4L206.3 1671.5L206.8 1673.1L207.3 1664.6L207.8 1666.9L208.3 1665.3L208.8 1669.3L209.3 1662.8L209.8 1666.6L210.3 1666.3L210.8 1666.5L211.3 1666.2L211.8 1670.1L212.3 1662.6L212.8 1669.9L213.3 1664.5L213.8 1670.4L214.3 1663.7L214.8 1670L215.3 1667.4L215.8 1665.5L216.3 1667.4L216.8 1670.5L217.3 1670.3L217.8 1672.9L218.3 1671.5L218.8 1672.5L219.3 1668.5L219.8 1668.1L220.3 1670.1L220.8 1670.1L221.3 1669.3L221.8 1670.3L222.3 1664.9L222.8 1670.6L223.3 1669.3L223.8 1662.7L224.3 1665.4L224.8 1666.7L225.3 1668.8L225.8 1665.4L226.3 1670.4L226.8 1666.3L227.3 1666.6L227.8 1670.2L228.3 1666.9L228.8 1663.6L229.3 1669.6L229.8 1671L230.3 1664.1L230.8 1666.8L231.3 1669.3L231.8 1669.9L232.3 1664.7L232.8 1669.6L233.3 1669.9L233.8 1668.9L234.3 1669.2L234.8 1670.7L235.3 1673.3L235.8 1670.6L236.3 1672.3L236.8 1664.8L237.3 1675.1L237.8 1670.2L238.3 1672.2L238.8 1666.1L239.3 1674.5L239.8 1672L240.3 1674.8L240.8 1671.7L241.3 1672.8L241.8 1675.1L242.3 1673.8L242.8 1673.1L243.3 1673.3L243.8 1669.4L244.3 1670.1L244.8 1671.1L245.3 1670.8L245.8 1668.1L246.3 1665.7L246.8 1670.3L247.3 1667.3L247.8 1662.8L248.3 1669.7L248.8 1663.2L249.3 1669.1L249.8 1669.2L250.3 1666.1L250.8 1669.3L251.3 1665.2L251.8 1671.7L252.3 1669.4L252.8 1667.7L253.3 1673.6L253.8 1668.2L254.3 1674.8L254.8 1672.8L255.3 1670.7L255.8 1662.6L256.3 1665.2L256.8 1667.1L257.3 1660.5L257.8 1659.2L258.3 1662.4L258.8 1654.4L259.3 1652.4L259.8 1647.8L260.3 1637.5L260.8 1638.5L261.3 1634.2L261.8 1626.7L262.3 1621L262.8 1619.9L263.3 1615.3L263.8 1610.3L264.3 1601.5L264.8 1602L265.3 1593.9L265.8 1591.1L266.3 1589.1L266.8 1581.6L267.3 1585.3L267.8 1586.6L268.3 1587.6L268.8 1587.6L269.3 1585.2L269.8 1584.5L270.3 1582.6L270.8 1584.9L271.3 1582.1L271.8 1583.4L272.3 1579.3L272.8 1578.4L273.3 1580.6L273.8 1575.6L274.3 1574.3L274.8 1574L275.3 1577L275.8 1576.9L276.3 1574.4L276.8 1574.2L277.3 1573.4L277.8 1574.1L278.3 1574.9L278.8 1573L279.3 1572.3L279.8 1572L280.3 1574L280.8 1575.7L281.3 1577.2L281.8 1576.4L282.3 1576.6L282.8 1576L283.3 1576.3L283.8 1575.6L284.3 1576.5L284.8 1575.8L285.3 1571.5L285.8 1574.4L286.3 1573.5L286.8 1576.7L287.3 1576.5L287.8 1574.7L288.3 1575.7L288.8 1574L289.3 1575.8L289.8 1577.9L290.3 1575.8L290.8 1576.4L291.3 1572.6L291.8 1578.8L292.3 1574.4L292.8 1575.7L293.3 1579.9L293.8 1578.2L294.3 1578L294.8 1575.1L295.3 1580.2L295.8 1579.9L296.3 1579.3L296.8 1577.2L297.3 1577.1L297.8 1578.3L298.3 1577.1L298.8 1574.4L299.3 1577.6L299.8 1577.9L300.3 1579.8L300.8 1577.6L301.3 1578L301.8 1579.5L302.3 1577.5L302.8 1578.1L303.3 1579.8L303.8 1576.7L304.3 1577.7L304.8 1579.3L305.3 1579L305.8 1578L306.3 1577.1L306.8 1577.8L307.3 1577.2L307.8 1579.1L308.3 1577.4L308.8 1579.4L309.3 1574.1L309.8 1576.2L310.3 1574.5L310.8 1577.3L311.3 1574.7L311.8 1577.9L312.3 1578L312.8 1577.7L313.3 1572.6L313.8 1574.4L314.3 1576.8L314.8 1575.1L315.3 1577.7L315.8 1579.8L316.3 1577.6L316.8 1581.1L317.3 1580L317.8 1580.1L318.3 1581.8L318.8 1576.9L319.3 1577.4L319.8 1581.8L320.3 1579.9L320.8 1581.9L321.3 1579.2L321.8 1581.4L322.3 1581.8L322.8 1581.2L323.3 1581.7L323.8 1580.2L324.3 1580.3L324.8 1580.4L325.3 1578L325.8 1581.8L326.3 1581.7L326.8 1585.2L327.3 1579.9L327.8 1580L328.3 1583.8L328.8 1582.1L329.3 1584.2L329.8 1590.6L330.3 1591.5L330.8 1586.3L331.3 1589.4L331.8 1587.6L332.3 1590.2L332.8 1588.1L333.3 1588.6L333.8 1589.8L334.3 1587.9L334.8 1596.7L335.3 1591.6L335.8 1591.1L336.3 1597.3L336.8 1597.8L337.3 1601.4L337.8 1597.3L338.3 1604.4L338.8 1602.6L339.3 1605.4L339.8 1608.9L340.3 1611.6L340.8 1610.3L341.3 1613.3L341.8 1616.1L342.3 1617.3L342.8 1611.9L343.3 1616.5L343.8 1620.4L344.3 1622.1L344.8 1617.5L345.3 1620.3L345.8 1624.9L346.3 1619.9L346.8 1627.8L347.3 1628.3L347.8 1631.4L348.3 1633.5L348.8 1634.8L349.3 1629.7L349.8 1634.8L350.3 1633.4L350.8 1640.3L351.3 1637.6L351.8 1634.1L352.3 1640.2L352.8 1638.3L353.3 1638L353.8 1637.7L354.3 1648.1L354.8 1647.1L355.3 1644.9L355.8 1648.2L356.3 1652.1L356.8 1659.3L357.3 1661.9L357.8 1663L358.3 1663.6L358.8 1665.5L359.3 1665.2L359.8 1660.9L360.3 1661.2L360.8 1666.4L361.3 1670.1L361.8 1671.3L362.3 1668L362.8 1673.3L363.3 1668.8L363.8 1672.4L364.3 1671.1L364.8 1673.8L365.3 1676.8L365.8 1675.8L366.3 1678.2L366.8 1674.1L367.3 1678.5L367.8 1682.4L368.3 1682L368.8 1684.5L369.3 1684.9L369.8 1685.5L370.3 1688.1L370.8 1683.5L371.3 1682.1L371.8 1687.2L372.3 1693.6L372.8 1693.7L373.3 1694.3L373.8 1689.9L374.3 1696.6L374.8 1697.7L375.3 1694.4L375.8 1699.3L376.3 1692.9L376.8 1700L377.3 1699.4L377.8 1701.9L378.3 1702.7L378.8 1703.4L379.3 1702.1L379.8 1697.7L380.3 1705.1L380.8 1704.2L381.3 1706.3L381.8 1706.1L382.3 1706.6L382.8 1705.9L383.3 1700.4L383.8 1708L384.3 1704.7L384.8 1707.9L385.3 1704L385.8 1704L386.3 1706.2L386.8 1709.1L387.3 1704.8L387.8 1711.5L388.3 1706.3L388.8 1701.6L389.3 1712.4L389.8 1709.1L390.3 1712.7L390.8 1707.4L391.3 1711.2L391.8 1705.8L392.3 1709L392.8 1705.9L393.3 1712L393.8 1710.2L394.3 1709.7L394.8 1713.3L395.3 1708.7L395.8 1714.4L396.3 1708.4L396.8 1709.7L397.3 1715.9L397.8 1709.3L398.3 1712.8L398.8 1710.4L399.3 1710.8L399.8 1712.8L400.3 1713.4L400.8 1710.2L401.3 1715.4L401.8 1710L402.3 1712.6L402.8 1709.1L403.3 1712.1L403.8 1710.2L404.3 1706.5L404.8 1705.2L405.3 1707.4L405.8 1709.8L406.3 1712.5L406.8 1709.5L407.3 1713.2L407.8 1712.8L408.3 1709.1L408.8 1709.5L409.3 1713.2L409.8 1713.9L410.3 1707.2L410.8 1707.6L411.3 1708.1L411.8 1712.3L412.3 1716.5L412.8 1711L413.3 1715.8L413.8 1717.5L414.3 1713.3L414.8 1718.4L415.3 1718.2L415.8 1713.9L416.3 1715L416.8 1716L417.3 1714.7L417.8 1712.8L418.3 1712.8L418.8 1717.2L419.3 1715.6L419.8 1717.7L420.3 1717.4L420.8 1712.3L421.3 1714.6L421.8 1714.4L422.3 1718.3L422.8 1715L423.3 1719.8L423.8 1716.7L424.3 1715.2L424.8 1718.1L425.3 1720.9L425.8 1718.3L426.3 1721L426.8 1720.3L427.3 1719.8L427.8 1718.9L428.3 1717.6L428.8 1716.7L429.3 1712.9L429.8 1715.6L430.3 1709.5L430.8 1717L431.3 1712.8L431.8 1716.8L432.3 1718.9L432.8 1719.1L433.3 1720.2L433.8 1716.5L434.3 1719.5L434.8 1717.7L435.3 1720.9L435.8 1721.2L436.3 1712.9L436.8 1718.7L437.3 1714.6L437.8 1717.8L438.3 1713.2L438.8 1718.5L439.3 1719.1L439.8 1717.6L440.3 1711.4L440.8 1715.8L441.3 1716.8L441.8 1715.7L442.3 1711.7L442.8 1710.6L443.3 1710.6L443.8 1715.3L444.3 1715.5L444.8 1714.5L445.3 1708.4L445.8 1714.2L446.3 1714.6L446.8 1707.1L447.3 1706.4L447.8 1707.6L448.3 1716.2L448.8 1704.2L449.3 1709.5L449.8 1711.1L450.3 1706.9L450.8 1712.8L451.3 1711.7L451.8 1707.9L452.3 1710.5L452.8 1712.8L453.3 1712.6L453.8 1706.1L454.3 1710.5L454.8 1708.8L455.3 1711.6L455.8 1705.8L456.3 1711L456.8 1711.2L457.3 1707.4L457.8 1706.1L458.3 1707.7L458.8 1710.5L459.3 1705.3L459.8 1711.3L460.3 1708.5L460.8 1711.5L461.3 1711.4L461.8 1704L462.3 1709.8L462.8 1703L463.3 1708.9L463.8 1704.2L464.3 1707.1L464.8 1700.2L465.3 1706.1L465.8 1698.2L466.3 1702.4L466.8 1699.9L467.3 1700.1L467.8 1701.1L468.3 1708.2L468.8 1706.7L469.3 1708.9L469.8 1709.1L470.3 1704.5L470.8 1704.1L471.3 1708.1L471.8 1704.7L472.3 1704L472.8 1707.1L473.3 1708.8L473.8 1702.6L474.3 1703.3L474.8 1706.2L475.3 1706.9L475.8 1706.5L476.3 1706.6L476.8 1705.7L477.3 1707.1L477.8 1705.9L478.3 1699.3L478.8 1705.6L479.3 1703.5L479.8 1702.7L480.3 1701.5L480.8 1702.5L481.3 1703.6L481.8 1698.1L482.3 1697.3L482.8 1699.2L483.3 1703.5L483.8 1697.7L484.3 1702.1L484.8 1700L485.3 1698.9L485.8 1703.9L486.3 1700.6L486.8 1701L487.3 1701L487.8 1698.3L488.3 1701.3L488.8 1701.1L489.3 1699.5L489.8 1695.5L490.3 1701L490.8 1697.5L491.3 1695.4L491.8 1694.3L492.3 1700L492.8 1695L493.3 1694L493.8 1697.6L494.3 1697.1L494.8 1694.7L495.3 1693.6L495.8 1692.1L496.3 1691.5L496.8 1699.5L497.3 1693.6L497.8 1699.6L498.3 1699L498.8 1698.2L499.3 1694.3L499.8 1695.8L500.3 1698.3L500.8 1690.8L501.3 1691.9L501.8 1695.8L502.3 1695.4L502.8 1694.5L503.3 1696L503.8 1692L504.3 1695.6L504.8 1696.5L505.3 1695.5L505.8 1694.6L506.3 1695.3L506.8 1691.7L507.3 1696.3L507.8 1696.5L508.3 1691.3L508.8 1694.5L509.3 1688.1L509.8 1696.2L510.3 1691.4L510.8 1689.6L511.3 1694.2L511.8 1686.7L512.3 1685.6L512.8 1690.5L513.3 1685.6L513.8 1688.2L514.3 1691.5L514.8 1688.9L515.3 1687.3L515.8 1686.4L516.3 1688.6L516.8 1686.6L517.3 1690.1L517.8 1682.8L518.3 1686L518.8 1688.2L519.3 1691.4L519.8 1689L520.3 1693.8L520.8 1694.7L521.3 1690.8L521.8 1694L522.3 1692.3L522.8 1695.9L523.3 1695.2L523.8 1694.6L524.3 1695.1L524.8 1693L525.3 1695.8L525.8 1695.1L526.3 1694.7L526.8 1695.6L527.3 1689.5L527.8 1695.3L528.3 1690.8L528.8 1695.2L529.3 1692.2L529.8 1692L530.3 1687.5L530.8 1693.8L531.3 1691.2L531.8 1692.5L532.3 1691.3L532.8 1688.2L533.3 1689.7L533.8 1686.6L534.3 1686.5L534.8 1687.1L535.3 1688.1L535.8 1685.7L536.3 1686.6L536.8 1688.5L537.3 1688.3L537.8 1683.5L538.3 1683.6L538.8 1680.6L539.3 1686.7L539.8 1679.7L540.3 1685.8L540.8 1679.1L541.3 1682.1L541.8 1685L542.3 1684.6L542.8 1683.8L543.3 1677.4L543.8 1684.3L544.3 1682L544.8 1683.2L545.3 1683L545.8 1676.2L546.3 1680L546.8 1679.5L547.3 1677.2L547.8 1682.3L548.3 1681.4L548.8 1678.6L549.3 1685.5L549.8 1685.4L550.3 1684.7L550.8 1682.6L551.3 1682.3L551.8 1677.5L552.3 1684.9L552.8 1678.4L553.3 1682.7L553.8 1681.1L554.3 1679.4L554.8 1684.8L555.3 1677.7L555.8 1680.3L556.3 1682L556.8 1684.7L557.3 1681.6L557.8 1679.8L558.3 1677L558.8 1682L559.3 1675L559.8 1673.8L560.3 1673.2L560.8 1674.7L561.3 1675.2L561.8 1671.7L562.3 1674.4L562.8 1673.6L563.3 1673.7L563.8 1678L564.3 1670.8L564.8 1678.1L565.3 1671.2L565.8 1675.9L566.3 1677.9L566.8 1676.2L567.3 1672.5L567.8 1676.5L568.3 1675.2L568.8 1676L569.3 1671.5L569.8 1674.5L570.3 1677L570.8 1677.2L571.3 1673.8L571.8 1675.6L572.3 1675.6L572.8 1676.4L573.3 1671.2L573.8 1672.9L574.3 1673L574.8 1670.6L575.3 1675L575.8 1673.9L576.3 1672.4L576.8 1673.3L577.3 1675.1L577.8 1677.5L578.3 1680.1L578.8 1672.4L579.3 1671.7L579.8 1673.1L580.3 1678.7L580.8 1678.4L581.3 1670.6L581.8 1671.1L582.3 1671.1L582.8 1670.7L583.3 1672.5L583.8 1672.7L584.3 1673.9L584.8 1676.6L585.3 1678.9L585.8 1678L586.3 1676.9L586.8 1675.4L587.3 1672.2L587.8 1674.4L588.3 1674.3L588.8 1679.2L589.3 1673.7L589.8 1676.8L590.3 1676.7L590.8 1672.9L591.3 1679.3L591.8 1672.6L592.3 1678.9L592.8 1679.3L593.3 1679.2L593.8 1672.7L594.3 1675.4L594.8 1672.7L595.3 1679.5L595.8 1677.7L596.3 1680.7L596.8 1675.9L597.3 1675.8L597.8 1682.6L598.3 1682.6L598.8 1680.9L599.3 1682.8L599.8 1682.8L600.3 1681.5L600.8 1682.8L601.3 1682.5L601.8 1681.8L602.3 1679L602.8 1683.4L603.3 1683L603.8 1683.7L604.3 1681.8L604.8 1681.9L605.3 1684L605.8 1683.2L606.3 1684.2L606.8 1680.9L607.3 1680.6L607.8 1685.7L608.3 1686L608.8 1681.9L609.3 1682.7L609.8 1686.6L610.3 1686.5L610.8 1681.1L611.3 1680.5L611.8 1681.6L612.3 1687.4L612.8 1687L613.3 1681.2L613.8 1687L614.3 1684.5L614.8 1687.6L615.3 1682.4L615.8 1680.6L616.3 1682.7L616.8 1684.2L617.3 1680.7L617.8 1677.6L618.3 1682.3L618.8 1679.7L619.3 1681.7L619.8 1677.9L620.3 1682.4L620.8 1674.6L621.3 1682.7L621.8 1676.3L622.3 1681.7L622.8 1677.3L623.3 1681.6L623.8 1682.4L624.3 1680.8L624.8 1674.7L625.3 1681.8L625.8 1681.4L626.3 1679.1L626.8 1680.5L627.3 1677.6L627.8 1679.8L628.3 1676.8L628.8 1680.2L629.3 1676.2L629.8 1677.5L630.3 1678.2L630.8 1683.3L631.3 1680.2L631.8 1683.3L632.3 1683.3L632.8 1680.1L633.3 1676L633.8 1681.2L634.3 1675.5L634.8 1674.1L635.3 1675.5L635.8 1679.1L636.3 1676.7L636.8 1675.7L637.3 1674.6L637.8 1679.7L638.3 1678.6L638.8 1673.8L639.3 1680.1L639.8 1677.6L640.3 1674.6L640.8 1674.3L641.3 1674.7L641.8 1680.7L642.3 1676.8L642.8 1676L643.3 1675.5L643.8 1676.5L644.3 1676.6L644.8 1676.3L645.3 1672.4L645.8 1675.4L646.3 1677.8L646.8 1677.8L647.3 1672.5L647.8 1679.2L648.3 1678.5L648.8 1671.7L649.3 1678.1L649.8 1678L650.3 1676.6L650.8 1679L651.3 1676.1L651.8 1676.8L652.3 1675.2L652.8 1679.5L653.3 1674.8L653.8 1676.1L654.3 1679.4L654.8 1675.3L655.3 1677.9L655.8 1675.1L656.3 1677.7L656.8 1676.3L657.3 1676.2L657.8 1673.2L658.3 1668.7L658.8 1674.1L659.3 1676.6L659.8 1673.6L660.3 1672L660.8 1673.5L661.3 1676.2L661.8 1678.2L662.3 1676.4L662.8 1680.3L663.3 1680.1L663.8 1678.6L664.3 1678L664.8 1676.3L665.3 1679.2L665.8 1677.1L666.3 1679.2L666.8 1675.2L667.3 1678.7L667.8 1677.2L668.3 1676.2L668.8 1671.7L669.3 1674L669.8 1675.5L670.3 1675.7L670.8 1677.5L671.3 1677.4L671.8 1677.2L672.3 1673.4L672.8 1675L673.3 1675.1L673.8 1673.1L674.3 1671.8L674.8 1674.8L675.3 1672.6L675.8 1668.9L676.3 1676.2L676.8 1675.2L677.3 1669.1L677.8 1668.9L678.3 1676.2L678.8 1674.5L679.3 1675.9L679.8 1675.3L680.3 1675.6L680.8 1670.5L681.3 1675.8L681.8 1676.5L682.3 1673.8L682.8 1671.3L683.3 1674.1L683.3 1697.7L682.8 1697.6L682.3 1693.5L681.8 1697.9L681.3 1692.3L680.8 1694.9L680.3 1695.5L679.8 1693.6L679.3 1691.6L678.8 1691.4L678.3 1690.9L677.8 1694.8L677.3 1691.6L676.8 1698.3L676.3 1693.8L675.8 1696.3L675.3 1692.6L674.8 1696.2L674.3 1700.6L673.8 1693.5L673.3 1699.2L672.8 1693.7L672.3 1693.9L671.8 1694.7L671.3 1696.2L670.8 1693.8L670.3 1696.2L669.8 1693.3L669.3 1691.6L668.8 1698.9L668.3 1691.7L667.8 1693.1L667.3 1692L666.8 1693.1L666.3 1693.8L665.8 1693.4L665.3 1692.4L664.8 1695.6L664.3 1698.6L663.8 1701.2L663.3 1696.6L662.8 1703.1L662.3 1699.9L661.8 1700.6L661.3 1696.2L660.8 1699.1L660.3 1697.4L659.8 1697.1L659.3 1695.1L658.8 1694.2L658.3 1696L657.8 1701.3L657.3 1695.7L656.8 1695L656.3 1700.7L655.8 1697.6L655.3 1699.1L654.8 1697L654.3 1703.2L653.8 1695.2L653.3 1695.2L652.8 1700.3L652.3 1696.1L651.8 1695.8L651.3 1698.2L650.8 1693.6L650.3 1697.2L649.8 1700.8L649.3 1697.2L648.8 1696.3L648.3 1693L647.8 1700.7L647.3 1694.6L646.8 1701.3L646.3 1694.7L645.8 1693.4L645.3 1699.5L644.8 1697.3L644.3 1695.8L643.8 1702.7L643.3 1701.4L642.8 1698.4L642.3 1702.8L641.8 1697.3L641.3 1697.7L640.8 1703.7L640.3 1701.7L639.8 1696.1L639.3 1698.6L638.8 1702.8L638.3 1695L637.8 1698L637.3 1695.8L636.8 1698.8L636.3 1699L635.8 1698.6L635.3 1700.4L634.8 1702.5L634.3 1697.8L633.8 1703.8L633.3 1698.6L632.8 1701.5L632.3 1701.1L631.8 1701.3L631.3 1704.6L630.8 1702.7L630.3 1704.8L629.8 1699.5L629.3 1705.4L628.8 1702.3L628.3 1706.9L627.8 1703.9L627.3 1704.8L626.8 1699.5L626.3 1704.8L625.8 1703.6L625.3 1704.2L624.8 1705.3L624.3 1705.5L623.8 1700.7L623.3 1700.1L622.8 1702.1L622.3 1704.1L621.8 1699.5L621.3 1699.8L620.8 1704.9L620.3 1697.7L619.8 1698.2L619.3 1700.3L618.8 1705.4L618.3 1705.8L617.8 1702.2L617.3 1704.7L616.8 1702.6L616.3 1701.4L615.8 1700.6L615.3 1700.5L614.8 1700.3L614.3 1701L613.8 1700.3L613.3 1701.4L612.8 1707.3L612.3 1700.2L611.8 1701.3L611.3 1706.3L610.8 1701.7L610.3 1706.7L609.8 1700.4L609.3 1699.9L608.8 1703.9L608.3 1699.9L607.8 1700.8L607.3 1701.5L606.8 1707.2L606.3 1707.2L605.8 1702.7L605.3 1700.7L604.8 1700.1L604.3 1702.3L603.8 1701.4L603.3 1704.6L602.8 1697.8L602.3 1696.2L601.8 1696.7L601.3 1695.6L600.8 1698.5L600.3 1699.5L599.8 1698.6L599.3 1694.6L598.8 1701.1L598.3 1696.8L597.8 1698.4L597.3 1696.3L596.8 1701L596.3 1695L595.8 1696.5L595.3 1700.7L594.8 1704.3L594.3 1701.8L593.8 1703L593.3 1702.4L592.8 1698.6L592.3 1699.4L591.8 1696.5L591.3 1699.4L590.8 1696.7L590.3 1700.2L589.8 1702.5L589.3 1697.6L588.8 1700L588.3 1698L587.8 1700.6L587.3 1695.1L586.8 1691.8L586.3 1691.7L585.8 1697.2L585.3 1694.9L584.8 1697.8L584.3 1700.1L583.8 1699.4L583.3 1699.4L582.8 1696.7L582.3 1696L581.8 1694.4L581.3 1694.8L580.8 1695.5L580.3 1700.9L579.8 1697.3L579.3 1702.3L578.8 1703.4L578.3 1697.3L577.8 1704L577.3 1700.6L576.8 1699.1L576.3 1702.2L575.8 1696.4L575.3 1703.4L574.8 1702.9L574.3 1698.4L573.8 1700L573.3 1702.1L572.8 1697.4L572.3 1694.5L571.8 1696.2L571.3 1694L570.8 1697.9L570.3 1697.6L569.8 1694.1L569.3 1699.2L568.8 1701.9L568.3 1700.1L567.8 1693.8L567.3 1696L566.8 1694.3L566.3 1698.1L565.8 1699.4L565.3 1694.4L564.8 1694.2L564.3 1699.2L563.8 1699.6L563.3 1699.4L562.8 1702.5L562.3 1705.5L561.8 1700L561.3 1702.4L560.8 1702.5L560.3 1699.9L559.8 1697.5L559.3 1697.3L558.8 1698.6L558.3 1697L557.8 1705L557.3 1700.9L556.8 1700.1L556.3 1705.7L555.8 1700.5L555.3 1701L554.8 1700.1L554.3 1704.2L553.8 1700.8L553.3 1698.9L552.8 1703.1L552.3 1697.8L551.8 1703.8L551.3 1702.6L550.8 1699.7L550.3 1704.4L549.8 1699.4L549.3 1699L548.8 1699.2L548.3 1705.8L547.8 1700.6L547.3 1708.7L546.8 1704.5L546.3 1709.1L545.8 1701.8L545.3 1700.5L544.8 1709.1L544.3 1707.5L543.8 1709.4L543.3 1701.3L542.8 1701.7L542.3 1701.8L541.8 1706.4L541.3 1702.3L540.8 1707.2L540.3 1704.7L539.8 1707L539.3 1706.1L538.8 1701.2L538.3 1701.3L537.8 1701.2L537.3 1701.5L536.8 1702.2L536.3 1703L535.8 1705.4L535.3 1711.8L534.8 1713.3L534.3 1706.7L533.8 1707.6L533.3 1707.6L532.8 1710.4L532.3 1712L531.8 1707.2L531.3 1712.3L530.8 1706.9L530.3 1706.3L529.8 1709.3L529.3 1710.1L528.8 1705.6L528.3 1709L527.8 1706.8L527.3 1709L526.8 1711.8L526.3 1706.1L525.8 1712.4L525.3 1707.1L524.8 1712L524.3 1707.6L523.8 1714.4L523.3 1711.1L522.8 1712.5L522.3 1712.7L521.8 1712.5L521.3 1717.1L520.8 1719.1L520.3 1713.8L519.8 1715.3L519.3 1716.4L518.8 1711.8L518.3 1717.1L517.8 1718L517.3 1716.9L516.8 1713.6L516.3 1711.6L515.8 1710.3L515.3 1715.7L514.8 1715.4L514.3 1710.8L513.8 1716L513.3 1717L512.8 1711.7L512.3 1712L511.8 1717.4L511.3 1713.8L510.8 1718.4L510.3 1716.4L509.8 1721.6L509.3 1717.3L508.8 1720.5L508.3 1713.8L507.8 1720.9L507.3 1713.4L506.8 1717.8L506.3 1715.6L505.8 1715.9L505.3 1717.6L504.8 1713.5L504.3 1716.3L503.8 1715.7L503.3 1719.6L502.8 1714.4L502.3 1720.9L501.8 1717.6L501.3 1715.6L500.8 1713.4L500.3 1717L499.8 1716L499.3 1713L498.8 1712.6L498.3 1714.1L497.8 1714.7L497.3 1712.8L496.8 1712.5L496.3 1712.6L495.8 1721.5L495.3 1720.8L494.8 1720.9L494.3 1716L493.8 1718.5L493.3 1721.8L492.8 1723.7L492.3 1720.7L491.8 1720.2L491.3 1721.7L490.8 1714.7L490.3 1713.2L489.8 1716.2L489.3 1713.6L488.8 1717.9L488.3 1719.5L487.8 1720.7L487.3 1713.8L486.8 1721.9L486.3 1718.9L485.8 1715.4L485.3 1722.4L484.8 1715.8L484.3 1716.1L483.8 1716.7L483.3 1718.5L482.8 1717.7L482.3 1718.7L481.8 1718.2L481.3 1723.3L480.8 1723.7L480.3 1723L479.8 1719.5L479.3 1724.8L478.8 1723.1L478.3 1721.7L477.8 1721.8L477.3 1722.4L476.8 1728.8L476.3 1720.5L475.8 1726.9L475.3 1721.1L474.8 1719.3L474.3 1721.9L473.8 1720.5L473.3 1724.6L472.8 1725.2L472.3 1720.6L471.8 1723.3L471.3 1723.1L470.8 1725.5L470.3 1723.2L469.8 1726.5L469.3 1722.9L468.8 1723.3L468.3 1729.5L467.8 1725.3L467.3 1725.1L466.8 1726.1L466.3 1726.6L465.8 1719.4L465.3 1720.3L464.8 1722.4L464.3 1719.7L463.8 1721L463.3 1725.3L462.8 1726L462.3 1724.6L461.8 1726.7L461.3 1727L460.8 1725.5L460.3 1725.5L459.8 1726.6L459.3 1732.1L458.8 1730.3L458.3 1727.5L457.8 1730.1L457.3 1731.7L456.8 1734.3L456.3 1730.2L455.8 1727.6L455.3 1727.7L454.8 1731.8L454.3 1728.9L453.8 1736.1L453.3 1729.1L452.8 1737.2L452.3 1730.7L451.8 1732L451.3 1733.6L450.8 1731.7L450.3 1733.7L449.8 1732.4L449.3 1730.3L448.8 1730.5L448.3 1738.5L447.8 1730.7L447.3 1730.2L446.8 1730.3L446.3 1735.7L445.8 1736.7L445.3 1730.5L444.8 1731.6L444.3 1738.1L443.8 1734.3L443.3 1734.4L442.8 1735.2L442.3 1735.4L441.8 1742.4L441.3 1737.4L440.8 1735.1L440.3 1736.1L439.8 1737.5L439.3 1735.8L438.8 1733.8L438.3 1735L437.8 1731.7L437.3 1736.4L436.8 1733.4L436.3 1740.2L435.8 1732.9L435.3 1732L434.8 1731.7L434.3 1732.6L433.8 1734.1L433.3 1742.3L432.8 1732.1L432.3 1732.1L431.8 1735.1L431.3 1733.3L430.8 1732.4L430.3 1738.6L429.8 1735.8L429.3 1740.2L428.8 1740.3L428.3 1741.3L427.8 1735.4L427.3 1739.4L426.8 1737.4L426.3 1743.3L425.8 1736.9L425.3 1743.5L424.8 1735.7L424.3 1741.4L423.8 1736.1L423.3 1739.6L422.8 1735.9L422.3 1736L421.8 1741L421.3 1742.2L420.8 1741.2L420.3 1736.2L419.8 1736.5L419.3 1737.9L418.8 1739.6L418.3 1739.3L417.8 1737.4L417.3 1740.4L416.8 1742.6L416.3 1742.5L415.8 1738.2L415.3 1733.8L414.8 1734.2L414.3 1729.9L413.8 1731.3L413.3 1735.2L412.8 1730.5L412.3 1730.9L411.8 1734.3L411.3 1737.3L410.8 1738.8L410.3 1734L409.8 1735.8L409.3 1735.6L408.8 1735L408.3 1736.1L407.8 1736.5L407.3 1734.5L406.8 1733L406.3 1738.4L405.8 1735L405.3 1733.3L404.8 1735.2L404.3 1732.2L403.8 1736L403.3 1735.6L402.8 1732.2L402.3 1730.9L401.8 1731L401.3 1732.9L400.8 1737.8L400.3 1730.4L399.8 1736.7L399.3 1736.2L398.8 1734.1L398.3 1732L397.8 1732.9L397.3 1732.3L396.8 1734.3L396.3 1736.8L395.8 1734.8L395.3 1735.1L394.8 1733.7L394.3 1733.7L393.8 1737.8L393.3 1734.1L392.8 1734L392.3 1732.7L391.8 1733.7L391.3 1732.9L390.8 1735.5L390.3 1731.1L389.8 1726.9L389.3 1726.7L388.8 1727L388.3 1725.1L387.8 1730.8L387.3 1729.2L386.8 1723.3L386.3 1722.8L385.8 1730.6L385.3 1722.3L384.8 1724L384.3 1729.4L383.8 1725.9L383.3 1729.5L382.8 1728.2L382.3 1723.7L381.8 1725.3L381.3 1727.4L380.8 1722.9L380.3 1724.5L379.8 1727.2L379.3 1721.6L378.8 1718.8L378.3 1718.2L377.8 1727L377.3 1717.5L376.8 1721.5L376.3 1719.4L375.8 1715.5L375.3 1720.1L374.8 1714.2L374.3 1719.6L373.8 1713.4L373.3 1711.9L372.8 1713.4L372.3 1718.7L371.8 1710L371.3 1709.4L370.8 1710.6L370.3 1708.9L369.8 1708.3L369.3 1708.9L368.8 1710.5L368.3 1704.4L367.8 1707.7L367.3 1702.4L366.8 1705.3L366.3 1704.4L365.8 1703.4L365.3 1698L364.8 1699.8L364.3 1695.3L363.8 1693.1L363.3 1695.1L362.8 1690.2L362.3 1697.9L361.8 1687.7L361.3 1689.9L360.8 1689.9L360.3 1686L359.8 1686.8L359.3 1683.3L358.8 1687.3L358.3 1686.6L357.8 1685.9L357.3 1677.3L356.8 1677.2L356.3 1670.4L355.8 1676.1L355.3 1665.5L354.8 1668L354.3 1661.4L353.8 1660.3L353.3 1665.3L352.8 1658.6L352.3 1661.7L351.8 1657.1L351.3 1659.5L350.8 1665.9L350.3 1655.7L349.8 1654.4L349.3 1655.3L348.8 1652.7L348.3 1651.1L347.8 1657.7L347.3 1649.4L346.8 1651.4L346.3 1651.3L345.8 1649.8L345.3 1644.4L344.8 1645.8L344.3 1639.7L343.8 1640.4L343.3 1640.6L342.8 1636.6L342.3 1631L341.8 1632.3L341.3 1631.1L340.8 1629.3L340.3 1629.6L339.8 1626.4L339.3 1627.2L338.8 1629.8L338.3 1622.9L337.8 1624.1L337.3 1622.5L336.8 1627L336.3 1625.5L335.8 1623.6L335.3 1620.4L334.8 1615.7L334.3 1613.7L333.8 1613.1L333.3 1616.6L332.8 1614L332.3 1609.7L331.8 1612.9L331.3 1613.5L330.8 1611.4L330.3 1606.1L329.8 1604.4L329.3 1605.2L328.8 1607.2L328.3 1603.1L327.8 1601.9L327.3 1597.3L326.8 1601.2L326.3 1594.1L325.8 1593.2L325.3 1593.1L324.8 1594.1L324.3 1592.4L323.8 1592L323.3 1595.1L322.8 1596L322.3 1592.2L321.8 1592.5L321.3 1592.1L320.8 1592.7L320.3 1591.1L319.8 1594.7L319.3 1593.3L318.8 1589.6L318.3 1594.2L317.8 1588.6L317.3 1590.4L316.8 1589.5L316.3 1593.3L315.8 1592.3L315.3 1593L314.8 1591.9L314.3 1593.9L313.8 1592.9L313.3 1592.2L312.8 1594.9L312.3 1592.7L311.8 1596.5L311.3 1590.2L310.8 1594.4L310.3 1589.4L309.8 1591.5L309.3 1590.1L308.8 1594.8L308.3 1592.7L307.8 1590.6L307.3 1590.5L306.8 1590.2L306.3 1593.5L305.8 1591.6L305.3 1591.5L304.8 1592.9L304.3 1594.9L303.8 1592.4L303.3 1593.1L302.8 1594.3L302.3 1593.7L301.8 1593.6L301.3 1596.6L300.8 1597.7L300.3 1597.1L299.8 1593.6L299.3 1598.7L298.8 1593.5L298.3 1592.7L297.8 1593.7L297.3 1598.1L296.8 1594.4L296.3 1591.7L295.8 1590.6L295.3 1592.9L294.8 1590.6L294.3 1589.5L293.8 1593.6L293.3 1594.8L292.8 1589.6L292.3 1590.2L291.8 1595.5L291.3 1595.5L290.8 1591.8L290.3 1591.7L289.8 1596.1L289.3 1594.2L288.8 1593.1L288.3 1594.4L287.8 1595.1L287.3 1593.9L286.8 1592.1L286.3 1590L285.8 1590.3L285.3 1591.7L284.8 1595.4L284.3 1589.8L283.8 1591L283.3 1590.8L282.8 1589L282.3 1591L281.8 1591.4L281.3 1591.7L280.8 1588.5L280.3 1593L279.8 1593.9L279.3 1593.6L278.8 1590.6L278.3 1589.6L277.8 1591.6L277.3 1595.1L276.8 1593.7L276.3 1593.7L275.8 1595L275.3 1595.4L274.8 1594.9L274.3 1598L273.8 1599.8L273.3 1595.1L272.8 1595.7L272.3 1597.6L271.8 1602.3L271.3 1596.9L270.8 1598.7L270.3 1598.5L269.8 1599.7L269.3 1602.2L268.8 1603.7L268.3 1605.5L267.8 1607.3L267.3 1608.3L266.8 1617.1L266.3 1613L265.8 1614.7L265.3 1618.4L264.8 1617.2L264.3 1620.3L263.8 1625L263.3 1631L262.8 1630.6L262.3 1635.3L261.8 1644.8L261.3 1643.7L260.8 1650.8L260.3 1660.5L259.8 1660.7L259.3 1665.2L258.8 1671.5L258.3 1675.4L257.8 1678.2L257.3 1685.5L256.8 1686.1L256.3 1690.2L255.8 1700.4L255.3 1692.7L254.8 1693.7L254.3 1691.9L253.8 1689.7L253.3 1690.3L252.8 1693.3L252.3 1688.5L251.8 1694.3L251.3 1690.1L250.8 1687.5L250.3 1687.6L249.8 1693.6L249.3 1693.1L248.8 1688.2L248.3 1693.5L247.8 1685.2L247.3 1685.7L246.8 1691.1L246.3 1691.5L245.8 1683.9L245.3 1684.5L244.8 1687.5L244.3 1688.1L243.8 1687.3L243.3 1687.8L242.8 1693.3L242.3 1696L241.8 1693.5L241.3 1691L240.8 1690L240.3 1694.6L239.8 1694.9L239.3 1691.8L238.8 1691.8L238.3 1687.4L237.8 1687.3L237.3 1688.5L236.8 1689.9L236.3 1686.5L235.8 1686L235.3 1689.9L234.8 1685.8L234.3 1683.9L233.8 1685.4L233.3 1687.1L232.8 1684.5L232.3 1690.7L231.8 1691.6L231.3 1691.4L230.8 1692.9L230.3 1688.8L229.8 1689.4L229.3 1689.1L228.8 1692.4L228.3 1688.9L227.8 1689.2L227.3 1692.9L226.8 1696.3L226.3 1691L225.8 1692.2L225.3 1688.6L224.8 1693L224.3 1687.9L223.8 1688.1L223.3 1692.4L222.8 1692.5L222.3 1688.2L221.8 1689.5L221.3 1689.7L220.8 1692.2L220.3 1684.9L219.8 1689.5L219.3 1692.3L218.8 1685.7L218.3 1690L217.8 1686.4L217.3 1691.5L216.8 1690.8L216.3 1688.5L215.8 1691.3L215.3 1688.1L214.8 1690.5L214.3 1693.4L213.8 1686.3L213.3 1685.7L212.8 1696.8L212.3 1690.1L211.8 1691.3L211.3 1685L210.8 1691.9L210.3 1685L209.8 1689.1L209.3 1688.2L208.8 1684.8L208.3 1686.6L207.8 1689.6L207.3 1687.1L206.8 1693.6L206.3 1692.7L205.8 1690.7L205.3 1693.5L204.8 1691.3L204.3 1688.9L203.8 1687.5L203.3 1691.8L202.8 1687.8L202.3 1685.7L201.8 1690.8L201.3 1685.6L200.8 1685.6L200.3 1685.9L199.8 1685.2L199.3 1690.1L198.8 1686.9L198.3 1685.8L197.8 1689.1L197.3 1688.9L196.8 1684.5L196.3 1687.9L195.8 1685.5L195.3 1686.2L194.8 1685.4L194.3 1685.9L193.8 1687.4L193.3 1690.9L192.8 1689.1L192.3 1685.1L191.8 1691.3L191.3 1686.1L190.8 1684.6L190.3 1685L189.8 1689.2L189.3 1685.3L188.8 1690.7L188.3 1689.9L187.8 1686L187.3 1690.9L186.8 1686.9L186.3 1687.8L185.8 1687.5L185.3 1688.3L184.8 1690L184.3 1685.3L183.8 1686.6L183.3 1687.2L182.8 1693.6L182.3 1686L181.8 1692.8L181.3 1690.2L180.8 1689.8L180.3 1690.5L179.8 1693.2L179.3 1688L178.8 1688.6L178.3 1687.7L177.8 1688.2L177.3 1691.3L176.8 1689.8L176.3 1687.4L175.8 1687.6L175.3 1686.6L174.8 1690L174.3 1690.7L173.8 1689.6L173.3 1690.6L172.8 1686.4L172.3 1687.5L171.8 1687L171.3 1691L170.8 1688.8L170.3 1684.6L169.8 1685.1L169.3 1684.8L168.8 1689.8L168.3 1685.4L167.8 1690.8L167.3 1685.9L166.8 1688.6L166.3 1691.2L165.8 1688L165.3 1690.7L164.8 1694.3L164.3 1686L163.8 1685.9L163.3 1691.1L162.8 1691.4L162.3 1691L161.8 1687.3L161.3 1687.1L160.8 1687.8L160.3 1685.7L159.8 1689.6L159.3 1691.3L158.8 1691.3L158.3 1690.6L157.8 1684.5L157.3 1684.3L156.8 1686.7L156.3 1684.7L155.8 1687.7L155.3 1685.6L154.8 1685.5L154.3 1689.2L153.8 1687.4L153.3 1690.5L152.8 1686.2L152.3 1692.2L151.8 1694.5L151.3 1687.3L150.8 1687.5L150.3 1688.6L149.8 1688.3L149.3 1693L148.8 1689.7L148.3 1688.1L147.8 1688.9L147.3 1691.1L146.8 1694L146.3 1694.3L145.8 1687.1L145.3 1695L144.8 1687.2L144.3 1690.8L143.8 1690.8L143.3 1694.7L142.8 1689.6L142.3 1695.8L141.8 1688.1L141.3 1693.7L140.8 1695.1L140.3 1695.2L139.8 1695.3L139.3 1690.8L138.8 1690.5L138.3 1690.5L137.8 1696.1L137.3 1690.4L136.8 1693.4L136.3 1688.7L135.8 1687.5L135.3 1689L134.8 1687.7L134.3 1689.2L133.8 1687.8L133.3 1686L132.8 1685.8L132.3 1686.6L131.8 1686.8L131.3 1688.9L130.8 1691.1L130.3 1696.2L129.8 1695.1L129.3 1687.6L128.8 1691.8L128.3 1689.8L127.8 1685.8L127.3 1686L126.8 1688.7L126.3 1687.7L125.8 1685.9L125.3 1684.8L124.8 1686.7L124.3 1685.7L123.8 1684.2L123.3 1689.4L122.8 1687.8L122.3 1686.3L121.8 1683.8L121.3 1684.3L120.8 1690.5L120.3 1683.8L119.8 1687.7L119.3 1692L118.8 1689.6L118.3 1689L117.8 1691.3L117.3 1685.7L116.8 1688.6L116.3 1685L115.8 1690.5L115.3 1689L114.8 1684.7L114.3 1691.5L113.8 1692.2Z" fill="#231f20" filter="url(#soft)"/>
<line x1="397.3" y1="1722" x2="397.3" y2="1749.5" stroke="#8a8a8a" stroke-width="0.7"/>
<line x1="580" y1="1682" x2="580" y2="1667" stroke="#8a8a8a" stroke-width="0.7"/>
<text x="530.2" y="1602.2" font-size="26.4" text-anchor="start">100 pA</text>
<path d="M623.4 1574.7V1612.8H679.5" fill="none" stroke="#231f20" stroke-width="2.2"/>
<text x="635" y="1637.4" font-size="26.4" text-anchor="start">3 s</text>
</g>
<g id="panel-d">
<text x="790.4" y="787" font-size="48.0" text-anchor="start">d</text>
<line x1="985.9" y1="1237.4" x2="985.9" y2="1260.1" stroke="#6d6e71" stroke-width="1.4"/>
<line x1="968.9" y1="1237.4" x2="1002.9" y2="1237.4" stroke="#6d6e71" stroke-width="1.4"/>
<rect x="950.6" y="1260.1" width="69.2" height="73.6" fill="#fff" stroke="#6d6e71" stroke-width="1.4"/>
<line x1="1070.8" y1="1140.6" x2="1070.8" y2="1183.9" stroke="#6d6e71" stroke-width="1.4"/>
<line x1="1053.8" y1="1140.6" x2="1087.8" y2="1140.6" stroke="#6d6e71" stroke-width="1.4"/>
<rect x="1036.5" y="1183.9" width="68.9" height="149.8" fill="#c8c9cb" stroke="#6d6e71" stroke-width="1.4"/>
<line x1="1199" y1="1156.2" x2="1199" y2="1213.5" stroke="#6d6e71" stroke-width="1.4"/>
<line x1="1182" y1="1156.2" x2="1216" y2="1156.2" stroke="#6d6e71" stroke-width="1.4"/>
<rect x="1164.6" y="1213.5" width="69.2" height="120.2" fill="#fff" stroke="#6d6e71" stroke-width="1.4"/>
<line x1="1285" y1="1156.2" x2="1285" y2="1213.5" stroke="#6d6e71" stroke-width="1.4"/>
<line x1="1268" y1="1156.2" x2="1302" y2="1156.2" stroke="#6d6e71" stroke-width="1.4"/>
<rect x="1250.1" y="1213.5" width="69.3" height="120.2" fill="#c8c9cb" stroke="#6d6e71" stroke-width="1.4"/>
<line x1="921.2" y1="870.8" x2="921.2" y2="1334.3" stroke="#231f20" stroke-width="1.3"/>
<line x1="915.2" y1="1333.7" x2="1349" y2="1333.7" stroke="#231f20" stroke-width="1.3"/>
<line x1="915.8" y1="871.2" x2="921.2" y2="871.2" stroke="#231f20" stroke-width="1.2"/>
<line x1="915.8" y1="963.7" x2="921.2" y2="963.7" stroke="#231f20" stroke-width="1.2"/>
<line x1="915.8" y1="1056.2" x2="921.2" y2="1056.2" stroke="#231f20" stroke-width="1.2"/>
<line x1="915.8" y1="1148.7" x2="921.2" y2="1148.7" stroke="#231f20" stroke-width="1.2"/>
<line x1="915.8" y1="1241.2" x2="921.2" y2="1241.2" stroke="#231f20" stroke-width="1.2"/>
<line x1="918.4" y1="917.5" x2="921.2" y2="917.5" stroke="#231f20" stroke-width="1.2"/>
<line x1="918.4" y1="1010" x2="921.2" y2="1010" stroke="#231f20" stroke-width="1.2"/>
<line x1="918.4" y1="1102.5" x2="921.2" y2="1102.5" stroke="#231f20" stroke-width="1.2"/>
<line x1="918.4" y1="1195" x2="921.2" y2="1195" stroke="#231f20" stroke-width="1.2"/>
<line x1="918.4" y1="1287.5" x2="921.2" y2="1287.5" stroke="#231f20" stroke-width="1.2"/>
<text x="914.4" y="882.4" font-size="32.0" text-anchor="end">5</text>
<text x="914.4" y="974.9" font-size="32.0" text-anchor="end">4</text>
<text x="914.4" y="1067.4" font-size="32.0" text-anchor="end">3</text>
<text x="914.4" y="1159.9" font-size="32.0" text-anchor="end">2</text>
<text x="914.4" y="1252.4" font-size="32.0" text-anchor="end">1</text>
<text x="914.4" y="1344.9" font-size="32.0" text-anchor="end">0</text>
<line x1="1028.1" y1="1333.7" x2="1028.1" y2="1339.7" stroke="#231f20" stroke-width="1.2"/>
<line x1="1242.2" y1="1333.7" x2="1242.2" y2="1339.7" stroke="#231f20" stroke-width="1.2"/>
<text transform="translate(877.7 1166.8) rotate(-90)" font-size="32.5">I<tspan font-size="22" dy="8.2">spont</tspan><tspan dy="-8.2" dx="-3.4"> (%)</tspan></text>
<line x1="987.2" y1="1149.9" x2="1064.4" y2="965.4" stroke="#231f20" stroke-width="1.2"/>
<line x1="978.9" y1="1221.8" x2="1078" y2="1106.1" stroke="#231f20" stroke-width="1.2"/>
<line x1="986.2" y1="1239.1" x2="1068.7" y2="1161.2" stroke="#231f20" stroke-width="1.2"/>
<line x1="984.2" y1="1286.4" x2="1071.7" y2="1249.1" stroke="#231f20" stroke-width="1.2"/>
<line x1="982.3" y1="1304.9" x2="1078.1" y2="1258.4" stroke="#231f20" stroke-width="1.2"/>
<line x1="980.8" y1="1306" x2="1074.7" y2="1269.1" stroke="#231f20" stroke-width="1.2"/>
<line x1="983.2" y1="1312.3" x2="1070.1" y2="1277.7" stroke="#231f20" stroke-width="1.2"/>
<line x1="1200.6" y1="938.4" x2="1285.4" y2="938.4" stroke="#231f20" stroke-width="1.2"/>
<line x1="1191.6" y1="1211.2" x2="1286.1" y2="1211.2" stroke="#231f20" stroke-width="1.2"/>
<line x1="1210.2" y1="1235.4" x2="1282.8" y2="1235.4" stroke="#231f20" stroke-width="1.2"/>
<line x1="1189.6" y1="1289" x2="1283.4" y2="1289" stroke="#231f20" stroke-width="1.2"/>
<line x1="1197.9" y1="1301.7" x2="1287.7" y2="1301.7" stroke="#231f20" stroke-width="1.2"/>
<line x1="1195.2" y1="1305.7" x2="1287.1" y2="1305.7" stroke="#231f20" stroke-width="1.2"/>
<path d="M983.6 1149.9L987.2 1146.7L990.8 1149.9L987.2 1153.1Z" fill="#231f20"/>
<path d="M1060.8 965.4L1064.4 962.2L1068 965.4L1064.4 968.6Z" fill="#231f20"/>
<path d="M975.3 1221.8L978.9 1218.6L982.5 1221.8L978.9 1225Z" fill="#231f20"/>
<path d="M1074.4 1106.1L1078 1102.9L1081.6 1106.1L1078 1109.3Z" fill="#231f20"/>
<path d="M982.6 1239.1L986.2 1235.9L989.8 1239.1L986.2 1242.3Z" fill="#231f20"/>
<path d="M1065.1 1161.2L1068.7 1158L1072.3 1161.2L1068.7 1164.4Z" fill="#231f20"/>
<path d="M980.6 1286.4L984.2 1283.2L987.8 1286.4L984.2 1289.6Z" fill="#231f20"/>
<path d="M1068.1 1249.1L1071.7 1245.9L1075.3 1249.1L1071.7 1252.3Z" fill="#231f20"/>
<path d="M978.7 1304.9L982.3 1301.7L985.9 1304.9L982.3 1308.1Z" fill="#231f20"/>
<path d="M1074.5 1258.4L1078.1 1255.2L1081.7 1258.4L1078.1 1261.6Z" fill="#231f20"/>
<path d="M977.2 1306L980.8 1302.8L984.4 1306L980.8 1309.2Z" fill="#231f20"/>
<path d="M1071.1 1269.1L1074.7 1265.9L1078.3 1269.1L1074.7 1272.3Z" fill="#231f20"/>
<path d="M979.6 1312.3L983.2 1309.1L986.8 1312.3L983.2 1315.5Z" fill="#231f20"/>
<path d="M1066.5 1277.7L1070.1 1274.5L1073.7 1277.7L1070.1 1280.9Z" fill="#231f20"/>
<path d="M1197 938.4L1200.6 935.2L1204.2 938.4L1200.6 941.6Z" fill="#231f20"/>
<path d="M1281.8 938.4L1285.4 935.2L1289 938.4L1285.4 941.6Z" fill="#231f20"/>
<path d="M1188 1211.2L1191.6 1208L1195.2 1211.2L1191.6 1214.4Z" fill="#231f20"/>
<path d="M1282.5 1211.2L1286.1 1208L1289.7 1211.2L1286.1 1214.4Z" fill="#231f20"/>
<path d="M1206.6 1235.4L1210.2 1232.2L1213.8 1235.4L1210.2 1238.6Z" fill="#231f20"/>
<path d="M1279.2 1235.4L1282.8 1232.2L1286.4 1235.4L1282.8 1238.6Z" fill="#231f20"/>
<path d="M1186 1289L1189.6 1285.8L1193.2 1289L1189.6 1292.2Z" fill="#231f20"/>
<path d="M1279.8 1289L1283.4 1285.8L1287 1289L1283.4 1292.2Z" fill="#231f20"/>
<path d="M1194.3 1301.7L1197.9 1298.5L1201.5 1301.7L1197.9 1304.9Z" fill="#231f20"/>
<path d="M1284.1 1301.7L1287.7 1298.5L1291.3 1301.7L1287.7 1304.9Z" fill="#231f20"/>
<path d="M1191.6 1305.7L1195.2 1302.5L1198.8 1305.7L1195.2 1308.9Z" fill="#231f20"/>
<path d="M1283.5 1305.7L1287.1 1302.5L1290.7 1305.7L1287.1 1308.9Z" fill="#231f20"/>
<path d="M985.3 898.3V874.3H1072.4V898.3" fill="none" stroke="#6d6e71" stroke-width="1.2"/>
<text x="1030.3" y="877.3" font-size="31.0" text-anchor="middle">*</text>
<path d="M1199.2 898.5V875.6H1286.6V898.5" fill="none" stroke="#6d6e71" stroke-width="1.2"/>
<text x="1244.8" y="867" font-size="32.6" text-anchor="middle">ns</text>
<rect x="1137.6" y="768.9" width="20" height="19.6" fill="#fff" stroke="#414042" stroke-width="1.1"/>
<rect x="1137.6" y="804.4" width="20" height="19.8" fill="#c8c9cb" stroke="#414042" stroke-width="1.1"/>
<text x="1176.6" y="786.9" font-size="27.2" text-anchor="start">Baseline</text>
<text x="1176.6" y="824.1" font-size="27.2" text-anchor="start">Flurazepam</text>
<text transform="translate(1072.6 1358.6) rotate(-29.5)" font-size="33.2" text-anchor="end">α1β3γ2L</text>
<text transform="translate(1295.3 1357.2) rotate(-29.5)" font-size="33.2" text-anchor="end">α1<tspan font-size="21.6" dy="-10.4">H101R</tspan><tspan dy="10.4">β3γ2L</tspan></text>
<text x="1046.9" y="1500" font-size="30.2" text-anchor="middle">300 nM</text>
<text x="1046.9" y="1535.8" font-size="30.0" text-anchor="middle">Flurazepam</text>
<rect x="1011.4" y="1555.5" width="68.5" height="4.4" fill="#231f20"/>
<path d="M912.5 1600.9L912.9 1603.1L913.3 1602L913.7 1604.2L914.1 1604.8L914.5 1603L914.9 1600.1L915.3 1601L915.7 1599.9L916.1 1604.1L916.5 1602.6L916.9 1604.1L917.3 1598.7L917.7 1604L918.1 1598.5L918.5 1604.1L918.9 1597.7L919.3 1600.2L919.7 1603.9L920.1 1602.8L920.5 1603.5L920.9 1602.8L921.3 1599.5L921.7 1603.4L922.1 1601.8L922.5 1599.9L922.9 1598.6L923.3 1603.2L923.7 1602.5L924.1 1602L924.5 1601.8L924.9 1602.9L925.3 1601L925.7 1606L926.1 1604L926.5 1604.1L926.9 1601.1L927.3 1602.5L927.7 1603L928.1 1604.2L928.5 1606.3L928.9 1601.1L929.3 1605.1L929.7 1607L930.1 1605.9L930.5 1604.2L930.9 1605.6L931.3 1602.1L931.7 1606.2L932.1 1600.9L932.5 1603.9L932.9 1600.8L933.3 1600.9L933.7 1603.7L934.1 1603.9L934.5 1603.8L934.9 1604.1L935.3 1604.1L935.7 1600.7L936.1 1601.9L936.5 1598.8L936.9 1598.8L937.3 1603.6L937.7 1602.3L938.1 1603.9L938.5 1602.4L938.9 1604.4L939.3 1603.1L939.7 1600.4L940.1 1604.6L940.5 1604.7L940.9 1602.8L941.3 1598.8L941.7 1600.7L942.1 1603.2L942.5 1600.6L942.9 1603.3L943.3 1602.9L943.7 1602.9L944.1 1602.5L944.5 1599.8L944.9 1603.2L945.3 1602.1L945.7 1599.8L946.1 1597.4L946.5 1599.8L946.9 1598.9L947.3 1602L947.7 1601.7L948.1 1604.5L948.5 1598.5L948.9 1601.6L949.3 1600.1L949.7 1603.9L950.1 1600.6L950.5 1602L950.9 1600.2L951.3 1599.2L951.7 1600.3L952.1 1603.1L952.5 1604L952.9 1602.6L953.3 1604.6L953.7 1605.6L954.1 1606.9L954.5 1602.6L954.9 1604.4L955.3 1602.2L955.7 1606.9L956.1 1605.1L956.5 1601.2L956.9 1604.6L957.3 1603.5L957.7 1606L958.1 1603.7L958.5 1605.9L958.9 1605.1L959.3 1602.2L959.7 1603.9L960.1 1605.5L960.5 1606.2L960.9 1600.1L961.3 1604.1L961.7 1605.7L962.1 1606L962.5 1603.8L962.9 1607L963.3 1604.9L963.7 1602L964.1 1606.6L964.5 1607L964.9 1604.7L965.3 1606.6L965.7 1606.6L966.1 1602.9L966.5 1601.9L966.9 1604L967.3 1605.6L967.7 1600.6L968.1 1605.6L968.5 1605.7L968.9 1605L969.3 1600.5L969.7 1602.1L970.1 1605.2L970.5 1600.9L970.9 1603.8L971.3 1601.6L971.7 1604.2L972.1 1603.7L972.5 1601L972.9 1605.7L973.3 1601.7L973.7 1605.1L974.1 1604.5L974.5 1601.6L974.9 1604L975.3 1600.2L975.7 1603.3L976.1 1603.2L976.5 1600.4L976.9 1601.5L977.3 1605.6L977.7 1605.1L978.1 1600.5L978.5 1605.6L978.9 1605.7L979.3 1603.5L979.7 1603.7L980.1 1599.6L980.5 1602.5L980.9 1604L981.3 1602.5L981.7 1598.5L982.1 1599.6L982.5 1595.5L982.9 1604.8L983.3 1604.1L983.7 1600.6L984.1 1604.9L984.5 1605L984.9 1599.4L985.3 1605.5L985.7 1600.2L986.1 1605.3L986.5 1606.4L986.9 1600.5L987.3 1606.4L987.7 1604.7L988.1 1600.8L988.5 1604.5L988.9 1604.5L989.3 1601.2L989.7 1602.5L990.1 1604.7L990.5 1600L990.9 1602.7L991.3 1605.3L991.7 1604.5L992.1 1602.4L992.5 1600.7L992.9 1605.5L993.3 1607.5L993.7 1606.8L994.1 1607.5L994.5 1607L994.9 1606.3L995.3 1599.7L995.7 1604.9L996.1 1600.7L996.5 1602.5L996.9 1601.2L997.3 1600.9L997.7 1604.8L998.1 1603.6L998.5 1602.3L998.9 1600.4L999.3 1600.1L999.7 1603.6L1000.1 1605.1L1000.5 1602.3L1000.9 1604.2L1001.3 1605.5L1001.7 1599.2L1002.1 1601.1L1002.5 1603.7L1002.9 1605.2L1003.3 1601.1L1003.7 1604.9L1004.1 1599.2L1004.5 1603.9L1004.9 1604.3L1005.3 1602.8L1005.7 1601.5L1006.1 1604.5L1006.5 1605.7L1006.9 1606.1L1007.3 1606.7L1007.7 1606.8L1008.1 1603.7L1008.5 1606L1008.9 1603.5L1009.3 1605.6L1009.7 1604.8L1010.1 1607.2L1010.5 1604.6L1010.9 1606.4L1011.3 1605.6L1011.7 1603L1012.1 1606.4L1012.5 1607.3L1012.9 1607.2L1013.3 1606.4L1013.7 1608.9L1014.1 1611.1L1014.5 1605L1014.9 1605L1015.3 1611.7L1015.7 1610.8L1016.1 1612.5L1016.5 1611.4L1016.9 1612L1017.3 1607.3L1017.7 1608.7L1018.1 1609.9L1018.5 1612.5L1018.9 1618.5L1019.3 1615.9L1019.7 1618.8L1020.1 1615.6L1020.5 1623L1020.9 1622.3L1021.3 1619.1L1021.7 1622.1L1022.1 1624.6L1022.5 1622.2L1022.9 1622.6L1023.3 1620.5L1023.7 1626.2L1024.1 1626.5L1024.5 1625.7L1024.9 1627.3L1025.3 1623.4L1025.7 1626.5L1026.1 1632.2L1026.5 1627.3L1026.9 1633.4L1027.3 1633.9L1027.7 1632.5L1028.1 1626.6L1028.5 1632.1L1028.9 1632.7L1029.3 1628.9L1029.7 1632.5L1030.1 1634.1L1030.5 1633.7L1030.9 1633.2L1031.3 1631.2L1031.7 1635.7L1032.1 1626.2L1032.5 1633.6L1032.9 1632.7L1033.3 1632.8L1033.7 1637.1L1034.1 1636.3L1034.5 1640.2L1034.9 1634.1L1035.3 1637.5L1035.7 1641.3L1036.1 1635.9L1036.5 1638.6L1036.9 1641.2L1037.3 1640.6L1037.7 1643.4L1038.1 1641.1L1038.5 1643.3L1038.9 1641.3L1039.3 1636.6L1039.7 1642.3L1040.1 1643.8L1040.5 1644L1040.9 1644.5L1041.3 1644.6L1041.7 1645.5L1042.1 1645.3L1042.5 1642.8L1042.9 1646.6L1043.3 1641.5L1043.7 1640.5L1044.1 1645.5L1044.5 1648.9L1044.9 1644.9L1045.3 1641.8L1045.7 1649.4L1046.1 1644.3L1046.5 1648.7L1046.9 1643.3L1047.3 1647.5L1047.7 1647.9L1048.1 1648.9L1048.5 1648.2L1048.9 1641L1049.3 1641.7L1049.7 1639.6L1050.1 1647.9L1050.5 1645.6L1050.9 1640.8L1051.3 1649L1051.7 1649.3L1052.1 1650.1L1052.5 1647.4L1052.9 1651.3L1053.3 1650.6L1053.7 1643.2L1054.1 1650.2L1054.5 1646L1054.9 1647.6L1055.3 1644.8L1055.7 1652.5L1056.1 1648.1L1056.5 1651.9L1056.9 1653.4L1057.3 1655.2L1057.7 1655.5L1058.1 1655.9L1058.5 1652.9L1058.9 1649.1L1059.3 1656.5L1059.7 1650L1060.1 1649.9L1060.5 1654.2L1060.9 1657L1061.3 1658.2L1061.7 1658.6L1062.1 1658L1062.5 1658.8L1062.9 1658.6L1063.3 1656.6L1063.7 1657.5L1064.1 1656.3L1064.5 1655.8L1064.9 1655.9L1065.3 1653.8L1065.7 1651.9L1066.1 1649.3L1066.5 1653.4L1066.9 1656.4L1067.3 1649.1L1067.7 1655.2L1068.1 1655.9L1068.5 1647.9L1068.9 1654.3L1069.3 1655L1069.7 1652.3L1070.1 1653.2L1070.5 1658.6L1070.9 1659.7L1071.3 1659.9L1071.7 1659.1L1072.1 1660.9L1072.5 1659.4L1072.9 1661.8L1073.3 1661.8L1073.7 1657.9L1074.1 1660.7L1074.5 1654.2L1074.9 1663.1L1075.3 1661.6L1075.7 1655.9L1076.1 1662.2L1076.5 1654.5L1076.9 1661.7L1077.3 1648.6L1077.7 1662.1L1078.1 1662L1078.5 1660.6L1078.9 1654.9L1079.3 1660.1L1079.7 1657.5L1080.1 1659L1080.5 1658.7L1080.9 1658.6L1081.3 1658.4L1081.7 1655.1L1082.1 1649.3L1082.5 1653.1L1082.9 1654L1083.3 1656.1L1083.7 1649.5L1084.1 1657.6L1084.5 1649.9L1084.9 1657.9L1085.3 1657.8L1085.7 1655.8L1086.1 1653.7L1086.5 1651.6L1086.9 1655.2L1087.3 1649.3L1087.7 1654.2L1088.1 1654.1L1088.5 1654.8L1088.9 1651.7L1089.3 1649.3L1089.7 1653.9L1090.1 1651.5L1090.5 1649.6L1090.9 1653.5L1091.3 1651.8L1091.7 1654L1092.1 1653.7L1092.5 1655.3L1092.9 1649.7L1093.3 1653.3L1093.7 1647.4L1094.1 1649.4L1094.5 1655.9L1094.9 1654.5L1095.3 1655.2L1095.7 1652.4L1096.1 1654.5L1096.5 1649.9L1096.9 1647.7L1097.3 1652.5L1097.7 1649.4L1098.1 1646.2L1098.5 1654.3L1098.9 1647.3L1099.3 1652.9L1099.7 1652.3L1100.1 1651.9L1100.5 1646.6L1100.9 1648.4L1101.3 1650.7L1101.7 1646.2L1102.1 1638.7L1102.5 1648.8L1102.9 1648.4L1103.3 1650.1L1103.7 1645.7L1104.1 1649.4L1104.5 1647.8L1104.9 1645.9L1105.3 1644.9L1105.7 1640L1106.1 1644.8L1106.5 1643.6L1106.9 1640.4L1107.3 1640.7L1107.7 1638.2L1108.1 1643.6L1108.5 1644.2L1108.9 1638.6L1109.3 1643.8L1109.7 1640.8L1110.1 1639.7L1110.5 1640.4L1110.9 1638.5L1111.3 1642.3L1111.7 1639.7L1112.1 1632.8L1112.5 1636.2L1112.9 1634.8L1113.3 1634.5L1113.7 1639.2L1114.1 1637.7L1114.5 1632.5L1114.9 1636.4L1115.3 1632.6L1115.7 1639.3L1116.1 1640.3L1116.5 1639.8L1116.9 1634L1117.3 1636.7L1117.7 1641.2L1118.1 1640.3L1118.5 1640.8L1118.9 1642.2L1119.3 1636.2L1119.7 1639.7L1120.1 1641.2L1120.5 1640.5L1120.9 1638.8L1121.3 1635.7L1121.7 1635.6L1122.1 1630.3L1122.5 1633L1122.9 1636.6L1123.3 1629.1L1123.7 1632.8L1124.1 1629.3L1124.5 1635.4L1124.9 1634L1125.3 1633.8L1125.7 1629.2L1126.1 1631.8L1126.5 1633.8L1126.9 1629.4L1127.3 1632.9L1127.7 1629.2L1128.1 1631.9L1128.5 1626.5L1128.9 1631.6L1129.3 1625.4L1129.7 1631.7L1130.1 1622.4L1130.5 1633.1L1130.9 1635.6L1131.3 1636.3L1131.7 1628.8L1132.1 1635.6L1132.5 1636L1132.9 1628.3L1133.3 1635.3L1133.7 1632.4L1134.1 1629.5L1134.5 1634.3L1134.9 1632.1L1135.3 1630.7L1135.7 1625.6L1136.1 1625.8L1136.5 1626.4L1136.9 1626.2L1137.3 1627.1L1137.7 1628.4L1138.1 1631.6L1138.5 1624.3L1138.9 1631.5L1139.3 1626.8L1139.7 1629.8L1140.1 1628.4L1140.5 1624.6L1140.9 1626L1141.3 1624.1L1141.7 1628.3L1142.1 1630.4L1142.5 1630.6L1142.9 1628.4L1143.3 1625.7L1143.7 1627.3L1144.1 1627.6L1144.5 1625.2L1144.9 1630.9L1145.3 1632L1145.7 1631.9L1146.1 1632.7L1146.5 1632.5L1146.9 1628.3L1147.3 1629.2L1147.7 1629.8L1148.1 1630.8L1148.5 1629.5L1148.9 1624.8L1149.3 1629.8L1149.7 1626.6L1150.1 1625.9L1150.5 1623.5L1150.9 1628.6L1151.3 1625.7L1151.7 1622.6L1152.1 1624.5L1152.5 1621.2L1152.9 1626.8L1153.3 1624.7L1153.7 1624.6L1154.1 1626.6L1154.5 1626.3L1154.9 1625.3L1155.3 1625.5L1155.7 1622.8L1156.1 1624.2L1156.5 1624.6L1156.9 1621.1L1157.3 1620.3L1157.7 1621L1158.1 1625.3L1158.5 1622.3L1158.9 1625.6L1159.3 1623.6L1159.7 1627.2L1160.1 1622.2L1160.5 1627.3L1160.9 1628.5L1161.3 1628.2L1161.7 1624.7L1162.1 1623.6L1162.5 1622.8L1162.9 1627.5L1163.3 1626.4L1163.7 1625.7L1164.1 1620.6L1164.5 1620.5L1164.9 1621.6L1165.3 1622.9L1165.7 1622L1166.1 1624.4L1166.5 1622.6L1166.9 1621.5L1167.3 1624.9L1167.7 1620L1168.1 1620.3L1168.5 1621.2L1168.9 1622.4L1169.3 1616.4L1169.7 1618L1170.1 1617.6L1170.5 1616.8L1170.9 1617.9L1171.3 1619.7L1171.7 1615.7L1172.1 1621.3L1172.5 1618.4L1172.9 1624.2L1173.3 1624.5L1173.7 1624.5L1174.1 1623.7L1174.5 1622.4L1174.9 1622.7L1175.3 1618.4L1175.7 1621.3L1176.1 1621L1176.5 1619.4L1176.9 1616.6L1177.3 1619.9L1177.7 1621.9L1178.1 1622.3L1178.5 1622.5L1178.9 1621.8L1179.3 1615.7L1179.7 1619.5L1180.1 1616L1180.5 1622.4L1180.9 1620.6L1181.3 1616.5L1181.7 1622.8L1182.1 1623L1182.5 1618.7L1182.9 1623L1183.3 1623.3L1183.7 1622.9L1184.1 1622.2L1184.5 1617.6L1184.9 1622.8L1185.3 1622.8L1185.7 1617.6L1186.1 1617.3L1186.5 1622L1186.9 1621.7L1187.3 1620L1187.7 1615.5L1188.1 1622.1L1188.5 1621.4L1188.9 1615.8L1189.3 1619.6L1189.7 1620L1190.1 1616.5L1190.5 1613.3L1190.9 1613.2L1191.3 1614.5L1191.7 1617.4L1192.1 1616.6L1192.5 1612.1L1192.9 1616.5L1193.3 1610L1193.7 1619.5L1194.1 1619.9L1194.5 1619.1L1194.9 1620.3L1195.3 1619.7L1195.7 1619.4L1196.1 1618.1L1196.5 1612.8L1196.9 1611.4L1197.3 1617.6L1197.7 1614.6L1198.1 1618.6L1198.5 1618.7L1198.9 1613.6L1199.3 1615.8L1199.7 1614.4L1200.1 1615.5L1200.5 1615L1200.9 1617.5L1201.3 1616.4L1201.7 1618.4L1202.1 1613.9L1202.5 1615L1202.9 1615L1203.3 1618.7L1203.7 1611.8L1204.1 1619L1204.5 1617.1L1204.9 1618.1L1205.3 1613.9L1205.7 1618.4L1206.1 1615.4L1206.5 1618L1206.9 1618.6L1207.3 1619.6L1207.7 1614.8L1208.1 1617.7L1208.5 1616.6L1208.9 1615.7L1209.3 1611.6L1209.7 1615L1210.1 1617.4L1210.5 1612.8L1210.9 1611.5L1211.3 1612L1211.7 1615.8L1212.1 1618.2L1212.5 1618.5L1212.9 1617L1213.3 1617.7L1213.7 1618.6L1214.1 1617.8L1214.5 1618L1214.9 1617.2L1215.3 1616.8L1215.7 1617.7L1216.1 1612L1216.5 1617.7L1216.9 1613.2L1217.3 1616.3L1217.7 1610.6L1218.1 1617.7L1218.5 1614.3L1218.9 1612.5L1219.3 1617.4L1219.7 1615.4L1220.1 1614.9L1220.5 1616.9L1220.9 1617L1221.3 1617.5L1221.7 1616.6L1222.1 1613.4L1222.5 1614.5L1222.9 1615.9L1223.3 1617.4L1223.7 1612.1L1224.1 1614.6L1224.5 1616.2L1224.9 1616.7L1225.3 1613.7L1225.7 1611.2L1226.1 1616.2L1226.5 1616.2L1226.9 1609.9L1227.3 1613.3L1227.7 1615.4L1228.1 1615.8L1228.5 1612.9L1228.9 1614.4L1229.3 1612.4L1229.7 1611L1230.1 1617.9L1230.5 1612.7L1230.9 1611.5L1231.3 1618.2L1231.7 1613.2L1232.1 1612.7L1232.5 1611L1232.9 1614.8L1233.3 1614.2L1233.7 1609.8L1234.1 1613.3L1234.5 1614.9L1234.9 1610.9L1235.3 1614.7L1235.7 1611.3L1236.1 1615.4L1236.5 1616.1L1236.9 1611.1L1237.3 1616.6L1237.7 1613.8L1238.1 1614.1L1238.5 1610.9L1238.9 1618.1L1239.3 1616.5L1239.7 1611.9L1240.1 1616.7L1240.5 1616.5L1240.9 1614.2L1241.3 1616.6L1241.7 1616.4L1242.1 1617L1242.5 1614.7L1242.9 1621.1L1243.3 1616.5L1243.7 1619.8L1244.1 1616.9L1244.5 1617.7L1244.9 1620.5L1245.3 1614.5L1245.7 1617.5L1246.1 1618.9L1246.5 1618.3L1246.9 1617.8L1247.3 1619.1L1247.7 1618.6L1248.1 1615.1L1248.5 1617.4L1248.9 1614.9L1249.3 1618.3L1249.7 1613L1250.1 1611.5L1250.5 1618.2L1250.9 1611.4L1251.3 1614.1L1251.7 1613.2L1252.1 1616.5L1252.5 1617L1252.9 1615.7L1253.3 1611.5L1253.7 1616.5L1254.1 1616.3L1254.5 1612.2L1254.9 1610.7L1255.3 1614.6L1255.7 1609.9L1256.1 1608.7L1256.5 1615.1L1256.9 1615.9L1257.3 1615.8L1257.7 1615.6L1258.1 1615.8L1258.5 1609.9L1258.9 1614.6L1259.3 1615.3L1259.7 1615.5L1260.1 1611.9L1260.5 1613L1260.9 1615L1261.3 1614.5L1261.7 1609.1L1262.1 1610.7L1262.5 1607.6L1262.9 1606.4L1263.3 1606.7L1263.7 1609.7L1264.1 1607.3L1264.5 1608.5L1264.9 1610.5L1265.3 1612.2L1265.7 1611.8L1266.1 1609.1L1266.5 1612.5L1266.9 1608.2L1267.3 1606.8L1267.7 1609.6L1268.1 1608.7L1268.5 1612.1L1268.9 1615.5L1269.3 1608.6L1269.7 1612.1L1270.1 1615.9L1270.5 1615.5L1270.9 1615.4L1271.3 1612.3L1271.7 1610.5L1272.1 1614.8L1272.5 1614.3L1272.9 1614.7L1273.3 1611.5L1273.7 1614.3L1274.1 1614.4L1274.5 1614L1274.9 1613.1L1275.3 1612.3L1275.7 1609.3L1276.1 1613L1276.5 1612.9L1276.9 1609.2L1277.3 1609.3L1277.7 1613L1278.1 1606.4L1278.5 1607.1L1278.9 1606.5L1279.3 1606.1L1279.7 1611.8L1280.1 1611.3L1280.5 1607.8L1280.9 1606.6L1281.3 1606L1281.7 1607L1282.1 1605.9L1282.5 1610.6L1282.9 1603.7L1283.3 1610.4L1283.7 1603L1284.1 1607.1L1284.5 1611.2L1284.9 1606L1285.3 1606.2L1285.7 1604.6L1286.1 1610.4L1286.5 1611.3L1286.9 1610L1287.3 1608.6L1287.7 1608.6L1288.1 1609.4L1288.5 1608.5L1288.9 1611.1L1289.3 1610.8L1289.7 1607.4L1290.1 1607.5L1290.5 1607.6L1290.9 1610.3L1291.3 1609.8L1291.7 1609.5L1292.1 1609.3L1292.5 1606.9L1292.9 1614.1L1293.3 1610.5L1293.7 1612.3L1294.1 1603.8L1294.5 1611.5L1294.9 1613.9L1295.3 1613.5L1295.7 1612.6L1296.1 1612.4L1296.5 1611.2L1296.9 1612.6L1297.3 1611.3L1297.7 1611.3L1298.1 1610.7L1298.5 1608.5L1298.9 1612.8L1299.3 1613.9L1299.7 1613.8L1300.1 1613.4L1300.5 1610.5L1300.9 1611.4L1301.3 1611.5L1301.7 1609.8L1302.1 1611.2L1302.5 1611.6L1302.9 1610.9L1303.3 1611.2L1303.7 1607.7L1304.1 1611.6L1304.5 1609.9L1304.9 1609.9L1305.3 1606.9L1305.7 1608.8L1306.1 1611L1306.5 1610.9L1306.9 1613.5L1307.3 1609.3L1307.7 1613.9L1308.1 1608.7L1308.5 1613.3L1308.9 1609.3L1309.3 1608.7L1309.7 1611.1L1310.1 1606.8L1310.5 1611.1L1310.9 1606.7L1311.3 1606.3L1311.7 1610.1L1312.1 1609.7L1312.5 1604.8L1312.9 1609.5L1313.3 1606.9L1313.7 1604.9L1314.1 1608.4L1314.5 1607.6L1314.9 1604.6L1315.3 1603.4L1315.7 1605.7L1316.1 1604.4L1316.5 1608.1L1316.9 1605.7L1317.3 1606.4L1317.7 1604.9L1318.1 1604.4L1318.5 1607.5L1318.9 1605.9L1319.3 1603.7L1319.3 1634.6L1318.9 1638.4L1318.5 1644L1318.1 1636.8L1317.7 1643.4L1317.3 1640.4L1316.9 1642.8L1316.5 1640.2L1316.1 1635.9L1315.7 1635.9L1315.3 1634.7L1314.9 1639.6L1314.5 1641L1314.1 1636L1313.7 1635.9L1313.3 1636L1312.9 1643.6L1312.5 1643.8L1312.1 1643.2L1311.7 1645.8L1311.3 1641.3L1310.9 1638.7L1310.5 1640.4L1310.1 1637.8L1309.7 1638.7L1309.3 1638.6L1308.9 1636.1L1308.5 1637.1L1308.1 1637.8L1307.7 1640.1L1307.3 1639.2L1306.9 1636L1306.5 1640.1L1306.1 1636.8L1305.7 1639.5L1305.3 1639.9L1304.9 1637.8L1304.5 1636.7L1304.1 1637L1303.7 1641.6L1303.3 1639.3L1302.9 1641.9L1302.5 1639.7L1302.1 1648.4L1301.7 1641.6L1301.3 1638.3L1300.9 1641.9L1300.5 1639.7L1300.1 1643.9L1299.7 1640L1299.3 1641.9L1298.9 1639.6L1298.5 1638.7L1298.1 1644.9L1297.7 1638.4L1297.3 1644.8L1296.9 1639.7L1296.5 1638.9L1296.1 1643.3L1295.7 1644.9L1295.3 1639.9L1294.9 1638.5L1294.5 1643.8L1294.1 1642.8L1293.7 1639.8L1293.3 1639.1L1292.9 1638L1292.5 1638.1L1292.1 1636.9L1291.7 1638.5L1291.3 1636.1L1290.9 1642.5L1290.5 1636.4L1290.1 1637.6L1289.7 1638.8L1289.3 1637.7L1288.9 1641.9L1288.5 1639.8L1288.1 1639.5L1287.7 1645.8L1287.3 1639.5L1286.9 1639.4L1286.5 1646.2L1286.1 1643.1L1285.7 1639.6L1285.3 1638.6L1284.9 1637.8L1284.5 1641L1284.1 1639.3L1283.7 1637.5L1283.3 1639.9L1282.9 1642.9L1282.5 1641.1L1282.1 1638L1281.7 1643L1281.3 1640.6L1280.9 1637.8L1280.5 1645L1280.1 1642.1L1279.7 1637.9L1279.3 1640.8L1278.9 1637.3L1278.5 1637.7L1278.1 1636.8L1277.7 1640.9L1277.3 1637.7L1276.9 1642.5L1276.5 1641.6L1276.1 1640.8L1275.7 1643.6L1275.3 1640.4L1274.9 1640.7L1274.5 1645.6L1274.1 1646.3L1273.7 1648.2L1273.3 1643.5L1272.9 1645.3L1272.5 1642.7L1272.1 1642L1271.7 1644.5L1271.3 1643.4L1270.9 1648L1270.5 1645.3L1270.1 1642.3L1269.7 1647L1269.3 1640.7L1268.9 1641.9L1268.5 1640.6L1268.1 1641.2L1267.7 1639L1267.3 1643.6L1266.9 1638.4L1266.5 1642.6L1266.1 1641.7L1265.7 1638.8L1265.3 1643.9L1264.9 1642.7L1264.5 1641.9L1264.1 1638.2L1263.7 1640.5L1263.3 1638.1L1262.9 1639.4L1262.5 1638.2L1262.1 1640.6L1261.7 1643.9L1261.3 1644.4L1260.9 1642.6L1260.5 1642.4L1260.1 1640.6L1259.7 1641.1L1259.3 1642.3L1258.9 1643.7L1258.5 1645.4L1258.1 1642.6L1257.7 1643.3L1257.3 1646.7L1256.9 1647.8L1256.5 1644.4L1256.1 1642.1L1255.7 1647.6L1255.3 1642.2L1254.9 1646.6L1254.5 1639.6L1254.1 1646.8L1253.7 1641.9L1253.3 1643.6L1252.9 1641.4L1252.5 1641.9L1252.1 1643.3L1251.7 1649.5L1251.3 1642.7L1250.9 1653.1L1250.5 1648.5L1250.1 1642.7L1249.7 1642.1L1249.3 1647.3L1248.9 1645.7L1248.5 1644.9L1248.1 1642.1L1247.7 1642.8L1247.3 1642.3L1246.9 1643.3L1246.5 1643.5L1246.1 1645.6L1245.7 1647.7L1245.3 1647.7L1244.9 1646.8L1244.5 1645.2L1244.1 1647L1243.7 1647.5L1243.3 1643.6L1242.9 1644.7L1242.5 1649.3L1242.1 1644L1241.7 1645.2L1241.3 1649.8L1240.9 1644.8L1240.5 1649.6L1240.1 1645L1239.7 1649.8L1239.3 1646.9L1238.9 1645.9L1238.5 1644.7L1238.1 1644.2L1237.7 1647.1L1237.3 1644.1L1236.9 1643.3L1236.5 1647.1L1236.1 1642.6L1235.7 1644.5L1235.3 1642.2L1234.9 1647.7L1234.5 1643.9L1234.1 1641.2L1233.7 1641.3L1233.3 1641.4L1232.9 1642.2L1232.5 1646.5L1232.1 1646.9L1231.7 1644.6L1231.3 1644.1L1230.9 1646.3L1230.5 1649.7L1230.1 1643.1L1229.7 1645.8L1229.3 1642.2L1228.9 1642.4L1228.5 1643.9L1228.1 1649L1227.7 1645.2L1227.3 1642.2L1226.9 1644L1226.5 1643.3L1226.1 1644.3L1225.7 1644.7L1225.3 1642.1L1224.9 1647.9L1224.5 1645.2L1224.1 1644.6L1223.7 1647.5L1223.3 1648.9L1222.9 1645L1222.5 1642.8L1222.1 1646.9L1221.7 1645L1221.3 1644.2L1220.9 1643.3L1220.5 1647.5L1220.1 1641.7L1219.7 1643.6L1219.3 1652L1218.9 1641.6L1218.5 1640.7L1218.1 1648L1217.7 1645.4L1217.3 1641.1L1216.9 1642.8L1216.5 1643L1216.1 1642.8L1215.7 1645.1L1215.3 1648.3L1214.9 1643.7L1214.5 1642.8L1214.1 1641.4L1213.7 1644.3L1213.3 1641.2L1212.9 1641.5L1212.5 1643.5L1212.1 1645.4L1211.7 1643.8L1211.3 1649L1210.9 1643.2L1210.5 1647.6L1210.1 1651L1209.7 1649.4L1209.3 1645.1L1208.9 1648.3L1208.5 1645.6L1208.1 1646L1207.7 1644.4L1207.3 1646L1206.9 1646.6L1206.5 1649.9L1206.1 1650.9L1205.7 1643.6L1205.3 1647L1204.9 1647.1L1204.5 1643.7L1204.1 1644.7L1203.7 1648.5L1203.3 1641.9L1202.9 1646.2L1202.5 1645.7L1202.1 1642.8L1201.7 1643.7L1201.3 1647.8L1200.9 1644.4L1200.5 1649.3L1200.1 1650.2L1199.7 1646.3L1199.3 1648.9L1198.9 1650.9L1198.5 1644.3L1198.1 1650.1L1197.7 1646.9L1197.3 1649.2L1196.9 1648.2L1196.5 1646.3L1196.1 1647.2L1195.7 1645.1L1195.3 1646.2L1194.9 1646.1L1194.5 1647.5L1194.1 1647.4L1193.7 1642.7L1193.3 1643.2L1192.9 1641.9L1192.5 1643.7L1192.1 1646.6L1191.7 1643.1L1191.3 1643L1190.9 1645.2L1190.5 1649.5L1190.1 1644.5L1189.7 1645.5L1189.3 1646.6L1188.9 1647.4L1188.5 1648L1188.1 1649.3L1187.7 1651.2L1187.3 1649.8L1186.9 1647.2L1186.5 1648.1L1186.1 1647.9L1185.7 1651.9L1185.3 1647.4L1184.9 1646.6L1184.5 1648.4L1184.1 1652.6L1183.7 1647.5L1183.3 1648.1L1182.9 1651.1L1182.5 1647.2L1182.1 1647.8L1181.7 1652.5L1181.3 1649.4L1180.9 1648.8L1180.5 1651.4L1180.1 1651.5L1179.7 1648.2L1179.3 1651.7L1178.9 1650.6L1178.5 1648.1L1178.1 1648.7L1177.7 1655.4L1177.3 1650.7L1176.9 1653.6L1176.5 1650.6L1176.1 1656.1L1175.7 1656.2L1175.3 1650L1174.9 1651.7L1174.5 1654.4L1174.1 1652.9L1173.7 1652.6L1173.3 1647.9L1172.9 1648L1172.5 1648.4L1172.1 1648.8L1171.7 1655L1171.3 1653.2L1170.9 1656.3L1170.5 1651.2L1170.1 1655.4L1169.7 1654.4L1169.3 1652.1L1168.9 1651.4L1168.5 1653.6L1168.1 1650.1L1167.7 1654.4L1167.3 1650.4L1166.9 1652.1L1166.5 1650.8L1166.1 1651.2L1165.7 1657.3L1165.3 1654.8L1164.9 1656.6L1164.5 1655L1164.1 1653.3L1163.7 1651.7L1163.3 1653.6L1162.9 1652.9L1162.5 1652.6L1162.1 1652.7L1161.7 1652.8L1161.3 1654.8L1160.9 1653.1L1160.5 1653.9L1160.1 1661L1159.7 1655L1159.3 1654.8L1158.9 1655.5L1158.5 1655L1158.1 1659.3L1157.7 1661.5L1157.3 1655.9L1156.9 1656.6L1156.5 1657.7L1156.1 1658.2L1155.7 1656.1L1155.3 1654.1L1154.9 1659.7L1154.5 1656.1L1154.1 1655.8L1153.7 1655.8L1153.3 1662.6L1152.9 1662.5L1152.5 1656.3L1152.1 1659.6L1151.7 1655.6L1151.3 1658.3L1150.9 1656.6L1150.5 1656L1150.1 1663.3L1149.7 1656.8L1149.3 1659L1148.9 1659.2L1148.5 1661L1148.1 1661.8L1147.7 1659.5L1147.3 1659.5L1146.9 1664.8L1146.5 1660.6L1146.1 1665.2L1145.7 1660.1L1145.3 1662.9L1144.9 1659.9L1144.5 1661.5L1144.1 1666.8L1143.7 1661.7L1143.3 1664.1L1142.9 1662.4L1142.5 1665.3L1142.1 1660.1L1141.7 1666.6L1141.3 1663.2L1140.9 1663.2L1140.5 1660.8L1140.1 1666.8L1139.7 1660.4L1139.3 1661.4L1138.9 1664.1L1138.5 1660.4L1138.1 1663.3L1137.7 1663.3L1137.3 1665.7L1136.9 1663.2L1136.5 1661.9L1136.1 1659.9L1135.7 1666.9L1135.3 1659.6L1134.9 1665.4L1134.5 1663L1134.1 1666.9L1133.7 1670.9L1133.3 1662L1132.9 1660.5L1132.5 1666.9L1132.1 1660.8L1131.7 1664.9L1131.3 1662.8L1130.9 1664.2L1130.5 1662.8L1130.1 1661.6L1129.7 1665.1L1129.3 1663.2L1128.9 1662.3L1128.5 1664.4L1128.1 1667.6L1127.7 1664.9L1127.3 1668.5L1126.9 1664L1126.5 1664.8L1126.1 1668.6L1125.7 1672.4L1125.3 1668.6L1124.9 1670.6L1124.5 1668.2L1124.1 1669.8L1123.7 1667.7L1123.3 1675.1L1122.9 1673L1122.5 1673L1122.1 1675.6L1121.7 1669.2L1121.3 1670.7L1120.9 1677.1L1120.5 1668.8L1120.1 1671.8L1119.7 1678L1119.3 1670L1118.9 1672L1118.5 1675.1L1118.1 1677.2L1117.7 1673.4L1117.3 1677.2L1116.9 1673L1116.5 1671.7L1116.1 1676.8L1115.7 1677.5L1115.3 1674.3L1114.9 1671.9L1114.5 1679.9L1114.1 1672L1113.7 1678.9L1113.3 1673.8L1112.9 1672.5L1112.5 1672.8L1112.1 1678.6L1111.7 1675.5L1111.3 1675.7L1110.9 1674.4L1110.5 1678.9L1110.1 1678.1L1109.7 1674.9L1109.3 1677.5L1108.9 1683.1L1108.5 1677L1108.1 1679.4L1107.7 1685.9L1107.3 1683.3L1106.9 1680.5L1106.5 1684.9L1106.1 1677.4L1105.7 1677.2L1105.3 1677.1L1104.9 1677.9L1104.5 1682.4L1104.1 1678.1L1103.7 1684.9L1103.3 1682.4L1102.9 1687.5L1102.5 1684.5L1102.1 1687L1101.7 1683.6L1101.3 1684.3L1100.9 1686.3L1100.5 1685.9L1100.1 1687.6L1099.7 1684L1099.3 1683.7L1098.9 1682L1098.5 1681.2L1098.1 1683.6L1097.7 1687.7L1097.3 1688.3L1096.9 1686.6L1096.5 1688.8L1096.1 1686.5L1095.7 1685.4L1095.3 1686.6L1094.9 1686.3L1094.5 1686.8L1094.1 1691.1L1093.7 1692.4L1093.3 1688.7L1092.9 1693.2L1092.5 1689.3L1092.1 1690L1091.7 1688.3L1091.3 1691.8L1090.9 1691.7L1090.5 1690L1090.1 1686.6L1089.7 1687.1L1089.3 1693.3L1088.9 1686.4L1088.5 1690.8L1088.1 1686.5L1087.7 1691.3L1087.3 1693.5L1086.9 1690.4L1086.5 1696.4L1086.1 1691.7L1085.7 1693.7L1085.3 1691.6L1084.9 1691.6L1084.5 1695.5L1084.1 1694.9L1083.7 1695.3L1083.3 1697L1082.9 1693.7L1082.5 1701.3L1082.1 1692.8L1081.7 1690.8L1081.3 1693.8L1080.9 1696.8L1080.5 1691.2L1080.1 1690.6L1079.7 1692.5L1079.3 1697.9L1078.9 1691.6L1078.5 1692.1L1078.1 1692.3L1077.7 1693L1077.3 1691.7L1076.9 1697.2L1076.5 1696L1076.1 1699.9L1075.7 1696.3L1075.3 1701.7L1074.9 1695.4L1074.5 1697.7L1074.1 1695.3L1073.7 1701L1073.3 1695.2L1072.9 1696L1072.5 1695.6L1072.1 1698.5L1071.7 1697.1L1071.3 1692.3L1070.9 1701L1070.5 1694.1L1070.1 1692.5L1069.7 1700.7L1069.3 1697L1068.9 1692.9L1068.5 1692.8L1068.1 1696.7L1067.7 1693L1067.3 1697.9L1066.9 1698.6L1066.5 1695.3L1066.1 1693.7L1065.7 1688.3L1065.3 1691.1L1064.9 1687.4L1064.5 1691.4L1064.1 1687.8L1063.7 1698.4L1063.3 1689.8L1062.9 1688.8L1062.5 1692.2L1062.1 1694.1L1061.7 1693.9L1061.3 1689.3L1060.9 1695.8L1060.5 1690.2L1060.1 1692.5L1059.7 1692.9L1059.3 1691.1L1058.9 1689.1L1058.5 1686.8L1058.1 1688.4L1057.7 1686.7L1057.3 1691.3L1056.9 1685.7L1056.5 1687.6L1056.1 1691.2L1055.7 1690L1055.3 1688.8L1054.9 1683.6L1054.5 1688.5L1054.1 1684.1L1053.7 1687.2L1053.3 1687.5L1052.9 1691.5L1052.5 1682.6L1052.1 1682.4L1051.7 1681.8L1051.3 1681.9L1050.9 1682.9L1050.5 1688.2L1050.1 1681.5L1049.7 1679.8L1049.3 1679.5L1048.9 1685.4L1048.5 1682.7L1048.1 1683.7L1047.7 1685.3L1047.3 1687.6L1046.9 1681.2L1046.5 1681L1046.1 1682.3L1045.7 1679.3L1045.3 1680.4L1044.9 1680.5L1044.5 1677.1L1044.1 1677.4L1043.7 1677.9L1043.3 1677.7L1042.9 1677.8L1042.5 1685.6L1042.1 1677.9L1041.7 1679.6L1041.3 1685.9L1040.9 1677.3L1040.5 1684.4L1040.1 1682.5L1039.7 1675.1L1039.3 1673.2L1038.9 1673.3L1038.5 1672.3L1038.1 1678.6L1037.7 1672.1L1037.3 1673L1036.9 1671.5L1036.5 1678.8L1036.1 1673.9L1035.7 1673.9L1035.3 1671.8L1034.9 1668.7L1034.5 1674.4L1034.1 1670.1L1033.7 1667L1033.3 1667.9L1032.9 1667L1032.5 1665.5L1032.1 1665.2L1031.7 1667.9L1031.3 1666L1030.9 1668.4L1030.5 1670.3L1030.1 1671.2L1029.7 1667.5L1029.3 1662.9L1028.9 1661.2L1028.5 1660.5L1028.1 1667.6L1027.7 1660.3L1027.3 1662.6L1026.9 1665.7L1026.5 1665.1L1026.1 1661.6L1025.7 1664.2L1025.3 1658.3L1024.9 1656.3L1024.5 1656.1L1024.1 1660.9L1023.7 1659.5L1023.3 1658.9L1022.9 1654.7L1022.5 1650.8L1022.1 1652.2L1021.7 1651.6L1021.3 1649.9L1020.9 1647.3L1020.5 1648.2L1020.1 1647.1L1019.7 1651.5L1019.3 1643.9L1018.9 1643.5L1018.5 1646.1L1018.1 1643.1L1017.7 1647.4L1017.3 1641.7L1016.9 1638.6L1016.5 1640.9L1016.1 1636.2L1015.7 1637.1L1015.3 1634.3L1014.9 1635.2L1014.5 1632.5L1014.1 1632.6L1013.7 1630.7L1013.3 1633.4L1012.9 1631.4L1012.5 1635.4L1012.1 1634L1011.7 1632.4L1011.3 1635.4L1010.9 1631L1010.5 1631L1010.1 1631.5L1009.7 1628.8L1009.3 1629.3L1008.9 1628.5L1008.5 1630.9L1008.1 1628.7L1007.7 1632.5L1007.3 1632L1006.9 1629.7L1006.5 1632.5L1006.1 1635.1L1005.7 1633.9L1005.3 1631.8L1004.9 1632L1004.5 1633.5L1004.1 1634.6L1003.7 1630.4L1003.3 1634.3L1002.9 1632.5L1002.5 1635.7L1002.1 1634.9L1001.7 1634L1001.3 1631.3L1000.9 1632.1L1000.5 1633.3L1000.1 1626.9L999.7 1628.2L999.3 1626.5L998.9 1627.1L998.5 1630.2L998.1 1631.7L997.7 1629.7L997.3 1632.7L996.9 1634.6L996.5 1630.7L996.1 1634.7L995.7 1636.1L995.3 1633.8L994.9 1631.1L994.5 1628.9L994.1 1629.2L993.7 1632.2L993.3 1629.9L992.9 1629.7L992.5 1628.9L992.1 1630.5L991.7 1632.3L991.3 1630.6L990.9 1630.7L990.5 1628.2L990.1 1626.6L989.7 1631.1L989.3 1630.4L988.9 1632.8L988.5 1627.8L988.1 1631.1L987.7 1628.4L987.3 1630.3L986.9 1634.3L986.5 1629.8L986.1 1629.9L985.7 1632.4L985.3 1633.3L984.9 1633L984.5 1634.6L984.1 1637.1L983.7 1633.3L983.3 1633.1L982.9 1632.6L982.5 1628.4L982.1 1634L981.7 1627.9L981.3 1631.1L980.9 1628.1L980.5 1631.3L980.1 1627.6L979.7 1627.6L979.3 1629.4L978.9 1627.8L978.5 1628.2L978.1 1628L977.7 1632.3L977.3 1632.4L976.9 1629L976.5 1627.8L976.1 1632.3L975.7 1627.4L975.3 1631.3L974.9 1628.8L974.5 1627.9L974.1 1630.7L973.7 1632.6L973.3 1634.7L972.9 1629.6L972.5 1632.8L972.1 1630L971.7 1635.6L971.3 1634.1L970.9 1630.3L970.5 1628.8L970.1 1633L969.7 1632.9L969.3 1628.2L968.9 1629.4L968.5 1632.8L968.1 1632.5L967.7 1634L967.3 1633.3L966.9 1632.7L966.5 1630L966.1 1629.6L965.7 1629.2L965.3 1631.8L964.9 1633.9L964.5 1636.4L964.1 1630L963.7 1628.4L963.3 1630.2L962.9 1628.2L962.5 1633.5L962.1 1628.2L961.7 1629L961.3 1631L960.9 1635L960.5 1629.1L960.1 1629.3L959.7 1632.6L959.3 1633.2L958.9 1631.1L958.5 1628.7L958.1 1633.1L957.7 1630L957.3 1628.9L956.9 1631.8L956.5 1633.7L956.1 1629.5L955.7 1632.7L955.3 1629.6L954.9 1632.2L954.5 1632.1L954.1 1632.9L953.7 1628.7L953.3 1630.3L952.9 1628.2L952.5 1628.3L952.1 1627L951.7 1629.1L951.3 1627.2L950.9 1626.5L950.5 1630.3L950.1 1630L949.7 1627L949.3 1629.5L948.9 1629.6L948.5 1627.6L948.1 1630.3L947.7 1627.3L947.3 1628.9L946.9 1626L946.5 1628.1L946.1 1631.6L945.7 1630L945.3 1626.2L944.9 1626.8L944.5 1627.1L944.1 1630.3L943.7 1632.2L943.3 1631.4L942.9 1630.5L942.5 1633L942.1 1632.8L941.7 1631L941.3 1629.2L940.9 1632L940.5 1634.4L940.1 1630.5L939.7 1629.1L939.3 1628.3L938.9 1628.5L938.5 1628.7L938.1 1630.5L937.7 1632.5L937.3 1628.9L936.9 1628.6L936.5 1629.6L936.1 1627.4L935.7 1629.4L935.3 1630.3L934.9 1631.8L934.5 1632L934.1 1628L933.7 1629.6L933.3 1627.6L932.9 1628.7L932.5 1628.4L932.1 1634L931.7 1628.4L931.3 1627.9L930.9 1627.9L930.5 1631.5L930.1 1633.4L929.7 1628.1L929.3 1630.8L928.9 1630.2L928.5 1634.2L928.1 1631.4L927.7 1633.8L927.3 1634.6L926.9 1631.3L926.5 1632.9L926.1 1629.4L925.7 1631.9L925.3 1629.8L924.9 1634.9L924.5 1630.5L924.1 1629.2L923.7 1629L923.3 1632.5L922.9 1629.1L922.5 1628.9L922.1 1630L921.7 1629.8L921.3 1628.8L920.9 1630.8L920.5 1628.3L920.1 1628.4L919.7 1627L919.3 1628.2L918.9 1630.5L918.5 1627.1L918.1 1627.9L917.7 1628.1L917.3 1626.8L916.9 1628.6L916.5 1633.7L916.1 1631.3L915.7 1628.9L915.3 1632.3L914.9 1628.1L914.5 1629.3L914.1 1630L913.7 1627.7L913.3 1631.4L912.9 1631.2L912.5 1630.4Z" fill="#231f20" filter="url(#soft)"/>
<line x1="1126" y1="1640" x2="1126" y2="1610" stroke="#8a8a8a" stroke-width="0.7"/>
<text x="1197.2" y="1552.1" font-size="26.4" text-anchor="start">50 pA</text>
<path d="M1278.8 1528.5V1562.6H1311.1" fill="none" stroke="#231f20" stroke-width="2.2"/>
<text x="1278.6" y="1592.1" font-size="26.4" text-anchor="start">5 s</text>
</g>
</svg></body></html>
